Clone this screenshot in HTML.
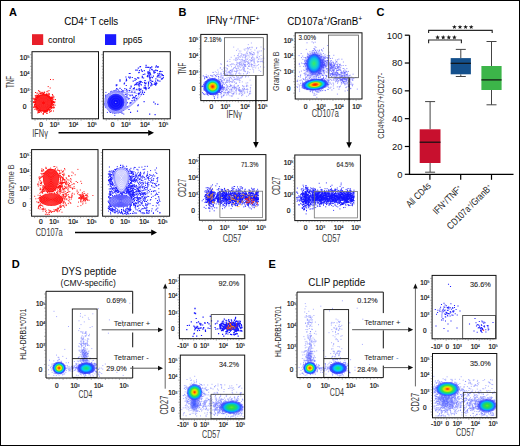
<!DOCTYPE html>
<html><head><meta charset="utf-8"><style>
html,body{margin:0;padding:0;background:#fff;}
body{width:520px;height:446px;overflow:hidden;font-family:"Liberation Sans", sans-serif;}
svg{display:block;}
</style></head><body><svg width="520" height="446" viewBox="0 0 520 446" font-family='"Liberation Sans", sans-serif'><defs><radialGradient id="p2core"><stop offset="0" stop-color="#0a0aff"/><stop offset="0.75" stop-color="#1616ff"/><stop offset="1" stop-color="#4a4aff"/></radialGradient><radialGradient id="g1"><stop offset="0" stop-color="#ff1a00" stop-opacity="1"/><stop offset="0.12" stop-color="#ff5a00" stop-opacity="1"/><stop offset="0.24" stop-color="#ffb000" stop-opacity="1"/><stop offset="0.36" stop-color="#c8f000" stop-opacity="1"/><stop offset="0.46" stop-color="#30e050" stop-opacity="1"/><stop offset="0.6" stop-color="#00c8ff" stop-opacity="1"/><stop offset="0.74" stop-color="#1f4dff" stop-opacity="1"/><stop offset="0.88" stop-color="#2a2aff" stop-opacity="0.8"/><stop offset="1" stop-color="#4a4aff" stop-opacity="0"/></radialGradient><radialGradient id="g2"><stop offset="0" stop-color="#2a40ff" stop-opacity="0.9"/><stop offset="0.6" stop-color="#2a30ff" stop-opacity="0.75"/><stop offset="1" stop-color="#4040ff" stop-opacity="0"/></radialGradient><radialGradient id="g3"><stop offset="0" stop-color="#40e860" stop-opacity="1"/><stop offset="0.25" stop-color="#20e0a0" stop-opacity="1"/><stop offset="0.5" stop-color="#10c8d8" stop-opacity="1"/><stop offset="0.7" stop-color="#1090ff" stop-opacity="1"/><stop offset="0.88" stop-color="#2050ff" stop-opacity="0.7"/><stop offset="1" stop-color="#3040ff" stop-opacity="0"/></radialGradient><radialGradient id="g4"><stop offset="0" stop-color="#ff1a00" stop-opacity="1"/><stop offset="0.16" stop-color="#ff4a00" stop-opacity="1"/><stop offset="0.3" stop-color="#ffd000" stop-opacity="1"/><stop offset="0.45" stop-color="#40e040" stop-opacity="1"/><stop offset="0.6" stop-color="#00c8ff" stop-opacity="1"/><stop offset="0.76" stop-color="#1f4dff" stop-opacity="1"/><stop offset="0.9" stop-color="#3030ff" stop-opacity="0.7"/><stop offset="1" stop-color="#4a4aff" stop-opacity="0"/></radialGradient><radialGradient id="g5"><stop offset="0" stop-color="#3040ff" stop-opacity="0.6"/><stop offset="0.6" stop-color="#3a40ff" stop-opacity="0.3"/><stop offset="1" stop-color="#5050ff" stop-opacity="0"/></radialGradient><radialGradient id="g6"><stop offset="0" stop-color="#ff1a00" stop-opacity="1"/><stop offset="0.18" stop-color="#ff8c00" stop-opacity="1"/><stop offset="0.32" stop-color="#ffee00" stop-opacity="1"/><stop offset="0.48" stop-color="#33e53a" stop-opacity="1"/><stop offset="0.62" stop-color="#00c8ff" stop-opacity="1"/><stop offset="0.78" stop-color="#1f4dff" stop-opacity="1"/><stop offset="0.92" stop-color="#3a3aff" stop-opacity="0.6"/><stop offset="1" stop-color="#5050ff" stop-opacity="0"/></radialGradient><radialGradient id="g7"><stop offset="0" stop-color="#20e060" stop-opacity="1"/><stop offset="0.22" stop-color="#10e0a0" stop-opacity="1"/><stop offset="0.42" stop-color="#00c8ff" stop-opacity="1"/><stop offset="0.66" stop-color="#1f4dff" stop-opacity="1"/><stop offset="0.86" stop-color="#2a2aff" stop-opacity="0.75"/><stop offset="1" stop-color="#4a4aff" stop-opacity="0"/></radialGradient><radialGradient id="g8"><stop offset="0" stop-color="#3050ff" stop-opacity="0.9"/><stop offset="0.7" stop-color="#4858ff" stop-opacity="0.55"/><stop offset="1" stop-color="#6070ff" stop-opacity="0"/></radialGradient><radialGradient id="g9"><stop offset="0" stop-color="#ff2000" stop-opacity="1"/><stop offset="0.1" stop-color="#ff6a00" stop-opacity="1"/><stop offset="0.2" stop-color="#ffc000" stop-opacity="1"/><stop offset="0.32" stop-color="#c0f000" stop-opacity="1"/><stop offset="0.46" stop-color="#40e040" stop-opacity="1"/><stop offset="0.6" stop-color="#10d0a0" stop-opacity="1"/><stop offset="0.7" stop-color="#00a8ff" stop-opacity="1"/><stop offset="0.82" stop-color="#2050ff" stop-opacity="0.8"/><stop offset="0.93" stop-color="#3a3aff" stop-opacity="0.45"/><stop offset="1" stop-color="#4a4aff" stop-opacity="0"/></radialGradient><radialGradient id="g10"><stop offset="0" stop-color="#60e830" stop-opacity="1"/><stop offset="0.2" stop-color="#30dc40" stop-opacity="1"/><stop offset="0.42" stop-color="#10d090" stop-opacity="1"/><stop offset="0.58" stop-color="#00b0ff" stop-opacity="1"/><stop offset="0.72" stop-color="#1f5aff" stop-opacity="0.9"/><stop offset="0.86" stop-color="#2a2aff" stop-opacity="0.55"/><stop offset="1" stop-color="#4a4aff" stop-opacity="0"/></radialGradient><radialGradient id="g11"><stop offset="0" stop-color="#3040ff" stop-opacity="0.45"/><stop offset="0.6" stop-color="#3a40ff" stop-opacity="0.25"/><stop offset="1" stop-color="#5050ff" stop-opacity="0"/></radialGradient><radialGradient id="g12"><stop offset="0" stop-color="#ff1a00" stop-opacity="1"/><stop offset="0.18" stop-color="#ff8c00" stop-opacity="1"/><stop offset="0.32" stop-color="#ffee00" stop-opacity="1"/><stop offset="0.48" stop-color="#33e53a" stop-opacity="1"/><stop offset="0.62" stop-color="#00c8ff" stop-opacity="1"/><stop offset="0.78" stop-color="#1f4dff" stop-opacity="1"/><stop offset="0.92" stop-color="#3a3aff" stop-opacity="0.6"/><stop offset="1" stop-color="#5050ff" stop-opacity="0"/></radialGradient><radialGradient id="g13"><stop offset="0" stop-color="#20e060" stop-opacity="1"/><stop offset="0.22" stop-color="#10e0a0" stop-opacity="1"/><stop offset="0.42" stop-color="#00c8ff" stop-opacity="1"/><stop offset="0.66" stop-color="#1f4dff" stop-opacity="1"/><stop offset="0.86" stop-color="#2a2aff" stop-opacity="0.75"/><stop offset="1" stop-color="#4a4aff" stop-opacity="0"/></radialGradient><radialGradient id="g14"><stop offset="0" stop-color="#3a50ff" stop-opacity="0.45"/><stop offset="0.7" stop-color="#4858ff" stop-opacity="0.25"/><stop offset="1" stop-color="#6070ff" stop-opacity="0"/></radialGradient><radialGradient id="g15"><stop offset="0" stop-color="#ff2000" stop-opacity="1"/><stop offset="0.1" stop-color="#ff6a00" stop-opacity="1"/><stop offset="0.2" stop-color="#ffc000" stop-opacity="1"/><stop offset="0.32" stop-color="#c0f000" stop-opacity="1"/><stop offset="0.46" stop-color="#40e040" stop-opacity="1"/><stop offset="0.6" stop-color="#10d0a0" stop-opacity="1"/><stop offset="0.7" stop-color="#00a8ff" stop-opacity="1"/><stop offset="0.82" stop-color="#2050ff" stop-opacity="0.8"/><stop offset="0.93" stop-color="#3a3aff" stop-opacity="0.45"/><stop offset="1" stop-color="#4a4aff" stop-opacity="0"/></radialGradient><radialGradient id="g16"><stop offset="0" stop-color="#60e830" stop-opacity="1"/><stop offset="0.2" stop-color="#30dc40" stop-opacity="1"/><stop offset="0.42" stop-color="#10d090" stop-opacity="1"/><stop offset="0.58" stop-color="#00b0ff" stop-opacity="1"/><stop offset="0.72" stop-color="#1f5aff" stop-opacity="0.9"/><stop offset="0.86" stop-color="#2a2aff" stop-opacity="0.55"/><stop offset="1" stop-color="#4a4aff" stop-opacity="0"/></radialGradient></defs><rect x="0.5" y="0.5" width="519" height="445" fill="#fff" stroke="#000" stroke-width="1"/><text x="9.00" y="16.30" font-size="11" text-anchor="start" fill="#000" font-weight="bold" >A</text><text x="178.50" y="16.00" font-size="11" text-anchor="start" fill="#000" font-weight="bold" >B</text><text x="376.50" y="16.30" font-size="11" text-anchor="start" fill="#000" font-weight="bold" >C</text><text x="11.80" y="267.60" font-size="11" text-anchor="start" fill="#000" font-weight="bold" >D</text><text x="268.60" y="267.60" font-size="11" text-anchor="start" fill="#000" font-weight="bold" >E</text><text x="64.20" y="25.20" font-size="10.3" text-anchor="start" fill="#000" textLength="54" lengthAdjust="spacingAndGlyphs" >CD4<tspan font-size="7" dy="-3.2">+</tspan><tspan dy="3.2"> T cells</tspan></text><rect x="32" y="34.2" width="11.2" height="10.8" fill="#e8202a"/><rect x="105" y="34.2" width="11.2" height="10.8" fill="#1a1aff"/><text x="48.00" y="43.30" font-size="9.6" text-anchor="start" fill="#000" textLength="27" lengthAdjust="spacingAndGlyphs" >control</text><text x="123.00" y="43.30" font-size="9.6" text-anchor="start" fill="#000" textLength="19.5" lengthAdjust="spacingAndGlyphs" >pp65</text><path transform="scale(0.1)" d="M346 1057h0m8-10h0m115 60h0m-14-150h0m62 125h0m17-64h0m-139-47h0m107 64h0m-43 55h0m-113-41h0m9-30h0m42-53h0m147 61h0m-138 70h0m99-35h0m-16-111h0m-13 19h0m40 8h0m-149 102h0m80-118h0m-69 168h0m61-174h0m68 126h0m-37 18h0m-10-7h0m-73-125h0m70 154h0m8-180h0m-8 176h0m-82-163h0m80 161h0m-52-28h0m93-20h0m-125-86h0m144 26h0m-33-31h0m34 0h0m-88-53h0m44 210h0m-95-74h0m142-51h0m-89 130h0m-53-150h0m45-31h0m-85 33h0m155 5h0m-65 99h0m45 8h0m26-6h0m23-79h0m-143-22h0m160 45h0m-139-124h0m-38 120h0m156-8h0m-90-99h0m1 10h0m81 45h0m23-25h0m-42 5h0m-117 121h0m146-11h0m-28-99h0m-63-25h0m54 3h0m32 90h0m-69 65h0m-92-152h0m79 146h0m-28-137h0m96 19h0m2-10h0m-38 139h0m66-142h0m-128 130h0m90-166h0m-81-2h0m-44 117h0m-1 19h0m27 55h0m109-104h0m49 31h0m-197-61h0m160 47h0m22 7h0m-96 50h0m-63-127h0m-8-37h0m88 165h0m65-61h0m-54 62h0m-60-147h0m30-10h0m75 37h0m-92-26h0m-58 6h0m6 136h0m100-176h0m-9 199h0m-70-143h0m127-3h0m7 46h0m-134 108h0m116-54h0m-63-106h0m25-19h0m9 163h0m9-16h0m-69-168h0m-31-18h0m119 165h0m-91 40h0m-76-96h0m26-14h0m129-58h0m23 70h0m-57 93h0m-99-135h0m-14 49h0m9-24h0m151 64h0m49-64h0m-128 101h0m-92-24h0m66 33h0m114-117h0m-9 50h0m-100-80h0m-35 10h0m116 111h0m-27 23h0m-83-17h0m103 14h0m-104-141h0m-22 2h0m91 158h0m51-133h0m24-2h0m-30-2h0m-65-20h0m54-11h0m17 139h0m25-51h0m7-68h0m-89-28h0m22 149h0m53-44h0m-143-49h0m95 133h0m69-109h0m-15-21h0m-123 99h0m-21-44h0m29-122h0m67 174h0m-95-41h0m-34-46h0m121-80h0m-86 26h0m-43 58h0m176-44h0m-39-38h0m28 24h0m-57-26h0m64 121h0m13-28h0m-152-72h0m24-8h0m-27 41h0m157 33h0m-79-107h0m79 120h0m-90 54h0m26-3h0m-24 49h0m95-133h0m-160-57h0m145 118h0m22-12h0m-60 44h0m62-33h0m-176 0h0m16 24h0m-24-96h0m60 102h0m106-47h0m-159 38h0m175-68h0m-1 57h0m-20-64h0m-7-17h0m29 17h0m-169-37h0m3 69h0m-14-32h0m42-50h0m-41 20h0m84 136h0m9-166h0m-27 156h0m-63-130h0m109 137h0m54-141h0m-18 70h0m-132 13h0m-4-49h0m27-58h0m-12 127h0m-1 25h0m131-35h0m-131-91h0m-29 91h0m15 29h0m25 8h0m107-114h0m16 94h0m-162-92h0m59 98h0m35 2h0m-44 16h0m13-8h0m6-142h0m-14-22h0m116 54h0m-185 74h0m6 26h0m147-111h0m-111 105h0m-12-4h0m90-141h0m-109 53h0m130-11h0m-130 37h0m170-11h0m-6 54h0m-6 9h0m-8-94h0m-15 117h0m-50 22h0m-80-99h0m22 99h0m-30-109h0m163-26h0m-134-51h0m99-20h0m-98 50h0m80-7h0m33 150h0m-109-26h0m-34-7h0m149-18h0m-106-82h0m119 89h0m-19-69h0m-29 103h0m-44-136h0m43 135h0m-24-147h0m26 15h0m61-11h0m-143 157h0m-14-72h0m170-43h0m-199 27h0m59-46h0m-52 70h0m72-83h0m56 129h0m18-123h0m23 58h0m-43 57h0m9-150h0m-15 31h0m-49-12h0m-9 152h0m105-119h0m-58 124h0m40 14h0m-86-31h0m-5 20h0m-13-29h0m-32 6h0m106-116h0m-83 107h0m-8-76h0m131 22h0m-128-47h0m-16 32h0m16 65h0m80 26h0m59-102h0m-133 120h0m123-41h0m-33 33h0m-99-122h0m103 105h0m47-21h0m-166-6h0m87-144h0m-77 147h0m34-141h0m53 19h0m54 90h0m-120-71h0m-45 57h0m22-52h0m130 14h0m-149 43h0m174-7h0m-39-74h0m-95 33h0m50 135h0m-54 7h0m128-18h0m-2 10h0m-162-120h0m188 29h0m-174-49h0m50 148h0m63-166h0m23 105h0m52-42h0m-162-63h0m41-11h0m30 16h0m-99 82h0m2-49h0m67 109h0m-48-142h0m121 154h0m-140-41h0m77-126h0m102 76h0m-58-58h0m-152 16h0m14 87h0m52 38h0m106-128h0m-67-34h0m70 116h0m-138-34h0m42-67h0m0 136h0m132-19h0m-47-116h0m-45 148h0m59-132h0m-7 117h0m7-66h0m-116 83h0m72-153h0m-87 36h0m122-14h0m27 7h0m-165 54h0m166-62h0m-136 105h0m132-140h0m-68 152h0m29-115h0m-64-45h0m61 41h0m-81-45h0m49 182h0m9-18h0m-63-134h0m-12-17h0m-12 43h0m129 7h0m-127-41h0m-15 104h0m147-9h0m-72 85h0m4-180h0m-92 46h0m168 22h0m-79-88h0m-82 94h0m30-67h0m69-12h0m29 12h0m39 40h0m-48 89h0m-120-29h0m103-111h0m-6 157h0m71-60h0m-177-64h0m120 104h0m-107-57h0m74 65h0m73-112h0m-50-22h0m-46 136h0m-25-120h0m-24 3h0m110 110h0m-68-153h0m-26 129h0m140-53h0m-72-86h0m47 170h0m36-46h0m-43 35h0m-106-28h0m147-32h0m-78 83h0m-5 13h0m-68-22h0m4-122h0m14-11h0m3-54h0m-47 136h0m36 28h0m6 18h0m84-6h0m-114-45h0m169-20h0" stroke="#ff0c0c" stroke-width="10.0" stroke-linecap="square" fill="none"/><circle cx="43.5" cy="102.9" r="8.4" fill="#ff0c0c"/><circle cx="43.5" cy="102.9" r="7.00" fill="none" stroke="#ff7070" stroke-width="0.3"/><circle cx="43.5" cy="102.9" r="6.00" fill="none" stroke="#ff7070" stroke-width="0.3"/><circle cx="43.5" cy="102.9" r="5.00" fill="none" stroke="#ff7070" stroke-width="0.3"/><circle cx="43.5" cy="102.9" r="4.00" fill="none" stroke="#ff7070" stroke-width="0.3"/><circle cx="43.5" cy="102.9" r="3.00" fill="none" stroke="#ff7070" stroke-width="0.3"/><circle cx="43.5" cy="102.9" r="2.00" fill="none" stroke="#ff7070" stroke-width="0.3"/><path transform="scale(0.1)" d="M482 866h0m20 14h0m-12 26h0m-135 19h0m150-130h0m27 1h0m8 174h0m-2 45h0m2 60h0m-5 35h0" stroke="#ff0c0c" stroke-width="10.0" stroke-linecap="square" fill="none"/><path transform="scale(0.1)" d="M1242 839h0m244-10h0m12-49h0m83 29h0m-181-140h0m-185 281h0m42 19h0m97-125h0m-22-33h0m9 76h0m132-122h0m-162 95h0m-140-10h0m217 95h0m-85-173h0m120 4h0m27 78h0m-196 140h0m298-271h0m-167 210h0m-126-163h0m-30 137h0m346-239h0m-77 142h0m43-105h0m-66 55h0m9 98h0m13-156h0m-297 110h0m211 79h0m148-103h0m-19-72h0m-274 178h0m157-179h0m-100 60h0m179-44h0m-207 176h0m198-137h0m-341 170h0m393-110h0m-65-98h0m-180 300h0m321-278h0m-128-22h0m-192 3h0m156 102h0m-65 98h0m-25 51h0m59-78h0m28-36h0m55-69h0m65-97h0m-36 13h0m19-18h0m-53 41h0m-17 141h0m-42-57h0m63 1h0m-164 51h0m148-116h0m-51 111h0m-91-87h0m267 6h0m-141-25h0m-20 117h0m-211-52h0m266-60h0m-311 112h0m194-179h0m-131 150h0m233-134h0m-333 135h0m436-45h0m-221 15h0m180-154h0m-144 176h0m-91 103h0m194-283h0m39 143h0m-95-141h0m47 188h0m8-22h0m-158-135h0m149-24h0m-93 22h0m146 5h0m-75 138h0m-52-97h0m-33 97h0m161-16h0m-9 10h0m-196 125h0m12-68h0m149-200h0m47-35h0m-140 269h0m75-136h0m4-13h0m-216-7h0m95 11h0m63 141h0m89-162h0m-141 173h0m-202 0h0m385-262h0m-397 242h0m224-90h0m-20-143h0m38 29h0m136 142h0m-32-76h0m-122 38h0m-133 98h0m309-176h0m-190 102h0m208-123h0m8-1h0m8 26h0m-246 94h0m-74-99h0m110 186h0m-11-198h0m129 125h0m-13-98h0m-42 132h0m-17-50h0m3-27h0m-104 116h0m-90 22h0m356-155h0m-130 32h0m-87 17h0m-9-57h0m68 100h0m-67 11h0m236-105h0m-233 76h0m0-44h0m149-86h0m-79-58h0m114 128h0m-373 216h0m257-122h0m-162-114h0m229 31h0m-126 81h0m-140-84h0m86 42h0m244-81h0m-356 267h0m258-161h0m91-208h0m-72 181h0m-345 36h0m33-88h0m164 32h0m-6 150h0m-88-21h0m289-116h0m-171-116h0m166 111h0m-235 81h0m8 63h0m280-212h0m-358 116h0m385-130h0m-323 113h0m168-140h0m14 23h0m83 6h0m-322 256h0m234-341h0m-76 270h0m-111-60h0m120-58h0m-157-33h0m172-12h0m-46 75h0m2 29h0m194-128h0m-219 91h0m-32 126h0m101-30h0m41-190h0m-65 62h0m-162 166h0m269-311h0m20 43h0m-62-39h0m-72-9h0m192 69h0m-174 30h0m79-83h0m-262 292h0m94-86h0m114-146h0m75-42h0m97 16h0m-319 241h0m332-179h0m-146-38h0m-28-65h0m-109 131h0m133-86h0m140 27h0m-55 88h0m-107-181h0m-289 263h0m206-139h0m17 128h0m147-60h0m-160 2h0m-219 1h0m316-130h0m-117 75h0m222-42h0m-412 240h0m191-36h0m79-70h0m156-137h0m-149 59h0m-289 95h0m412-133h0m-52 46h0m-148-114h0m90 129h0m-19-123h0m-100 270h0m219-136h0m-296-37h0m285 342h0m-168-98h0m-63-42h0m177 135h0m-188-115h0m229-5h0m40 23h0m-137-28h0m-62 40h0m-4 55h0m-85-16h0m263-56h0m-208-37h0m-39 121h0" stroke="#1c1cff" stroke-width="11.6" stroke-linecap="square" fill="none"/><path transform="scale(0.1)" d="M1082 964h0m10 11h0m-34 101h0m16 48h0m141-164h0m-22-31h0m42 147h0m3 65h0m19-147h0m-201 45h0m154 62h0m-156-89h0m5-36h0m167 91h0m1 65h0m-104-20h0m-64-132h0m42 142h0m-49-133h0m203 78h0m-176-96h0m-16 39h0m91 96h0m68-9h0m-164-131h0m144-18h0m9-29h0m-6 201h0m31-130h0m-21 128h0m14-141h0m-133 127h0m44-176h0m-72 119h0m-11 4h0m62 46h0m128-49h0m4-7h0m27-64h0m-178 107h0m-41-125h0m37 120h0m150-49h0m-101-90h0m53 181h0m-48-194h0m-58 180h0m56 47h0m131-164h0m-62 140h0m10-42h0m-23-140h0m67-10h0m-203 78h0m60 115h0m-73-179h0m93-17h0m97 123h0m-183-65h0m70 129h0m-22-20h0m37 10h0m-13-13h0m-86-64h0m47 63h0m169-60h0m-192-48h0m87-76h0m60 5h0m-76 8h0m-81 75h0m154-106h0m-141 51h0m172 104h0m6-61h0m-35 108h0m-70-186h0m116 115h0m-41-67h0m27 113h0m22-5h0m-209-63h0m37 111h0m146-132h0m-100 121h0m-36 1h0m-56-39h0m213-95h0m-105 152h0m-94-173h0m58 148h0m60 29h0m57-83h0m-57-144h0m-38 234h0m105-130h0m-97-81h0m-12 200h0m-24-26h0m124-92h0m50-19h0m-62-69h0m-170 61h0m158-60h0m-76-7h0m117 104h0m-150-74h0m-24-6h0m52-29h0m-74 138h0m58-99h0m124 78h0m-75 92h0m-53-204h0m110 32h0m-140 18h0m143 96h0m-123-143h0m-4 13h0m180 61h0m-25 42h0m-42-79h0m56 73h0m-215-101h0m117-32h0m-132 157h0m61 75h0m-29-38h0m159-10h0m-10 13h0m-30-175h0m-8 191h0m82-73h0m-136 85h0m17-13h0m-55 6h0m76-188h0m42 39h0m20 141h0m10-86h0" stroke="#1c1cff" stroke-width="9.0" stroke-linecap="square" fill="none"/><path d="M115.8 91.7 C 126 91.0, 139 88, 143 92 C 141 98, 126 112.5, 115.8 113.0" stroke="#1c1cff" stroke-width="0.4" fill="none" opacity="0.9"/><path d="M115.8 93.2 C 126 92.5, 135 91, 139 95 C 137 101, 126 111.0, 115.8 111.5" stroke="#1c1cff" stroke-width="0.4" fill="none" opacity="0.9"/><path d="M115.8 94.7 C 126 94.0, 131 93.5, 135 97.5 C 133 103.5, 126 109.5, 115.8 110.0" stroke="#1c1cff" stroke-width="0.4" fill="none" opacity="0.9"/><circle cx="115.8" cy="102.2" r="11.2" fill="#e4e4ff"/><circle cx="115.8" cy="102.2" r="9.5" fill="none" stroke="#3a3aff" stroke-width="0.45"/><circle cx="115.8" cy="102.2" r="10.3" fill="none" stroke="#3a3aff" stroke-width="0.45"/><circle cx="115.8" cy="102.2" r="11.1" fill="none" stroke="#3a3aff" stroke-width="0.45"/><circle cx="115.8" cy="102.2" r="8.8" fill="url(#p2core)"/><circle cx="115.8" cy="102.2" r="3.0" fill="none" stroke="#3434ff" stroke-width="0.4"/><circle cx="115.8" cy="102.2" r="5.2" fill="none" stroke="#3434ff" stroke-width="0.4"/><circle cx="115.8" cy="102.2" r="7.2" fill="none" stroke="#3434ff" stroke-width="0.4"/><circle cx="115.8" cy="102.2" r="0.5" fill="#fff"/><path transform="scale(0.1)" d="M626 1745h0m-46 77h0m17 143h0m7-135h0m212 4h0m-178-8h0m-65 49h0m105-77h0m-96-38h0m-93 288h0m123-127h0m-17-43h0m-2-49h0m13 209h0m114-78h0m-20-104h0m-81 13h0m-23 117h0m-61-224h0m87 236h0m17-31h0m2 14h0m-69-14h0m123-131h0m-135 40h0m-31-110h0m135 82h0m13 76h0m-99-53h0m-24-9h0m69 144h0m-30-27h0m16-69h0m27 68h0m13-280h0m-150 143h0m170 28h0m-10 94h0m-24-179h0m17 150h0m-50-22h0m-58-34h0m86-160h0m-100 275h0m124-118h0m72 57h0m-204-70h0m139 194h0m-73-96h0m-8-18h0m61-54h0m-35-35h0m34 68h0m-65 12h0m77-46h0m39-125h0m-139 189h0m117 0h0m-23-66h0m-77 5h0m4-155h0m124 239h0m-75-253h0m-27 270h0m-10-121h0m81-83h0m-40 36h0m-16 5h0m-58 75h0m79 118h0m-65-95h0m7-11h0m43-87h0m-161 34h0m171 24h0m15 15h0m-111-85h0m95 13h0m-35 112h0m100-181h0m-169 123h0m65-40h0m71-5h0m-36 114h0m-79-55h0m2 108h0m6-67h0m-41-60h0m174 126h0m-29-168h0m38 182h0m-209-150h0m-8 56h0m119-88h0m9-75h0m-138 49h0m154 20h0m-10-6h0m18-108h0m57 132h0m-201-82h0m157 243h0m22-232h0m-72 144h0m91-19h0m-47 41h0m21 27h0m65-249h0m-190 89h0m76 22h0m146-84h0m-183 93h0m35 49h0m87 90h0m-210-179h0m110 169h0m55-285h0m61 191h0m-41 6h0m-44 42h0m-135-55h0m143-69h0m-34-89h0m-78 148h0m45-57h0m21 62h0m-18 88h0m-23-28h0m36 50h0m15-120h0m127-10h0m-69 136h0m-8-118h0m8 6h0m-70-6h0m-18-139h0m179 218h0m-240 41h0m105-7h0m-27-184h0m8-16h0m94 87h0m37 92h0m-184-91h0m100-67h0m39 129h0m-127-187h0m61-6h0m-23 21h0m3 111h0m258 71h0m9 70h0m-35-48h0m-10 12h0m25 19h0m-20 0h0m41 2h0m-6 23h0m-1-10h0m23-47h0m-71-7h0m34 28h0m30 1h0m-58 3h0m-23 40h0m38-78h0m-11 36h0m50-33h0m-9 36h0m-44 74h0m-6-156h0m30 66h0m-26 23h0m26-39h0m-32 1h0m-11-5h0m62 10h0m-51-8h0m14 26h0m10-7h0m-42-44h0m86 46h0m-37-8h0m-4 52h0m63-10h0m-13-3h0m-12-4h0m-36-9h0m-3 54h0m-7-91h0m25 20h0m-10-2h0m24 26h0m-41-37h0m3-16h0m-11 25h0m2 53h0m5-38h0m55 9h0m-50-23h0m-24 14h0m51 7h0m17-34h0m-14 26h0m25-41h0m-37 52h0m-34 26h0m18-42h0m28 4h0m-57-2h0m11 21h0m3 6h0m-6-47h0m53-4h0m-32-27h0m-25 58h0m16 6h0m15 40h0m20-46h0m-12 15h0m28-11h0m-42-1h0m11 19h0m5-89h0m-5 38h0m-59-18h0m14 39h0m18-12h0m50 67h0m21-63h0m-47-30h0m1 42h0m42 21h0m-31-4h0m23-19h0m-60-6h0m-19 13h0m-70-44h0m211 14h0m-88 35h0m-394-78h0m162 140h0m-107 64h0m94-8h0m-173-198h0m46-53h0m72 10h0m69 203h0m-52 31h0m79-151h0m-1 1h0m-233 50h0m30-127h0m-38 103h0m134-102h0m-147 111h0m127 124h0m-103-188h0m-5 130h0m201 14h0m-135 75h0m-65-131h0m33-96h0m172 180h0m8-121h0m-114-83h0m23-7h0m8 2h0m-174 103h0m198 110h0m-164-121h0m36-77h0m-44 176h0m-37-113h0m182-90h0m-15 251h0m-1-4h0m-90-195h0m44 199h0m-6-18h0m-68-53h0m135-199h0m-40-12h0m-54 45h0m-29 170h0m32 25h0m-69-64h0m252 104h0m-133 7h0m150-76h0m-192-185h0m129 22h0m39 174h0m-48-185h0m15 200h0m-182-146h0m-12 132h0m207-151h0m-212 38h0m72-81h0m-70 152h0m19-142h0m-5 77h0m-8 64h0m188 62h0m64-66h0m-258 68h0m94 60h0m-47-35h0m29-234h0m119 217h0m-122-3h0m-52-17h0m35 17h0m248-123h0m-222-135h0m-45 219h0m9 39h0m190-90h0m-226 58h0m33-158h0m97 214h0m99-150h0m-168 178h0m-14-46h0m-1-234h0m51 6h0m-27 32h0m98 195h0m-73 3h0m-85-120h0m198 77h0m-15 29h0m-47-209h0m-121 215h0m-19-1h0m210-17h0m-19 37h0m73-176h0m-240-4h0m8-34h0m186 128h0m-96-143h0m14 2h0m-107 180h0m227-33h0m-43-129h0m-205 68h0m-5 73h0m37-151h0m104 221h0m-143-135h0m86-100h0m157 114h0m-111-145h0m-16 29h0m-22 250h0m101-228h0m38 165h0m-213-147h0m-3 140h0m124-161h0m-141 3h0m31-13h0m131 222h0m6-14h0m7 15h0m-132-231h0m-53 184h0m44-170h0m71-1h0m-7-18h0m96 200h0m-44-197h0m78 181h0m-25 18h0m-23-167h0m65 165h0m-105 26h0m37 21h0m62-93h0m-119-136h0m89-20h0m-6 68h0m-99-75h0m16-5h0m-132 169h0m157-164h0m-53 283h0m145-126h0m1-56h0m-118-95h0m-114 171h0m25 51h0m24 26h0m61-270h0m22 38h0m-156 143h0m164 85h0m86-77h0m-205-105h0m-22 23h0m127 163h0m-106-25h0m67 18h0m16-239h0m-8 3h0m133 48h0m-133 184h0m68 6h0m-164-215h0m140-186h0m-75 181h0m103-150h0m53 50h0m-250 56h0m61-139h0m24 177h0m153-23h0m21-103h0m-240 25h0m3 17h0m25-33h0m174 87h0m25-82h0m-23 117h0m-68 24h0m-98-52h0m40-161h0m81 10h0m-124 201h0m-24-78h0m202 18h0m-205-72h0m72 111h0m87-166h0m-76 171h0m113-145h0m22 109h0m-69 47h0m-104-176h0m-10 20h0m27-69h0m89 4h0m-135 54h0m-2 34h0m188 88h0m23 15h0m2-103h0m-194-41h0m15 144h0m63 35h0m-126-92h0m211-92h0m-160 171h0m10-11h0m105 1h0m-65-188h0m65-9h0m-62-1h0m-34-18h0m-65 95h0m84 140h0m-9 2h0m154-103h0m-197 64h0m180 15h0m-2-19h0m-175-131h0m219 61h0m-264 64h0m224-56h0m-80 149h0m78-197h0m-10-22h0m39-27h0m-154 210h0m-3 5h0m71-258h0m58 205h0m0-91h0m-16 86h0m-166-100h0m187 102h0m-12 26h0m-165 4h0m203-72h0m-195 84h0m172-61h0m-12-70h0m-198 55h0m54-109h0m-28 34h0m168 104h0m-134 24h0m-45-198h0m-2 14h0m1 209h0m-7-176h0m200 42h0m-17 79h0m-113-136h0m105 22h0m-192 49h0m93-94h0m87 176h0m-86 40h0m-53-216h0m101 208h0m-1 3h0m36-203h0m-158 119h0m19 32h0m-18-21h0m38 65h0m154-69h0m-38 99h0m-109-245h0m5 231h0m113-224h0m34 125h0m-193 33h0m181 48h0m-26 31h0m11-60h0m-71 67h0m-94-12h0m187-139h0m6 53h0m-18-130h0m7 89h0m-56 139h0m-3-239h0m99 128h0m-236-46h0m235-46h0m-233 154h0m58 13h0m182-92h0m-99-86h0m-46 184h0m99-38h0m-14 16h0m-81-203h0m1 218h0m86-142h0m-25-85h0m56 104h0m-133-72h0m-38 238h0m86-276h0m-54 53h0m115 16h0m-149 174h0m155-39h0m-226-33h0m42-127h0m57 208h0m170-120h0m-62-94h0m13 160h0m28 34h0m-183-25h0m-55-95h0m57-43h0m169 105h0m-210-31h0m186-57h0m-54-44h0m-134 146h0m201 17h0m-152 20h0m-16-155h0m-26 30h0m216 68h0m-132 83h0m25-19h0m-100-182h0m192-13h0m-116 226h0m119-163h0m-161 125h0m70 27h0m-107-210h0m192 170h0m-193-53h0m33 60h0m47-191h0m136 135h0m-211 65h0m-1-145h0m19-13h0m42 180h0m121-54h0m21-63h0m-119-101h0m97 118h0m-15 58h0m-168-54h0m182 72h0m41-98h0m-62-54h0m-148-41h0m200 46h0m15 4h0m-20 35h0m-149-83h0m115 66h0m-204 81h0m212-81h0m25 84h0m-41 237h0m101-329h0m35 211h0m-37-89h0m30-59h0m-108-25h0m-14 153h0m116-165h0m25 97h0m-205 86h0m109-78h0m-48-110h0m82 211h0m-65-80h0m85-50h0m-99 97h0m180-56h0m-121 64h0m91-100h0m-82 81h0m2 50h0m-85-7h0m157-259h0m-87 92h0m52 93h0m78-91h0m3 239h0m-76-37h0m-13-60h0m-24-137h0m-14 210h0m66-284h0m-34 191h0m3-29h0m84-1h0m-89-74h0m32 147h0m-115-82h0m163-93h0m-15 69h0m-83-66h0m26-17h0m6 69h0m-63-119h0m36 127h0m-19 63h0m60 34h0m-45 75h0m-74-174h0m43 21h0m-13 93h0m42-170h0m-40 46h0m34-43h0m1 18h0m-56 80h0m124-29h0m82-79h0m-125 223h0m-22-76h0m-27-6h0m80 16h0m-9-157h0m-8 185h0m-25-73h0m35-66h0m-81-38h0m85-23h0m9 81h0m-49-40h0m10-16h0m-29 91h0m-101-20h0m60-33h0m68 32h0m-32-70h0m78 62h0m54-191h0m-137 295h0m46-135h0m51-18h0m-113 144h0m34-171h0m81 31h0m-74 110h0m-4 39h0m45 44h0m-80-89h0m-11-110h0" stroke="#ff0c0c" stroke-width="9.0" stroke-linecap="square" fill="none"/><path d="M51.00 168.80 L52.23 168.90 L53.42 169.20 L54.55 169.70 L55.60 170.38 L56.53 171.24 L57.34 172.26 L57.99 173.42 L58.49 174.70 L58.83 176.08 L59.00 177.55 L59.02 179.06 L58.90 180.60 L58.63 182.14 L58.25 183.65 L57.76 185.12 L57.19 186.50 L56.54 187.78 L55.83 188.94 L55.08 189.96 L54.30 190.82 L53.49 191.50 L52.67 192.00 L51.84 192.30 L51.00 192.40 L50.16 192.30 L49.33 192.00 L48.51 191.50 L47.70 190.82 L46.92 189.96 L46.17 188.94 L45.46 187.78 L44.81 186.50 L44.24 185.12 L43.75 183.65 L43.37 182.14 L43.10 180.60 L42.98 179.06 L43.00 177.55 L43.17 176.08 L43.51 174.70 L44.01 173.42 L44.66 172.26 L45.47 171.24 L46.40 170.38 L47.45 169.70 L48.58 169.20 L49.77 168.90Z" fill="#ff0c0c"/><path d="M51.20 193.30 L52.75 193.35 L54.28 193.51 L55.75 193.78 L57.15 194.14 L58.44 194.60 L59.61 195.15 L60.64 195.76 L61.51 196.45 L62.19 197.19 L62.69 197.97 L63.00 198.78 L63.10 199.60 L63.00 200.42 L62.69 201.23 L62.19 202.01 L61.51 202.75 L60.64 203.44 L59.61 204.05 L58.44 204.60 L57.15 205.06 L55.75 205.42 L54.28 205.69 L52.75 205.85 L51.20 205.90 L49.65 205.85 L48.12 205.69 L46.65 205.42 L45.25 205.06 L43.96 204.60 L42.79 204.05 L41.76 203.44 L40.89 202.75 L40.21 202.01 L39.71 201.23 L39.40 200.42 L39.30 199.60 L39.40 198.78 L39.71 197.97 L40.21 197.19 L40.89 196.45 L41.76 195.76 L42.79 195.15 L43.96 194.60 L45.25 194.14 L46.65 193.78 L48.12 193.51 L49.65 193.35Z" fill="#ff0c0c"/><path d="M51.00 170.15 L52.07 170.24 L53.12 170.50 L54.11 170.94 L55.02 171.53 L55.84 172.28 L56.54 173.17 L57.12 174.19 L57.55 175.31 L57.85 176.52 L58.00 177.80 L58.02 179.13 L57.91 180.47 L57.68 181.82 L57.34 183.15 L56.92 184.43 L56.41 185.64 L55.85 186.76 L55.23 187.78 L54.57 188.67 L53.88 189.42 L53.18 190.01 L52.46 190.45 L51.73 190.71 L51.00 190.80 L50.27 190.71 L49.54 190.45 L48.82 190.01 L48.12 189.42 L47.43 188.67 L46.77 187.78 L46.15 186.76 L45.59 185.64 L45.08 184.43 L44.66 183.15 L44.32 181.82 L44.09 180.47 L43.98 179.13 L44.00 177.80 L44.15 176.52 L44.45 175.31 L44.88 174.19 L45.46 173.17 L46.16 172.28 L46.98 171.53 L47.89 170.94 L48.88 170.50 L49.93 170.24Z" fill="none" stroke="#ff9a9a" stroke-width="0.3"/><path d="M51.20 194.09 L52.56 194.13 L53.89 194.28 L55.18 194.51 L56.41 194.83 L57.54 195.23 L58.56 195.70 L59.46 196.24 L60.22 196.84 L60.82 197.49 L61.26 198.17 L61.52 198.88 L61.61 199.60 L61.52 200.32 L61.26 201.03 L60.82 201.71 L60.22 202.36 L59.46 202.96 L58.56 203.50 L57.54 203.97 L56.41 204.37 L55.18 204.69 L53.89 204.92 L52.56 205.07 L51.20 205.11 L49.84 205.07 L48.51 204.92 L47.22 204.69 L45.99 204.37 L44.86 203.97 L43.84 203.50 L42.94 202.96 L42.18 202.36 L41.58 201.71 L41.14 201.03 L40.88 200.32 L40.79 199.60 L40.88 198.88 L41.14 198.17 L41.58 197.49 L42.18 196.84 L42.94 196.24 L43.84 195.70 L44.86 195.23 L45.99 194.83 L47.22 194.51 L48.51 194.28 L49.84 194.13Z" fill="none" stroke="#ff9a9a" stroke-width="0.3"/><path d="M51.00 171.50 L51.92 171.58 L52.81 171.80 L53.67 172.17 L54.45 172.69 L55.15 173.33 L55.75 174.09 L56.24 174.96 L56.62 175.92 L56.87 176.96 L57.00 178.06 L57.02 179.19 L56.92 180.35 L56.73 181.51 L56.44 182.64 L56.07 183.74 L55.64 184.78 L55.15 185.74 L54.62 186.61 L54.06 187.37 L53.47 188.01 L52.87 188.53 L52.25 188.90 L51.63 189.12 L51.00 189.20 L50.37 189.12 L49.75 188.90 L49.13 188.53 L48.53 188.01 L47.94 187.37 L47.38 186.61 L46.85 185.74 L46.36 184.78 L45.93 183.74 L45.56 182.64 L45.27 181.51 L45.08 180.35 L44.98 179.19 L45.00 178.06 L45.13 176.96 L45.38 175.92 L45.76 174.96 L46.25 174.09 L46.85 173.33 L47.55 172.69 L48.33 172.17 L49.19 171.80 L50.08 171.58Z" fill="none" stroke="#ff9a9a" stroke-width="0.3"/><path d="M51.20 194.88 L52.36 194.92 L53.51 195.04 L54.62 195.23 L55.66 195.51 L56.63 195.85 L57.51 196.26 L58.28 196.72 L58.93 197.24 L59.45 197.79 L59.82 198.38 L60.05 198.98 L60.12 199.60 L60.05 200.22 L59.82 200.82 L59.45 201.41 L58.93 201.96 L58.28 202.48 L57.51 202.94 L56.63 203.35 L55.66 203.69 L54.62 203.97 L53.51 204.16 L52.36 204.28 L51.20 204.32 L50.04 204.28 L48.89 204.16 L47.78 203.97 L46.74 203.69 L45.77 203.35 L44.89 202.94 L44.12 202.48 L43.47 201.96 L42.95 201.41 L42.58 200.82 L42.35 200.22 L42.28 199.60 L42.35 198.98 L42.58 198.38 L42.95 197.79 L43.47 197.24 L44.12 196.72 L44.89 196.26 L45.77 195.85 L46.74 195.51 L47.78 195.23 L48.89 195.04 L50.04 194.92Z" fill="none" stroke="#ff9a9a" stroke-width="0.3"/><path d="M51.00 172.85 L51.77 172.91 L52.51 173.10 L53.22 173.41 L53.87 173.84 L54.46 174.37 L54.96 175.01 L55.37 175.74 L55.68 176.54 L55.89 177.40 L56.00 178.32 L56.01 179.26 L55.94 180.22 L55.77 181.19 L55.53 182.13 L55.23 183.05 L54.87 183.91 L54.46 184.71 L54.02 185.44 L53.55 186.08 L53.06 186.61 L52.56 187.04 L52.04 187.35 L51.52 187.54 L51.00 187.60 L50.48 187.54 L49.96 187.35 L49.44 187.04 L48.94 186.61 L48.45 186.08 L47.98 185.44 L47.54 184.71 L47.13 183.91 L46.77 183.05 L46.47 182.13 L46.23 181.19 L46.06 180.22 L45.99 179.26 L46.00 178.32 L46.11 177.40 L46.32 176.54 L46.63 175.74 L47.04 175.01 L47.54 174.37 L48.13 173.84 L48.78 173.41 L49.49 173.10 L50.23 172.91Z" fill="none" stroke="#ff9a9a" stroke-width="0.3"/><path d="M51.20 195.66 L52.17 195.70 L53.12 195.80 L54.05 195.96 L54.92 196.19 L55.73 196.48 L56.46 196.82 L57.10 197.20 L57.64 197.63 L58.07 198.09 L58.38 198.58 L58.57 199.09 L58.64 199.60 L58.57 200.11 L58.38 200.62 L58.07 201.11 L57.64 201.57 L57.10 202.00 L56.46 202.38 L55.73 202.72 L54.92 203.01 L54.05 203.24 L53.12 203.40 L52.17 203.50 L51.20 203.54 L50.23 203.50 L49.28 203.40 L48.35 203.24 L47.48 203.01 L46.67 202.72 L45.94 202.38 L45.30 202.00 L44.76 201.57 L44.33 201.11 L44.02 200.62 L43.83 200.11 L43.76 199.60 L43.83 199.09 L44.02 198.58 L44.33 198.09 L44.76 197.63 L45.30 197.20 L45.94 196.82 L46.67 196.48 L47.48 196.19 L48.35 195.96 L49.28 195.80 L50.23 195.70Z" fill="none" stroke="#ff9a9a" stroke-width="0.3"/><path d="M51.00 174.20 L51.61 174.25 L52.21 174.40 L52.78 174.65 L53.30 174.99 L53.77 175.42 L54.17 175.93 L54.50 176.51 L54.74 177.15 L54.91 177.84 L55.00 178.57 L55.01 179.33 L54.95 180.10 L54.82 180.87 L54.63 181.63 L54.38 182.36 L54.09 183.05 L53.77 183.69 L53.42 184.27 L53.04 184.78 L52.65 185.21 L52.24 185.55 L51.83 185.80 L51.42 185.95 L51.00 186.00 L50.58 185.95 L50.17 185.80 L49.76 185.55 L49.35 185.21 L48.96 184.78 L48.58 184.27 L48.23 183.69 L47.91 183.05 L47.62 182.36 L47.37 181.63 L47.18 180.87 L47.05 180.10 L46.99 179.33 L47.00 178.57 L47.09 177.84 L47.26 177.15 L47.50 176.51 L47.83 175.93 L48.23 175.42 L48.70 174.99 L49.22 174.65 L49.79 174.40 L50.39 174.25Z" fill="none" stroke="#ff9a9a" stroke-width="0.3"/><path d="M51.20 196.45 L51.98 196.48 L52.74 196.56 L53.48 196.69 L54.18 196.87 L54.82 197.10 L55.41 197.37 L55.92 197.68 L56.35 198.03 L56.70 198.39 L56.95 198.78 L57.10 199.19 L57.15 199.60 L57.10 200.01 L56.95 200.42 L56.70 200.81 L56.35 201.17 L55.92 201.52 L55.41 201.83 L54.82 202.10 L54.18 202.33 L53.48 202.51 L52.74 202.64 L51.98 202.72 L51.20 202.75 L50.42 202.72 L49.66 202.64 L48.92 202.51 L48.23 202.33 L47.58 202.10 L46.99 201.83 L46.48 201.52 L46.05 201.17 L45.70 200.81 L45.45 200.42 L45.30 200.01 L45.25 199.60 L45.30 199.19 L45.45 198.78 L45.70 198.39 L46.05 198.03 L46.48 197.68 L46.99 197.37 L47.58 197.10 L48.23 196.87 L48.92 196.69 L49.66 196.56 L50.42 196.48Z" fill="none" stroke="#ff9a9a" stroke-width="0.3"/><path d="M51.00 175.55 L51.46 175.59 L51.91 175.70 L52.33 175.89 L52.72 176.14 L53.07 176.46 L53.38 176.85 L53.62 177.28 L53.81 177.76 L53.94 178.28 L54.00 178.83 L54.01 179.40 L53.96 179.97 L53.86 180.55 L53.72 181.12 L53.54 181.67 L53.32 182.19 L53.08 182.67 L52.81 183.10 L52.53 183.49 L52.24 183.81 L51.93 184.06 L51.63 184.25 L51.31 184.36 L51.00 184.40 L50.69 184.36 L50.37 184.25 L50.07 184.06 L49.76 183.81 L49.47 183.49 L49.19 183.10 L48.92 182.67 L48.68 182.19 L48.46 181.67 L48.28 181.12 L48.14 180.55 L48.04 179.97 L47.99 179.40 L48.00 178.83 L48.06 178.28 L48.19 177.76 L48.38 177.28 L48.62 176.85 L48.93 176.46 L49.28 176.14 L49.67 175.89 L50.09 175.70 L50.54 175.59Z" fill="none" stroke="#ff9a9a" stroke-width="0.3"/><path d="M51.20 197.24 L51.78 197.26 L52.35 197.32 L52.91 197.42 L53.43 197.55 L53.92 197.73 L54.36 197.93 L54.74 198.16 L55.06 198.42 L55.32 198.70 L55.51 198.99 L55.62 199.29 L55.66 199.60 L55.62 199.91 L55.51 200.21 L55.32 200.50 L55.06 200.78 L54.74 201.04 L54.36 201.27 L53.92 201.47 L53.43 201.65 L52.91 201.78 L52.35 201.88 L51.78 201.94 L51.20 201.96 L50.62 201.94 L50.05 201.88 L49.49 201.78 L48.97 201.65 L48.48 201.47 L48.04 201.27 L47.66 201.04 L47.34 200.78 L47.08 200.50 L46.89 200.21 L46.78 199.91 L46.74 199.60 L46.78 199.29 L46.89 198.99 L47.08 198.70 L47.34 198.42 L47.66 198.16 L48.04 197.93 L48.48 197.73 L48.97 197.55 L49.49 197.42 L50.05 197.32 L50.62 197.26Z" fill="none" stroke="#ff9a9a" stroke-width="0.3"/><path d="M51.00 176.90 L51.31 176.93 L51.60 177.00 L51.89 177.12 L52.15 177.30 L52.38 177.51 L52.58 177.76 L52.75 178.05 L52.87 178.38 L52.96 178.72 L53.00 179.09 L53.01 179.46 L52.97 179.85 L52.91 180.24 L52.81 180.61 L52.69 180.98 L52.55 181.32 L52.38 181.65 L52.21 181.94 L52.02 182.19 L51.82 182.40 L51.62 182.58 L51.42 182.70 L51.21 182.77 L51.00 182.80 L50.79 182.77 L50.58 182.70 L50.38 182.58 L50.18 182.40 L49.98 182.19 L49.79 181.94 L49.62 181.65 L49.45 181.32 L49.31 180.98 L49.19 180.61 L49.09 180.24 L49.03 179.85 L48.99 179.46 L49.00 179.09 L49.04 178.72 L49.13 178.38 L49.25 178.05 L49.42 177.76 L49.62 177.51 L49.85 177.30 L50.11 177.12 L50.40 177.00 L50.69 176.93Z" fill="none" stroke="#ff9a9a" stroke-width="0.3"/><path d="M51.20 198.03 L51.59 198.04 L51.97 198.08 L52.34 198.14 L52.69 198.24 L53.01 198.35 L53.30 198.49 L53.56 198.64 L53.78 198.81 L53.95 199.00 L54.07 199.19 L54.15 199.39 L54.18 199.60 L54.15 199.81 L54.07 200.01 L53.95 200.20 L53.78 200.39 L53.56 200.56 L53.30 200.71 L53.01 200.85 L52.69 200.96 L52.34 201.06 L51.97 201.12 L51.59 201.16 L51.20 201.17 L50.81 201.16 L50.43 201.12 L50.06 201.06 L49.71 200.96 L49.39 200.85 L49.10 200.71 L48.84 200.56 L48.62 200.39 L48.45 200.20 L48.33 200.01 L48.25 199.81 L48.23 199.60 L48.25 199.39 L48.33 199.19 L48.45 199.00 L48.62 198.81 L48.84 198.64 L49.10 198.49 L49.39 198.35 L49.71 198.24 L50.06 198.14 L50.43 198.08 L50.81 198.04Z" fill="none" stroke="#ff9a9a" stroke-width="0.3"/><path d="M51.00 178.25 L51.15 178.26 L51.30 178.30 L51.44 178.36 L51.57 178.45 L51.69 178.55 L51.79 178.68 L51.87 178.83 L51.94 178.99 L51.98 179.16 L52.00 179.34 L52.00 179.53 L51.99 179.72 L51.95 179.92 L51.91 180.11 L51.85 180.29 L51.77 180.46 L51.69 180.62 L51.60 180.77 L51.51 180.90 L51.41 181.00 L51.31 181.09 L51.21 181.15 L51.10 181.19 L51.00 181.20 L50.90 181.19 L50.79 181.15 L50.69 181.09 L50.59 181.00 L50.49 180.90 L50.40 180.77 L50.31 180.62 L50.23 180.46 L50.15 180.29 L50.09 180.11 L50.05 179.92 L50.01 179.72 L50.00 179.53 L50.00 179.34 L50.02 179.16 L50.06 178.99 L50.13 178.83 L50.21 178.68 L50.31 178.55 L50.43 178.45 L50.56 178.36 L50.70 178.30 L50.85 178.26Z" fill="none" stroke="#ff9a9a" stroke-width="0.3"/><path d="M51.20 198.81 L51.39 198.82 L51.58 198.84 L51.77 198.87 L51.94 198.92 L52.11 198.98 L52.25 199.04 L52.38 199.12 L52.49 199.21 L52.57 199.30 L52.64 199.40 L52.67 199.50 L52.69 199.60 L52.67 199.70 L52.64 199.80 L52.57 199.90 L52.49 199.99 L52.38 200.08 L52.25 200.16 L52.11 200.22 L51.94 200.28 L51.77 200.33 L51.58 200.36 L51.39 200.38 L51.20 200.39 L51.01 200.38 L50.82 200.36 L50.63 200.33 L50.46 200.28 L50.29 200.22 L50.15 200.16 L50.02 200.08 L49.91 199.99 L49.83 199.90 L49.76 199.80 L49.73 199.70 L49.71 199.60 L49.73 199.50 L49.76 199.40 L49.83 199.30 L49.91 199.21 L50.02 199.12 L50.15 199.04 L50.29 198.98 L50.46 198.92 L50.63 198.87 L50.82 198.84 L51.01 198.82Z" fill="none" stroke="#ff9a9a" stroke-width="0.3"/><path transform="scale(0.1)" d="M1174 1873h0m192 258h0m-65-36h0m-125-2h0m135-100h0m96 109h0m48-122h0m-103-186h0m-130 1h0m254 53h0m-5 254h0m-343-2h0m144-354h0m85 172h0m95 81h0m-117-32h0m105-194h0m-200 123h0m-22 68h0m41-241h0m-42 386h0m39 7h0m-47 18h0m-104-349h0m140 103h0m-69 21h0m141-147h0m-170 44h0m384-1h0m-126-82h0m62 347h0m-328-190h0m212 197h0m-73-83h0m200-136h0m43 230h0m-177-283h0m-58 119h0m-62-169h0m34 109h0m-49-62h0m-121 163h0m194 171h0m-184-425h0m164 373h0m-54-150h0m171-172h0m-133 20h0m201 300h0m-353-133h0m202-17h0m105 86h0m-57-213h0m240 162h0m-189-171h0m-54 262h0m23-189h0m9 48h0m-55-131h0m-180 308h0m107-87h0m320-327h0m-346 289h0m124-177h0m-130 142h0m355-78h0m-209 177h0m-5-57h0m104 79h0m123-32h0m-426 58h0m9-320h0m195-10h0m-264 344h0m384-167h0m-272 83h0m100-278h0m-34 306h0m-100-117h0m-22 176h0m4-120h0m180-213h0m130 250h0m-103-210h0m-120 38h0m-136-80h0m35 295h0m77-105h0m219 52h0m-222 24h0m85 70h0m9-3h0m-46-90h0m26 133h0m157-252h0m-340 95h0m343-81h0m26-162h0m54 90h0m-80 106h0m0 55h0m-271-260h0m118 371h0m80-217h0m139-85h0m-338 311h0m103-26h0m-131 28h0m-45-136h0m205-293h0m182 426h0m-291-270h0m-99 79h0m156-118h0m49 335h0m-121-170h0m268-145h0m20 224h0m-224-136h0m125 157h0m-9-211h0m15-154h0m-97 136h0m-161-113h0m196 111h0m-146 183h0m324-99h0m-62-82h0m-317 73h0m124-138h0m97-82h0m-205 32h0m394 112h0m-31-86h0m69 185h0m-157-31h0m-225-146h0m-21 36h0m73 250h0m144-53h0m-197-211h0m-17 82h0m108 271h0m78-455h0m-178 70h0m293 228h0m-93-40h0m-206 28h0m242-196h0m-311 147h0m284-189h0m-278 264h0m18 71h0m114 48h0m-133-290h0m98 84h0m236-71h0m-66 69h0m-195 146h0m150 90h0m-56-171h0m190-173h0m-86 184h0m-267-227h0m112-6h0m-47 43h0m4 102h0m16 91h0m34-183h0m218 181h0m-57 20h0m188 10h0m-469-244h0m44-2h0m152 157h0m68-222h0m-41 110h0m-88-66h0m-3 52h0m351 134h0m-497-126h0m241-53h0m114 389h0m-353-464h0m44 311h0m-39 112h0m274-132h0m35-229h0m4 397h0m45-296h0m-345 113h0m208-186h0m-48 29h0m327 341h0m-276-230h0m168-135h0m-21 312h0m-200-82h0m41-52h0m-120 93h0m-52 28h0m69-65h0m69 83h0m283-248h0m-383 142h0m116-48h0m-14-183h0m-20 293h0m271 17h0m-380-294h0m171 164h0m3-39h0m-88 35h0m-4-208h0m86 10h0m-223 313h0m233-38h0m119-306h0m-138 20h0m268 233h0m-346 101h0m20-364h0m208 213h0m-189 9h0m90 193h0m187-223h0m-79 231h0m40-110h0m-174 119h0m-49-195h0m4-83h0m132 143h0m-329-89h0m382 161h0m-73 3h0m-212-290h0m374 295h0m-456 80h0m-21-28h0m505-121h0m-55-74h0m-336-185h0m376 59h0m-110 320h0m-246-338h0m115 159h0m-244-214h0m68 16h0m179 191h0m-143-38h0m196 90h0m-90-77h0m76 201h0m42-429h0m-68 461h0m85-201h0m-334-67h0m99 1h0m33 58h0m62 125h0m143-310h0m150 312h0m-160 35h0m-9-165h0m-253-34h0m-35 44h0m329 157h0m-52-140h0m-144 96h0m52-136h0m127-130h0m-324 110h0m157 6h0m-118 44h0m306 193h0m-247-5h0m190-346h0m10-8h0m-151-27h0m-102 206h0m263 105h0m-247-244h0m190 169h0m-13-108h0m-171 197h0m3-155h0m242-218h0m-291 298h0m237-170h0m-184-22h0m146-2h0m3-126h0m-117 327h0m180-58h0m35-16h0m74-13h0m52-54h0m-246 7h0m124 62h0m-245-134h0m2-37h0m227 50h0m-19 195h0m-302 39h0m34-301h0m39 86h0m115 167h0m117-167h0m51-60h0m-66 168h0m-33 43h0m224-7h0m-12 142h0m-238-154h0m-145 53h0m-36-40h0m292-308h0m-56 251h0m-266 107h0m213 9h0m-107-64h0m102-21h0m90 182h0m-82-89h0m190 89h0m-142-283h0m152-10h0m-213 298h0m-233-103h0m239-68h0m-73-43h0m-100-137h0m126 137h0m-174 185h0m139-6h0m-86-223h0m-66 9h0m4-126h0m492 256h0m-202-256h0m-131-95h0m-23 52h0m326 69h0m-442 266h0m431 51h0m-80-323h0m-237 154h0m133-149h0m-50 123h0m-104-156h0m96 201h0m-46-13h0m-43 99h0m127-308h0m-169 191h0m253 70h0m-72-195h0m-17 333h0m-247-205h0m316-120h0m95 137h0m-142-127h0m-97 58h0m-24 81h0m221-202h0m-348 268h0m19-38h0m-17-26h0m114-286h0m235 84h0m33 65h0m-422-12h0m222 202h0m88 9h0m204 110h0m-189-327h0m-108 84h0m-97-110h0m79 46h0m-76 204h0m279 16h0m-99-146h0m29 198h0m120-305h0m-408 50h0m142 246h0m305-273h0m-414 274h0m382-175h0m-229-87h0m-184 146h0m200-206h0m-14-43h0m-21 44h0m-202-16h0m250 123h0m187 94h0m1-163h0m-308 331h0m-4-224h0m266-126h0m-55 307h0m-200-182h0m-27 153h0m-54-135h0m138-142h0m198 123h0m-88-83h0m78-103h0m-47 246h0m-305-138h0m306-62h0m-122 206h0m-181-39h0m95-206h0m-46 102h0m259 74h0m-167 122h0m-80-186h0m146 106h0m182-87h0m-296 95h0m225 64h0m-274-186h0m346-52h0m-358 68h0m-5-55h0m26 345h0m167-278h0m-244 162h0m416-266h0m-327-30h0m391 299h0m-288-100h0m293-36h0m-205 173h0m-158-122h0m19 198h0m46-161h0m296-125h0m-142 162h0m-197-189h0m134 201h0m-180-303h0m5 154h0m27-177h0m335 37h0m-221 85h0m128 17h0m-68-3h0m-74 82h0m-60 92h0m218-203h0m-400 135h0m475 151h0m-324-268h0m-135 11h0m292-14h0m89 6h0m-337 83h0m142 62h0m159 42h0m-33 28h0m-231-117h0m26 25h0m167 89h0m-17-130h0m-255 179h0m297-333h0m89 353h0m-57-376h0m29 27h0m-242-23h0m-81 123h0m154-164h0m-188 321h0m329 112h0m-304-373h0m343 276h0m-174-169h0m141 9h0m-48-80h0m-272 63h0m49-60h0m-45 300h0m429-149h0m-298-199h0m232 384h0m-119-391h0m106 103h0m-353 140h0m26 90h0m71-251h0m347 123h0m-94 59h0m-49-243h0m-69-9h0m46-23h0m-257 372h0m17-213h0m197-125h0m-188 143h0m-79 66h0m370-96h0m21-83h0m-294 172h0m-10-20h0m83-221h0m127 389h0m-40-352h0m-118-11h0m139 121h0m179-169h0m-448 46h0m150 188h0m56 31h0m147 73h0m-233-365h0m163 274h0m83 179h0m-254-31h0m87 9h0m-20-85h0m123 97h0m-183-129h0m284-235h0m-49 176h0m17-50h0m-134 52h0m161-144h0m-23-7h0m-179 293h0m-181-91h0m65-185h0m332 178h0m-53 129h0m-161-117h0m-95-230h0m-21 118h0m-5-46h0m-38 243h0m-16-90h0m146-259h0m286 264h0m-242-15h0m-8 68h0m-152-288h0m95 52h0m54-40h0m86-90h0m53 49h0m-54 30h0m-61 148h0m249-125h0m-312 101h0m73-159h0m-216 372h0m391-283h0m-204 28h0m121 303h0m-43-378h0m-155 337h0m190-66h0m-151-199h0m-164 61h0m375 220h0m-146-369h0m-70-16h0m97 41h0m-107 237h0m220-183h0m-171 68h0m195 147h0m-22-170h0m-122 214h0m196-235h0m-301-133h0m325 322h0m-311-78h0m142 71h0m-19 55h0m-66-186h0m164 68h0m-10-209h0m90 272h0m-257-175h0m164 37h0m-132-45h0m-135-52h0m146 68h0m43 44h0m-1 202h0m-101-340h0m233-5h0m45 55h0m-448 77h0m233 160h0m174-183h0m-213-92h0m-172 185h0m48-263h0m317 125h0m-316 292h0m364-261h0m-2 52h0m-410-105h0m400-44h0m-259 52h0m-18 249h0m27 49h0m-46-56h0m327 27h0m-199-279h0m-76 112h0m-145 197h0m4-104h0m206-2h0m-201 36h0m64-207h0m-29-39h0m278-18h0m-358 303h0m299-205h0m-95 148h0m-18-69h0m-211 96h0m462-326h0m-57 170h0m-284-78h0m256 315h0m-28-53h0m-264-310h0m352 367h0m-139-394h0m137 170h0m-341 192h0m141-197h0m-227 39h0m319-9h0m-39 44h0m49-112h0m25 175h0m-60-45h0m195 4h0m-5-157h0m-400 56h0m248 160h0m-152-124h0m-71-105h0m187-42h0m56 292h0m-295-44h0m-64-244h0m21 122h0m67 128h0m217-89h0m-271-113h0m64-110h0m70 268h0m-43 15h0m-68 21h0m-45-117h0m0 175h0m364-431h0m-237 188h0m234-17h0m-10 217h0m-338-212h0m259 72h0m-105 8h0m-115-46h0m74 32h0m247 228h0m-226-387h0m-171 317h0m129 0h0m291-357h0m-126 69h0m-210-34h0m346 369h0m-49-7h0m68-354h0m-300 329h0m94-170h0m-84 67h0m79-108h0m-112-176h0m205 113h0m-85 139h0m-29-28h0m-38-110h0m55 170h0m104-195h0m-86 72h0m45 55h0m89 4h0m-73 27h0m8-197h0m32 243h0m-14-156h0m64 20h0m-116 102h0m28-68h0m84-102h0m-215 229h0m111 4h0m49-15h0m-24-12h0m145-32h0m-239-82h0m67 186h0m-109-132h0m154 14h0m-195 12h0m137-8h0m-54-37h0m81 22h0m-106 1h0m63 114h0m66-103h0m-108-19h0m114-17h0m-227 69h0m114-61h0m-162 44h0m243-97h0m113 141h0m-152-50h0m-95 34h0m17 39h0m184-149h0m-28-27h0m22 133h0m-95 84h0m67-199h0m-69 30h0m-86-29h0m115 38h0m16 143h0m-97-185h0m84 51h0m-3-22h0m-18 145h0m108-74h0m-158 90h0m2-169h0m83-137h0m-32 139h0m-32 45h0m-30 10h0m-84-51h0m134-112h0m80 174h0m-173 33h0m103-71h0m35-49h0m54 78h0m-269-67h0m200-41h0m1-80h0m-88 158h0m-17-121h0m55 20h0m81 219h0m-149-186h0m72 81h0m16 101h0m38-48h0m-68-35h0m18 62h0m110-152h0m-39 114h0m-56-48h0m-29-123h0m29 136h0m-23 54h0m9-94h0m70 138h0m35-84h0m-135 25h0m-10-12h0m97-211h0m-139 119h0m115 20h0m-35 36h0m21-173h0m43 232h0m-110-131h0m130 95h0m-118 65h0m72-112h0m-97-2h0m40 56h0m2-22h0m6-71h0m63 16h0m-25 93h0m-30-202h0m76 81h0m-100 14h0m10 48h0m84-52h0m-83 66h0m-14-10h0m73 2h0m-44 29h0m42 64h0m65-43h0m-187-127h0m43 175h0m-2 9h0m100-108h0m-96-126h0m52 156h0m-83-33h0m-8-80h0m27 212h0m52-183h0m21 145h0m80-214h0m-173 108h0m-32 23h0m225 14h0m-199-28h0m110-20h0m-192 15h0m175 126h0m-23 24h0m-5-169h0m67 91h0m-160-8h0m201-85h0m-18 84h0m-38-59h0m-78 34h0m22-67h0m72 58h0m-115-27h0m99-33h0m-120-103h0m173 164h0m-62 61h0m-24 59h0m22-71h0m-39-96h0m53 96h0m-97-191h0m18 92h0m-134-53h0m160 117h0m98-8h0m83-81h0m-175 5h0m-18 94h0m-76 12h0m194-32h0m-62 89h0m8-240h0m-115 272h0m144-134h0m6 91h0m-159-86h0m126 2h0m-31-129h0m65 75h0m-126-7h0m103 1h0m-291-70h0m-10 45h0m17-51h0m15 53h0m8 34h0m186-30h0m-201-30h0m186-106h0m14 132h0m-137 63h0m127-112h0m-51-104h0m54 117h0m16-76h0m-196 133h0m68-219h0m-52 54h0m-70 66h0m92-75h0m-38 46h0m-31 100h0m7 29h0m200-139h0m-165 164h0m-31-58h0m58-148h0m49 197h0m-39-190h0m118 82h0m48-9h0m-254 56h0m185 52h0m-9 13h0m71-107h0m-183 127h0m91-198h0m30 159h0m-130-172h0m-34 89h0m94 117h0m91-141h0m-179 15h0m-25 13h0m8-2h0m206 72h0m5-136h0m-207 68h0m186-86h0m-157 174h0m44-180h0m110 142h0m-17-143h0m-84 239h0m27 3h0m-49-19h0m-46-194h0m97-37h0m-62 17h0m84 179h0m71-76h0m-112-160h0m118 59h0m-240 133h0m128 50h0m-33-16h0m76-169h0m32 31h0m-55 144h0m-5 35h0m80-93h0m-174-114h0m192 26h0m-42-25h0m24 85h0m-144 74h0m137-42h0m2 65h0m-194-46h0m150 27h0m15-175h0m-154 74h0m155-49h0m-127 192h0m36-3h0m-60-75h0m84 77h0m-103-114h0m115 124h0m87-104h0m-19-108h0m-88 180h0m136-88h0m-180-115h0m158 134h0m19-14h0m-212 1h0m204-87h0m-163 156h0m29 24h0m40-256h0m-72 68h0m65 176h0m-59-191h0m-58 60h0m11 79h0m5-99h0m-7 51h0m208-27h0m-210 27h0m68 87h0m176-67h0m-38-14h0m-4-13h0m-220 19h0m75-124h0m144 48h0m18-5h0m-195-20h0m-26 11h0m38-25h0m-37 169h0m19 23h0m104-187h0m-138 93h0m72 114h0m129-37h0m-126-160h0m122 23h0m-7 123h0m-95 31h0m115-56h0m-15 21h0m-21 33h0m-102-189h0m27 200h0m124-29h0m-175-130h0m85 164h0m-75-1h0m-33-15h0m52-217h0m-73 68h0m218 120h0m-222-97h0m56 157h0m-37-138h0m197-59h0m-199 28h0m-5 87h0m234-41h0m-227 27h0m213 36h0m-228-24h0m130-164h0m-139 151h0m64 59h0m136-2h0m-77 26h0m38 8h0m21-219h0m33 87h0m-194 19h0m128 123h0m-142-116h0m103-122h0m-25 217h0m29-221h0m84 192h0m-31 20h0m65-85h0m-44 76h0m-186-119h0m19 37h0m174 103h0m-184-67h0m212-22h0m-6 62h0m-14-118h0m-151-41h0m-24-7h0m10 52h0m86-63h0m-108 72h0m248 40h0m-190-98h0m-37 211h0m36-8h0m156-140h0m-12 30h0m-224-63h0m121 190h0m81-196h0m3 158h0m-111 12h0m106-35h0m-26 8h0m43-169h0m42 78h0m-243-68h0m1 97h0m151-102h0m-101 197h0m153-120h0m-28-60h0m-187 66h0m1-58h0m22 40h0m55 129h0m-53-160h0m115 145h0m-80-163h0m119-44h0m-113 222h0m64 22h0m-57-40h0m-61-122h0m25 113h0m-18-90h0m144 322h0m-142-4h0m25-208h0m148 188h0m3 21h0m-18-210h0m-21 211h0m-67-230h0m122 210h0m-15 4h0m-30 16h0m-169-134h0m55 149h0m-42-210h0m190 29h0m-88-55h0m-104 172h0m205 34h0m-200-29h0m-9-136h0m120 184h0m93-164h0m-177 143h0m130 33h0m55-139h0m-167 140h0m100-243h0m-167 128h0m123-119h0m-119 77h0m139 163h0m125-142h0m-108-106h0m22 33h0m29 30h0m-158 151h0m121 30h0m80-91h0m-86-143h0m1 237h0m73-193h0m-175 162h0m172-161h0m-11 99h0m29-54h0m-33 113h0m-202-158h0m199 9h0m-210 124h0m170 70h0m39-53h0m-210 3h0m210-30h0m-29 55h0m-38-221h0m-36 228h0m-24-223h0m89 16h0m-141 171h0m-16-39h0m197 10h0m-193 4h0m-4-110h0m68-52h0m102 24h0m-185 84h0m205-79h0m37 104h0m-14-98h0m14 54h0m-126 137h0m22 13h0m64-227h0m-129-28h0m113 12h0m-154 214h0m117-219h0m24 206h0m79-94h0m-239 121h0m189-175h0m-137 175h0m81-17h0m101-96h0m-230 49h0m-7-12h0m10 9h0m67-170h0m134 91h0m-227 104h0m219-154h0m-138 183h0m-60-175h0m180-29h0m-120-42h0m-46 218h0m218-98h0m-245 84h0m241-86h0m-22-22h0m-13 117h0m-184 23h0m225-61h0m-61 52h0m27-45h0m13-27h0m-230 60h0m124 38h0m-104-17h0m99-207h0m-18-20h0m131 71h0m-19 123h0m-87 50h0m-130-95h0m227-29h0m-35 126h0m-18-237h0m52 155h0m-57-175h0m-153 220h0m110-191h0m61 231h0m95-123h0m-181-111h0m143 106h0m-221-66h0m-1 169h0m70 10h0m121-25h0m60-52h0m-39-52h0m26-6h0m-105-93h0m85 142h0m9 21h0m-205 71h0m142 21h0m-8-249h0m40 170h0m9-84h0m-188 127h0m-43-21h0m194-172h0m55 56h0m-232 20h0m118-118h0m11 9h0m50 233h0m-179-158h0m243 5h0m-161 169h0" stroke="#1c1cff" stroke-width="10.0" stroke-linecap="square" fill="none"/><path d="M121.40 167.80 L122.65 167.90 L123.87 168.21 L125.02 168.71 L126.06 169.41 L126.99 170.28 L127.77 171.31 L128.39 172.49 L128.84 173.80 L129.12 175.21 L129.23 176.69 L129.18 178.23 L128.98 179.80 L128.66 181.37 L128.22 182.91 L127.69 184.39 L127.09 185.80 L126.44 187.11 L125.75 188.29 L125.04 189.32 L124.32 190.19 L123.59 190.89 L122.86 191.39 L122.13 191.70 L121.40 191.80 L120.67 191.70 L119.94 191.39 L119.21 190.89 L118.48 190.19 L117.76 189.32 L117.05 188.29 L116.36 187.11 L115.71 185.80 L115.11 184.39 L114.58 182.91 L114.14 181.37 L113.82 179.80 L113.62 178.23 L113.57 176.69 L113.68 175.21 L113.96 173.80 L114.41 172.49 L115.03 171.31 L115.81 170.28 L116.74 169.41 L117.78 168.71 L118.93 168.21 L120.15 167.90Z" fill="#f0f0ff"/><path d="M120.60 195.10 L122.11 195.15 L123.60 195.30 L125.04 195.55 L126.40 195.89 L127.66 196.32 L128.80 196.83 L129.80 197.41 L130.65 198.05 L131.32 198.74 L131.80 199.47 L132.10 200.23 L132.20 201.00 L132.10 201.77 L131.80 202.53 L131.32 203.26 L130.65 203.95 L129.80 204.59 L128.80 205.17 L127.66 205.68 L126.40 206.11 L125.04 206.45 L123.60 206.70 L122.11 206.85 L120.60 206.90 L119.09 206.85 L117.60 206.70 L116.16 206.45 L114.80 206.11 L113.54 205.68 L112.40 205.17 L111.40 204.59 L110.55 203.95 L109.88 203.26 L109.40 202.53 L109.10 201.77 L109.00 201.00 L109.10 200.23 L109.40 199.47 L109.88 198.74 L110.55 198.05 L111.40 197.41 L112.40 196.83 L113.54 196.32 L114.80 195.89 L116.16 195.55 L117.60 195.30 L119.09 195.15Z" fill="#a8a8ff"/><path d="M121.40 167.80 L122.65 167.90 L123.87 168.21 L125.02 168.71 L126.06 169.41 L126.99 170.28 L127.77 171.31 L128.39 172.49 L128.84 173.80 L129.12 175.21 L129.23 176.69 L129.18 178.23 L128.98 179.80 L128.66 181.37 L128.22 182.91 L127.69 184.39 L127.09 185.80 L126.44 187.11 L125.75 188.29 L125.04 189.32 L124.32 190.19 L123.59 190.89 L122.86 191.39 L122.13 191.70 L121.40 191.80 L120.67 191.70 L119.94 191.39 L119.21 190.89 L118.48 190.19 L117.76 189.32 L117.05 188.29 L116.36 187.11 L115.71 185.80 L115.11 184.39 L114.58 182.91 L114.14 181.37 L113.82 179.80 L113.62 178.23 L113.57 176.69 L113.68 175.21 L113.96 173.80 L114.41 172.49 L115.03 171.31 L115.81 170.28 L116.74 169.41 L117.78 168.71 L118.93 168.21 L120.15 167.90Z" fill="none" stroke="#1c1cff" stroke-width="0.45" opacity="1"/><path d="M120.60 195.10 L122.11 195.15 L123.60 195.30 L125.04 195.55 L126.40 195.89 L127.66 196.32 L128.80 196.83 L129.80 197.41 L130.65 198.05 L131.32 198.74 L131.80 199.47 L132.10 200.23 L132.20 201.00 L132.10 201.77 L131.80 202.53 L131.32 203.26 L130.65 203.95 L129.80 204.59 L128.80 205.17 L127.66 205.68 L126.40 206.11 L125.04 206.45 L123.60 206.70 L122.11 206.85 L120.60 206.90 L119.09 206.85 L117.60 206.70 L116.16 206.45 L114.80 206.11 L113.54 205.68 L112.40 205.17 L111.40 204.59 L110.55 203.95 L109.88 203.26 L109.40 202.53 L109.10 201.77 L109.00 201.00 L109.10 200.23 L109.40 199.47 L109.88 198.74 L110.55 198.05 L111.40 197.41 L112.40 196.83 L113.54 196.32 L114.80 195.89 L116.16 195.55 L117.60 195.30 L119.09 195.15Z" fill="none" stroke="#1c1cff" stroke-width="0.5"/><path d="M121.40 169.05 L122.49 169.14 L123.56 169.41 L124.56 169.85 L125.48 170.46 L126.29 171.22 L126.97 172.13 L127.52 173.16 L127.91 174.30 L128.15 175.53 L128.25 176.83 L128.21 178.18 L128.04 179.55 L127.75 180.92 L127.37 182.27 L126.91 183.57 L126.38 184.80 L125.81 185.94 L125.21 186.97 L124.59 187.88 L123.95 188.64 L123.32 189.25 L122.68 189.69 L122.04 189.96 L121.40 190.05 L120.76 189.96 L120.12 189.69 L119.48 189.25 L118.85 188.64 L118.21 187.88 L117.59 186.97 L116.99 185.94 L116.42 184.80 L115.89 183.57 L115.43 182.27 L115.05 180.92 L114.76 179.55 L114.59 178.18 L114.55 176.83 L114.65 175.53 L114.89 174.30 L115.28 173.16 L115.83 172.13 L116.51 171.22 L117.32 170.46 L118.24 169.85 L119.24 169.41 L120.31 169.14Z" fill="none" stroke="#1c1cff" stroke-width="0.45" opacity="1"/><path d="M120.60 195.84 L121.92 195.88 L123.23 196.01 L124.48 196.23 L125.67 196.53 L126.78 196.90 L127.78 197.35 L128.65 197.86 L129.39 198.42 L129.98 199.02 L130.40 199.66 L130.66 200.33 L130.75 201.00 L130.66 201.67 L130.40 202.34 L129.98 202.98 L129.39 203.58 L128.65 204.14 L127.78 204.65 L126.78 205.10 L125.67 205.47 L124.48 205.77 L123.23 205.99 L121.92 206.12 L120.60 206.16 L119.28 206.12 L117.97 205.99 L116.72 205.77 L115.52 205.47 L114.42 205.10 L113.42 204.65 L112.55 204.14 L111.81 203.58 L111.22 202.98 L110.80 202.34 L110.54 201.67 L110.45 201.00 L110.54 200.33 L110.80 199.66 L111.22 199.02 L111.81 198.42 L112.55 197.86 L113.42 197.35 L114.42 196.90 L115.52 196.53 L116.72 196.23 L117.97 196.01 L119.28 195.88Z" fill="none" stroke="#1c1cff" stroke-width="0.5"/><path d="M121.40 170.30 L122.34 170.38 L123.25 170.61 L124.11 170.99 L124.90 171.51 L125.59 172.16 L126.18 172.94 L126.64 173.82 L126.98 174.80 L127.19 175.86 L127.27 176.97 L127.24 178.13 L127.09 179.30 L126.84 180.47 L126.52 181.63 L126.12 182.74 L125.67 183.80 L125.18 184.78 L124.67 185.66 L124.13 186.44 L123.59 187.09 L123.04 187.61 L122.49 187.99 L121.95 188.22 L121.40 188.30 L120.85 188.22 L120.31 187.99 L119.76 187.61 L119.21 187.09 L118.67 186.44 L118.13 185.66 L117.62 184.78 L117.13 183.80 L116.68 182.74 L116.28 181.63 L115.96 180.47 L115.71 179.30 L115.56 178.13 L115.53 176.97 L115.61 175.86 L115.82 174.80 L116.16 173.82 L116.62 172.94 L117.21 172.16 L117.90 171.51 L118.69 170.99 L119.55 170.61 L120.46 170.38Z" fill="none" stroke="#1c1cff" stroke-width="0.3" opacity="0.6"/><path d="M120.60 196.57 L121.74 196.61 L122.85 196.73 L123.93 196.91 L124.95 197.17 L125.90 197.49 L126.75 197.87 L127.50 198.31 L128.13 198.79 L128.64 199.31 L129.00 199.85 L129.23 200.42 L129.30 201.00 L129.23 201.58 L129.00 202.15 L128.64 202.69 L128.13 203.21 L127.50 203.69 L126.75 204.13 L125.90 204.51 L124.95 204.83 L123.93 205.09 L122.85 205.27 L121.74 205.39 L120.60 205.43 L119.46 205.39 L118.35 205.27 L117.27 205.09 L116.25 204.83 L115.30 204.51 L114.45 204.13 L113.70 203.69 L113.07 203.21 L112.56 202.69 L112.20 202.15 L111.97 201.58 L111.90 201.00 L111.97 200.42 L112.20 199.85 L112.56 199.31 L113.07 198.79 L113.70 198.31 L114.45 197.87 L115.30 197.49 L116.25 197.17 L117.27 196.91 L118.35 196.73 L119.46 196.61Z" fill="none" stroke="#1c1cff" stroke-width="0.5"/><path d="M121.40 171.55 L122.18 171.61 L122.94 171.81 L123.66 172.12 L124.32 172.55 L124.89 173.10 L125.38 173.75 L125.77 174.48 L126.05 175.30 L126.22 176.18 L126.29 177.11 L126.26 178.07 L126.14 179.05 L125.94 180.03 L125.66 180.99 L125.33 181.92 L124.96 182.80 L124.55 183.62 L124.12 184.35 L123.68 185.00 L123.22 185.55 L122.77 185.98 L122.31 186.29 L121.86 186.49 L121.40 186.55 L120.94 186.49 L120.49 186.29 L120.03 185.98 L119.58 185.55 L119.12 185.00 L118.68 184.35 L118.25 183.62 L117.84 182.80 L117.47 181.92 L117.14 180.99 L116.86 180.03 L116.66 179.05 L116.54 178.07 L116.51 177.11 L116.58 176.18 L116.75 175.30 L117.03 174.48 L117.42 173.75 L117.91 173.10 L118.48 172.55 L119.14 172.12 L119.86 171.81 L120.62 171.61Z" fill="none" stroke="#1c1cff" stroke-width="0.3" opacity="0.6"/><path d="M120.60 197.31 L121.55 197.34 L122.48 197.44 L123.37 197.59 L124.22 197.81 L125.01 198.07 L125.73 198.39 L126.35 198.76 L126.88 199.16 L127.30 199.59 L127.60 200.05 L127.79 200.52 L127.85 201.00 L127.79 201.48 L127.60 201.95 L127.30 202.41 L126.88 202.84 L126.35 203.24 L125.73 203.61 L125.01 203.93 L124.22 204.19 L123.37 204.41 L122.48 204.56 L121.55 204.66 L120.60 204.69 L119.65 204.66 L118.72 204.56 L117.83 204.41 L116.97 204.19 L116.19 203.93 L115.47 203.61 L114.85 203.24 L114.32 202.84 L113.90 202.41 L113.60 201.95 L113.41 201.48 L113.35 201.00 L113.41 200.52 L113.60 200.05 L113.90 199.59 L114.32 199.16 L114.85 198.76 L115.47 198.39 L116.19 198.07 L116.97 197.81 L117.83 197.59 L118.72 197.44 L119.65 197.34Z" fill="none" stroke="#1c1cff" stroke-width="0.5"/><path d="M121.40 172.80 L122.03 172.85 L122.63 173.00 L123.21 173.26 L123.73 173.60 L124.20 174.04 L124.59 174.56 L124.90 175.15 L125.12 175.80 L125.26 176.50 L125.31 177.25 L125.29 178.02 L125.19 178.80 L125.03 179.58 L124.81 180.35 L124.55 181.10 L124.25 181.80 L123.92 182.45 L123.58 183.04 L123.22 183.56 L122.86 184.00 L122.49 184.34 L122.13 184.60 L121.76 184.75 L121.40 184.80 L121.04 184.75 L120.67 184.60 L120.31 184.34 L119.94 184.00 L119.58 183.56 L119.22 183.04 L118.88 182.45 L118.55 181.80 L118.25 181.10 L117.99 180.35 L117.77 179.58 L117.61 178.80 L117.51 178.02 L117.49 177.25 L117.54 176.50 L117.68 175.80 L117.90 175.15 L118.21 174.56 L118.60 174.04 L119.07 173.60 L119.59 173.26 L120.17 173.00 L120.77 172.85Z" fill="none" stroke="#1c1cff" stroke-width="0.3" opacity="0.6"/><path d="M120.60 198.05 L121.36 198.08 L122.10 198.15 L122.82 198.27 L123.50 198.45 L124.13 198.66 L124.70 198.91 L125.20 199.20 L125.62 199.53 L125.96 199.87 L126.20 200.24 L126.35 200.61 L126.40 201.00 L126.35 201.39 L126.20 201.76 L125.96 202.13 L125.62 202.47 L125.20 202.80 L124.70 203.09 L124.13 203.34 L123.50 203.55 L122.82 203.73 L122.10 203.85 L121.36 203.92 L120.60 203.95 L119.84 203.92 L119.10 203.85 L118.38 203.73 L117.70 203.55 L117.07 203.34 L116.50 203.09 L116.00 202.80 L115.58 202.47 L115.24 202.13 L115.00 201.76 L114.85 201.39 L114.80 201.00 L114.85 200.61 L115.00 200.24 L115.24 199.87 L115.58 199.53 L116.00 199.20 L116.50 198.91 L117.07 198.66 L117.70 198.45 L118.38 198.27 L119.10 198.15 L119.84 198.08Z" fill="none" stroke="#1c1cff" stroke-width="0.5"/><path d="M121.40 174.05 L121.87 174.09 L122.33 174.20 L122.76 174.39 L123.15 174.65 L123.50 174.98 L123.79 175.37 L124.02 175.81 L124.19 176.30 L124.29 176.83 L124.34 177.39 L124.32 177.96 L124.24 178.55 L124.12 179.14 L123.96 179.71 L123.76 180.27 L123.54 180.80 L123.29 181.29 L123.03 181.73 L122.77 182.12 L122.49 182.45 L122.22 182.71 L121.95 182.90 L121.67 183.01 L121.40 183.05 L121.13 183.01 L120.85 182.90 L120.58 182.71 L120.31 182.45 L120.03 182.12 L119.77 181.73 L119.51 181.29 L119.26 180.80 L119.04 180.27 L118.84 179.71 L118.68 179.14 L118.56 178.55 L118.48 177.96 L118.46 177.39 L118.51 176.83 L118.61 176.30 L118.78 175.81 L119.01 175.37 L119.30 174.98 L119.65 174.65 L120.04 174.39 L120.47 174.20 L120.93 174.09Z" fill="none" stroke="#1c1cff" stroke-width="0.3" opacity="0.6"/><path d="M120.60 198.79 L121.17 198.81 L121.73 198.86 L122.26 198.96 L122.77 199.08 L123.25 199.24 L123.68 199.44 L124.05 199.65 L124.37 199.89 L124.62 200.15 L124.80 200.43 L124.91 200.71 L124.95 201.00 L124.91 201.29 L124.80 201.57 L124.62 201.85 L124.37 202.11 L124.05 202.35 L123.68 202.56 L123.25 202.76 L122.77 202.92 L122.26 203.04 L121.73 203.14 L121.17 203.19 L120.60 203.21 L120.03 203.19 L119.47 203.14 L118.94 203.04 L118.42 202.92 L117.95 202.76 L117.52 202.56 L117.15 202.35 L116.83 202.11 L116.58 201.85 L116.40 201.57 L116.29 201.29 L116.25 201.00 L116.29 200.71 L116.40 200.43 L116.58 200.15 L116.83 199.89 L117.15 199.65 L117.52 199.44 L117.95 199.24 L118.42 199.08 L118.94 198.96 L119.47 198.86 L120.03 198.81Z" fill="none" stroke="#1c1cff" stroke-width="0.5"/><path d="M121.40 175.30 L121.71 175.33 L122.02 175.40 L122.30 175.53 L122.57 175.70 L122.80 175.92 L122.99 176.18 L123.15 176.47 L123.26 176.80 L123.33 177.15 L123.36 177.52 L123.35 177.91 L123.30 178.30 L123.21 178.69 L123.11 179.08 L122.97 179.45 L122.82 179.80 L122.66 180.13 L122.49 180.42 L122.31 180.68 L122.13 180.90 L121.95 181.07 L121.76 181.20 L121.58 181.27 L121.40 181.30 L121.22 181.27 L121.04 181.20 L120.85 181.07 L120.67 180.90 L120.49 180.68 L120.31 180.42 L120.14 180.13 L119.98 179.80 L119.83 179.45 L119.69 179.08 L119.59 178.69 L119.50 178.30 L119.45 177.91 L119.44 177.52 L119.47 177.15 L119.54 176.80 L119.65 176.47 L119.81 176.18 L120.00 175.92 L120.23 175.70 L120.50 175.53 L120.78 175.40 L121.09 175.33Z" fill="none" stroke="#1c1cff" stroke-width="0.3" opacity="0.6"/><path d="M120.60 199.53 L120.98 199.54 L121.35 199.58 L121.71 199.64 L122.05 199.72 L122.37 199.83 L122.65 199.96 L122.90 200.10 L123.11 200.26 L123.28 200.44 L123.40 200.62 L123.48 200.81 L123.50 201.00 L123.48 201.19 L123.40 201.38 L123.28 201.56 L123.11 201.74 L122.90 201.90 L122.65 202.04 L122.37 202.17 L122.05 202.28 L121.71 202.36 L121.35 202.42 L120.98 202.46 L120.60 202.47 L120.22 202.46 L119.85 202.42 L119.49 202.36 L119.15 202.28 L118.83 202.17 L118.55 202.04 L118.30 201.90 L118.09 201.74 L117.92 201.56 L117.80 201.38 L117.72 201.19 L117.70 201.00 L117.72 200.81 L117.80 200.62 L117.92 200.44 L118.09 200.26 L118.30 200.10 L118.55 199.96 L118.83 199.83 L119.15 199.72 L119.49 199.64 L119.85 199.58 L120.22 199.54Z" fill="none" stroke="#1c1cff" stroke-width="0.5"/><path d="M121.40 176.55 L121.56 176.56 L121.71 176.60 L121.85 176.66 L121.98 176.75 L122.10 176.86 L122.20 176.99 L122.27 177.14 L122.33 177.30 L122.36 177.48 L122.38 177.66 L122.37 177.85 L122.35 178.05 L122.31 178.25 L122.25 178.44 L122.19 178.62 L122.11 178.80 L122.03 178.96 L121.94 179.11 L121.86 179.24 L121.76 179.35 L121.67 179.44 L121.58 179.50 L121.49 179.54 L121.40 179.55 L121.31 179.54 L121.22 179.50 L121.13 179.44 L121.04 179.35 L120.94 179.24 L120.86 179.11 L120.77 178.96 L120.69 178.80 L120.61 178.62 L120.55 178.44 L120.49 178.25 L120.45 178.05 L120.43 177.85 L120.42 177.66 L120.44 177.48 L120.47 177.30 L120.53 177.14 L120.60 176.99 L120.70 176.86 L120.82 176.75 L120.95 176.66 L121.09 176.60 L121.24 176.56Z" fill="none" stroke="#1c1cff" stroke-width="0.3" opacity="0.6"/><path d="M120.60 200.26 L120.79 200.27 L120.98 200.29 L121.15 200.32 L121.32 200.36 L121.48 200.41 L121.63 200.48 L121.75 200.55 L121.86 200.63 L121.94 200.72 L122.00 200.81 L122.04 200.90 L122.05 201.00 L122.04 201.10 L122.00 201.19 L121.94 201.28 L121.86 201.37 L121.75 201.45 L121.63 201.52 L121.48 201.59 L121.32 201.64 L121.15 201.68 L120.98 201.71 L120.79 201.73 L120.60 201.74 L120.41 201.73 L120.22 201.71 L120.05 201.68 L119.88 201.64 L119.72 201.59 L119.57 201.52 L119.45 201.45 L119.34 201.37 L119.26 201.28 L119.20 201.19 L119.16 201.10 L119.15 201.00 L119.16 200.90 L119.20 200.81 L119.26 200.72 L119.34 200.63 L119.45 200.55 L119.57 200.48 L119.72 200.41 L119.88 200.36 L120.05 200.32 L120.22 200.29 L120.41 200.27Z" fill="none" stroke="#1c1cff" stroke-width="0.5"/><rect x="32.00" y="51.70" width="66.50" height="67.10" stroke="#111" stroke-width="1.0" fill="none"/><path d="M31.70 54.70h-1.6 M31.70 57.61h-0.9 M31.70 60.52h-0.9 M31.70 63.43h-0.9 M31.70 66.34h-1.6 M31.70 69.25h-0.9 M31.70 72.16h-0.9 M31.70 75.07h-0.9 M31.70 77.98h-1.6 M31.70 80.89h-0.9 M31.70 83.80h-0.9 M31.70 86.70h-0.9 M31.70 89.61h-1.6 M31.70 92.52h-0.9 M31.70 95.43h-0.9 M31.70 98.34h-0.9 M31.70 101.25h-1.6 M31.70 104.16h-0.9 M31.70 107.07h-0.9 M31.70 109.98h-0.9 M31.70 112.89h-1.6 M31.70 115.80h-0.9" stroke="#555" stroke-width="0.5"/><path d="M35.00 119.10v1.6 M37.88 119.10v0.9 M40.76 119.10v0.9 M43.64 119.10v0.9 M46.52 119.10v1.6 M49.40 119.10v0.9 M52.29 119.10v0.9 M55.17 119.10v0.9 M58.05 119.10v1.6 M60.93 119.10v0.9 M63.81 119.10v0.9 M66.69 119.10v0.9 M69.57 119.10v1.6 M72.45 119.10v0.9 M75.33 119.10v0.9 M78.21 119.10v0.9 M81.10 119.10v1.6 M83.98 119.10v0.9 M86.86 119.10v0.9 M89.74 119.10v0.9 M92.62 119.10v1.6 M95.50 119.10v0.9" stroke="#555" stroke-width="0.5"/><rect x="103.30" y="51.70" width="67.00" height="67.10" stroke="#111" stroke-width="1.0" fill="none"/><path d="M103.00 54.70h-1.6 M103.00 57.61h-0.9 M103.00 60.52h-0.9 M103.00 63.43h-0.9 M103.00 66.34h-1.6 M103.00 69.25h-0.9 M103.00 72.16h-0.9 M103.00 75.07h-0.9 M103.00 77.98h-1.6 M103.00 80.89h-0.9 M103.00 83.80h-0.9 M103.00 86.70h-0.9 M103.00 89.61h-1.6 M103.00 92.52h-0.9 M103.00 95.43h-0.9 M103.00 98.34h-0.9 M103.00 101.25h-1.6 M103.00 104.16h-0.9 M103.00 107.07h-0.9 M103.00 109.98h-0.9 M103.00 112.89h-1.6 M103.00 115.80h-0.9" stroke="#555" stroke-width="0.5"/><path d="M106.30 119.10v1.6 M109.20 119.10v0.9 M112.11 119.10v0.9 M115.01 119.10v0.9 M117.92 119.10v1.6 M120.82 119.10v0.9 M123.73 119.10v0.9 M126.63 119.10v0.9 M129.54 119.10v1.6 M132.44 119.10v0.9 M135.35 119.10v0.9 M138.25 119.10v0.9 M141.16 119.10v1.6 M144.06 119.10v0.9 M146.97 119.10v0.9 M149.87 119.10v0.9 M152.78 119.10v1.6 M155.68 119.10v0.9 M158.59 119.10v0.9 M161.49 119.10v0.9 M164.40 119.10v1.6 M167.30 119.10v0.9" stroke="#555" stroke-width="0.5"/><rect x="31.60" y="149.60" width="66.40" height="66.60" stroke="#111" stroke-width="1.0" fill="none"/><path d="M31.30 152.60h-1.6 M31.30 155.49h-0.9 M31.30 158.37h-0.9 M31.30 161.26h-0.9 M31.30 164.14h-1.6 M31.30 167.03h-0.9 M31.30 169.91h-0.9 M31.30 172.80h-0.9 M31.30 175.69h-1.6 M31.30 178.57h-0.9 M31.30 181.46h-0.9 M31.30 184.34h-0.9 M31.30 187.23h-1.6 M31.30 190.11h-0.9 M31.30 193.00h-0.9 M31.30 195.89h-0.9 M31.30 198.77h-1.6 M31.30 201.66h-0.9 M31.30 204.54h-0.9 M31.30 207.43h-0.9 M31.30 210.31h-1.6 M31.30 213.20h-0.9" stroke="#555" stroke-width="0.5"/><path d="M34.60 216.50v1.6 M37.48 216.50v0.9 M40.35 216.50v0.9 M43.23 216.50v0.9 M46.10 216.50v1.6 M48.98 216.50v0.9 M51.86 216.50v0.9 M54.73 216.50v0.9 M57.61 216.50v1.6 M60.49 216.50v0.9 M63.36 216.50v0.9 M66.24 216.50v0.9 M69.11 216.50v1.6 M71.99 216.50v0.9 M74.87 216.50v0.9 M77.74 216.50v0.9 M80.62 216.50v1.6 M83.50 216.50v0.9 M86.37 216.50v0.9 M89.25 216.50v0.9 M92.12 216.50v1.6 M95.00 216.50v0.9" stroke="#555" stroke-width="0.5"/><rect x="102.60" y="149.60" width="67.00" height="66.60" stroke="#111" stroke-width="1.0" fill="none"/><path d="M102.30 152.60h-1.6 M102.30 155.49h-0.9 M102.30 158.37h-0.9 M102.30 161.26h-0.9 M102.30 164.14h-1.6 M102.30 167.03h-0.9 M102.30 169.91h-0.9 M102.30 172.80h-0.9 M102.30 175.69h-1.6 M102.30 178.57h-0.9 M102.30 181.46h-0.9 M102.30 184.34h-0.9 M102.30 187.23h-1.6 M102.30 190.11h-0.9 M102.30 193.00h-0.9 M102.30 195.89h-0.9 M102.30 198.77h-1.6 M102.30 201.66h-0.9 M102.30 204.54h-0.9 M102.30 207.43h-0.9 M102.30 210.31h-1.6 M102.30 213.20h-0.9" stroke="#555" stroke-width="0.5"/><path d="M105.60 216.50v1.6 M108.50 216.50v0.9 M111.41 216.50v0.9 M114.31 216.50v0.9 M117.22 216.50v1.6 M120.12 216.50v0.9 M123.03 216.50v0.9 M125.93 216.50v0.9 M128.84 216.50v1.6 M131.74 216.50v0.9 M134.65 216.50v0.9 M137.55 216.50v0.9 M140.46 216.50v1.6 M143.36 216.50v0.9 M146.27 216.50v0.9 M149.17 216.50v0.9 M152.08 216.50v1.6 M154.98 216.50v0.9 M157.89 216.50v0.9 M160.79 216.50v0.9 M163.70 216.50v1.6 M166.60 216.50v0.9" stroke="#555" stroke-width="0.5"/><text x="24.70" y="59.85" font-size="6.7" text-anchor="middle" fill="#111" stroke="#111" stroke-width="0.22">10<tspan font-size="4.02" dy="-1.88" stroke-width="0.1">5</tspan></text><text x="24.70" y="75.55" font-size="6.7" text-anchor="middle" fill="#111" stroke="#111" stroke-width="0.22">10<tspan font-size="4.02" dy="-1.88" stroke-width="0.1">4</tspan></text><text x="24.70" y="92.75" font-size="6.7" text-anchor="middle" fill="#111" stroke="#111" stroke-width="0.22">10<tspan font-size="4.02" dy="-1.88" stroke-width="0.1">3</tspan></text><text x="24.70" y="108.65" font-size="6.7" text-anchor="middle" fill="#111" stroke="#111" stroke-width="0.22">0</text><text x="41.20" y="127.00" font-size="6.7" text-anchor="middle" fill="#111" stroke="#111" stroke-width="0.22">0</text><text x="54.60" y="127.00" font-size="6.7" text-anchor="middle" fill="#111" stroke="#111" stroke-width="0.22">10<tspan font-size="4.02" dy="-1.88" stroke-width="0.1">3</tspan></text><text x="73.50" y="127.00" font-size="6.7" text-anchor="middle" fill="#111" stroke="#111" stroke-width="0.22">10<tspan font-size="4.02" dy="-1.88" stroke-width="0.1">4</tspan></text><text x="92.00" y="127.00" font-size="6.7" text-anchor="middle" fill="#111" stroke="#111" stroke-width="0.22">10<tspan font-size="4.02" dy="-1.88" stroke-width="0.1">5</tspan></text><text x="112.50" y="127.00" font-size="6.7" text-anchor="middle" fill="#111" stroke="#111" stroke-width="0.22">0</text><text x="125.90" y="127.00" font-size="6.7" text-anchor="middle" fill="#111" stroke="#111" stroke-width="0.22">10<tspan font-size="4.02" dy="-1.88" stroke-width="0.1">3</tspan></text><text x="144.80" y="127.00" font-size="6.7" text-anchor="middle" fill="#111" stroke="#111" stroke-width="0.22">10<tspan font-size="4.02" dy="-1.88" stroke-width="0.1">4</tspan></text><text x="163.30" y="127.00" font-size="6.7" text-anchor="middle" fill="#111" stroke="#111" stroke-width="0.22">10<tspan font-size="4.02" dy="-1.88" stroke-width="0.1">5</tspan></text><text x="24.30" y="157.75" font-size="6.7" text-anchor="middle" fill="#111" stroke="#111" stroke-width="0.22">10<tspan font-size="4.02" dy="-1.88" stroke-width="0.1">5</tspan></text><text x="24.30" y="173.45" font-size="6.7" text-anchor="middle" fill="#111" stroke="#111" stroke-width="0.22">10<tspan font-size="4.02" dy="-1.88" stroke-width="0.1">4</tspan></text><text x="24.30" y="190.65" font-size="6.7" text-anchor="middle" fill="#111" stroke="#111" stroke-width="0.22">10<tspan font-size="4.02" dy="-1.88" stroke-width="0.1">3</tspan></text><text x="24.30" y="206.55" font-size="6.7" text-anchor="middle" fill="#111" stroke="#111" stroke-width="0.22">0</text><text x="40.80" y="224.40" font-size="6.7" text-anchor="middle" fill="#111" stroke="#111" stroke-width="0.22">0</text><text x="54.20" y="224.40" font-size="6.7" text-anchor="middle" fill="#111" stroke="#111" stroke-width="0.22">10<tspan font-size="4.02" dy="-1.88" stroke-width="0.1">3</tspan></text><text x="73.10" y="224.40" font-size="6.7" text-anchor="middle" fill="#111" stroke="#111" stroke-width="0.22">10<tspan font-size="4.02" dy="-1.88" stroke-width="0.1">4</tspan></text><text x="91.60" y="224.40" font-size="6.7" text-anchor="middle" fill="#111" stroke="#111" stroke-width="0.22">10<tspan font-size="4.02" dy="-1.88" stroke-width="0.1">5</tspan></text><text x="111.80" y="224.40" font-size="6.7" text-anchor="middle" fill="#111" stroke="#111" stroke-width="0.22">0</text><text x="125.20" y="224.40" font-size="6.7" text-anchor="middle" fill="#111" stroke="#111" stroke-width="0.22">10<tspan font-size="4.02" dy="-1.88" stroke-width="0.1">3</tspan></text><text x="144.10" y="224.40" font-size="6.7" text-anchor="middle" fill="#111" stroke="#111" stroke-width="0.22">10<tspan font-size="4.02" dy="-1.88" stroke-width="0.1">4</tspan></text><text x="162.60" y="224.40" font-size="6.7" text-anchor="middle" fill="#111" stroke="#111" stroke-width="0.22">10<tspan font-size="4.02" dy="-1.88" stroke-width="0.1">5</tspan></text><text x="13.70" y="81.90" font-size="10.2" text-anchor="middle" fill="#3a3a3a" textLength="12" lengthAdjust="spacingAndGlyphs" transform="rotate(-90 13.70 81.90)" >TNF</text><text x="13.60" y="184.40" font-size="9.6" text-anchor="middle" fill="#3a3a3a" textLength="39.8" lengthAdjust="spacingAndGlyphs" transform="rotate(-90 13.60 184.40)" >Granzyme B</text><text x="32.30" y="136.70" font-size="10.2" text-anchor="start" fill="#3a3a3a" textLength="15.6" lengthAdjust="spacingAndGlyphs" >IFN&#947;</text><text x="35.80" y="236.00" font-size="10.2" text-anchor="start" fill="#3a3a3a" textLength="26.9" lengthAdjust="spacingAndGlyphs" >CD107a</text><line x1="58.50" y1="132.80" x2="148.70" y2="132.80" stroke="#000" stroke-width="1.4" /><path d="M154.00 132.80 L148.20 129.90 L148.20 135.70 Z" fill="#000"/><line x1="75.00" y1="232.50" x2="151.70" y2="232.50" stroke="#000" stroke-width="1.4" /><path d="M157.00 232.50 L151.20 229.60 L151.20 235.40 Z" fill="#000"/><text x="206.50" y="24.20" font-size="10" text-anchor="start" fill="#000" textLength="53" lengthAdjust="spacingAndGlyphs" >IFN&#947;<tspan font-size="7" dy="-3.2"> +</tspan><tspan dy="3.2">/TNF</tspan><tspan font-size="7" dy="-3.2">+</tspan></text><text x="287.30" y="24.60" font-size="10" text-anchor="start" fill="#000" textLength="75" lengthAdjust="spacingAndGlyphs" >CD107a<tspan font-size="7" dy="-3.2">+</tspan><tspan dy="3.2">/GranB</tspan><tspan font-size="7" dy="-3.2">+</tspan></text><path transform="scale(0.1)" d="M2535 526h0m-53 107h0m-353 134h0m263-45h0m128-251h0m-5 171h0m-330 79h0m312-151h0m-228 252h0m94-175h0m-184 180h0m260-198h0m-29 146h0m-179 7h0m124-112h0m-35 24h0m-65 59h0m381-126h0m-464 226h0m410-236h0m-226 126h0m11-135h0m82 46h0m-286 239h0m-84-112h0m363-289h0m67 125h0m-168 244h0m82-42h0m-14-264h0m-77 252h0m164-52h0m-268 139h0m63-77h0m54 33h0m-220-37h0m264-245h0m138-22h0m-257 140h0m110 17h0m-88 102h0m253-265h0m-288 245h0m-43-142h0m225 20h0m39-162h0m8-19h0m-313 466h0m269-303h0m-154 79h0m201-59h0m-111 129h0m165-136h0m-310 177h0m219-235h0m-183 272h0m139-133h0m-86 79h0m65-41h0m161-121h0m-100 53h0m-204 15h0m86-28h0m-246 99h0m344-194h0m-3 168h0m-25-113h0m11 102h0m-114 28h0m-33 26h0m27-92h0m-11 20h0m175 30h0m-225 96h0m343-346h0m-115 41h0m-187 244h0m100-94h0m-50 10h0m76-54h0m-68 128h0m-59 2h0m95-78h0m0-215h0m-93 276h0m102-122h0m-68 47h0m191-45h0m-180 86h0m76-236h0m121-80h0m-123 196h0m-89 82h0m152 9h0m58-183h0m-194 220h0m141-163h0m117 30h0m-415 241h0m351-215h0m-100 125h0m-139-74h0m-84 76h0m102 35h0m7-69h0m-84 62h0m310-257h0m-49 49h0m114 22h0m-22-141h0m-348 440h0m291-310h0m-183 147h0m189-147h0m-207 44h0m-101 100h0m362-173h0m-52 36h0m4-70h0m-157 217h0m-38 62h0m131-158h0m41-189h0m-261 263h0m138-141h0m149 50h0m-15-107h0m100-69h0m-214 320h0m210-173h0m-398 245h0m155-31h0m-45 84h0m183-220h0m-51-122h0m-209 293h0m124-182h0m-198 42h0m312-9h0m-3-72h0m67-18h0m-362 197h0m405-179h0m-180-2h0m-190 116h0m368-79h0m-226 57h0m-52 118h0m83-120h0m-10-49h0m-88 106h0m72 108h0m-69-143h0m45 13h0m17-166h0m-85 220h0m166-73h0m-133-49h0m-82 75h0m231-196h0m94 9h0m-11 110h0m-230 54h0m292-243h0m-276 201h0m164-103h0m-254 220h0m148-40h0m-82 122h0m174-425h0m-249 409h0m49-239h0m2-3h0m339-38h0m-22 88h0m-190 103h0m-148 28h0m15-11h0m157-134h0m213-102h0m-319 123h0m49-121h0m-2 125h0m89-95h0m-109 56h0m287-189h0m-390 359h0m202-224h0m7 28h0m51-115h0m-256 158h0m107-31h0m-231 97h0m439-99h0m-169 149h0m134-237h0m-282 157h0m44 195h0m147-187h0m79-95h0m-15-12h0m-122 151h0m1-203h0m-137 350h0m30-312h0m165 80h0m-209 63h0m182 25h0m-191-31h0m235-125h0m-56 155h0m222-195h0m-164 173h0m158-251h0m-336 144h0m-86 229h0m418-283h0m-32-49h0m-97 9h0m-82 8h0m-1 126h0m-269 169h0m312-247h0m-15 240h0m34-262h0m-113 202h0m46-200h0m-51 117h0m43-52h0m-68 120h0m68-100h0m-138 23h0m65 8h0m63-155h0m-87 161h0m160-56h0m-128-17h0m155 37h0m102-27h0m-27-15h0m-135 19h0m65-77h0m-97 180h0m75-113h0m25-202h0m-39 212h0m-145-64h0m94 162h0m46-149h0m-305 350h0m276-333h0m29 66h0m-204 67h0m405-85h0m-254-91h0m-39 130h0m128-235h0m64 103h0m-15 92h0m-261 38h0m306-130h0m-120-77h0m-109 273h0m64-203h0m117-95h0m-88 162h0m95-45h0m-290 229h0m147-285h0m60 106h0m-144 88h0m241-203h0m-228 201h0m-159 152h0m360-228h0m-255 23h0m-29 35h0m-5 162h0m180-201h0m-103 100h0m324-163h0m-413 352h0m108-260h0m128-158h0m-106 277h0m146-159h0m47-113h0m-263 261h0m261-198h0m-28-13h0m138-108h0m-69 83h0m-399 287h0m181-268h0m10 171h0m40-253h0m-45 277h0m3-59h0m68-20h0m-57-41h0m-118 69h0m41 106h0m156-290h0m-144 20h0m-16 219h0m89-240h0m23 48h0m-134 268h0m-5-117h0m-33 133h0m-7-109h0m365-210h0m-295 51h0m-46 95h0m290-108h0m-242 151h0m-152 62h0m428-286h0m-154 236h0m-158 80h0m-63-165h0m379-169h0m-403 188h0m254-129h0m-126 287h0m195-331h0m-133 101h0m95-68h0m120-32h0m-63 74h0m16 118h0m-305 107h0m-50-89h0m166 134h0m130-256h0m-46 58h0m86-97h0m-120 162h0m-211 46h0m310-307h0m-132 353h0m-221-2h0m-12-17h0m140-9h0m63-118h0m153-195h0m-280 148h0m141 182h0m114-207h0m56-96h0m-336 291h0m235-248h0m109 9h0m-123 52h0m162-136h0m-354 409h0m230-190h0m78-122h0m20 10h0m-172 54h0m85 4h0m-226 216h0m79-92h0m95-243h0m-78 233h0m93-65h0m-292 91h0m123-114h0m247 51h0m-16-208h0m-24 52h0m87 59h0m-475 204h0m409-212h0m-15-134h0m-157 158h0m173 89h0m-173 132h0m-61-181h0m292-33h0m-71-116h0m41 10h0m-38-25h0m-11 143h0m-142 191h0m160-306h0m-182 258h0m29-171h0m288 77h0m-158 0h0m12 47h0m-95-69h0m78-1h0m101-74h0m-249 108h0m65 68h0m-208-75h0m272-125h0m59 42h0m-3 51h0m-55-36h0m147-39h0m-159 1h0m24-66h0m-3 95h0m-5 222h0m19-216h0m49-2h0m-107-12h0m-123 116h0m196-138h0m-241 246h0m32-111h0m125-256h0m159 183h0m-64 49h0m45-170h0m-119 153h0m-82 118h0m177-225h0m-95 45h0m12-9h0m0-40h0m-64 202h0m79-167h0m-218 161h0m133-10h0m74-243h0m-177 264h0m175-157h0m73-16h0m-45 50h0m-255 118h0m144-40h0m-59-10h0m296-183h0m-346 265h0m80-123h0m322-87h0m-167-50h0m-100 268h0m13-36h0m-65 16h0m48-134h0m230-92h0m-194 44h0m-196 182h0m314-319h0m-134 131h0m20 19h0m155-146h0m-52 29h0m32 13h0m82 12h0m-296 112h0m25-69h0m-69 129h0m154-117h0m-68-28h0m170 108h0m-195-52h0m-108 146h0m149-146h0m141 28h0m-294 29h0m-90 224h0m475-251h0m-261-111h0m-101 247h0m68 10h0m137-209h0m-110 74h0m159-156h0m-144 268h0m131-162h0m31-45h0m-309 94h0m136-32h0m148-95h0m-127 28h0m-75 84h0m136-5h0m-87-187h0m-64 216h0m284-8h0m-93 61h0m-148 120h0m-40-250h0m120 30h0m87 128h0m-211-12h0m31-14h0m-67-23h0m-107 207h0m108-190h0m78 195h0m119-257h0m-231 150h0m237-140h0m-250 61h0m115-17h0m-94 22h0m78 25h0m-44 102h0m153-253h0m-67 117h0m268-160h0m-416 183h0m254-212h0m-291 250h0m339-141h0m-422 87h0m466-146h0m-318 232h0m160-58h0m-16-60h0m86-110h0m-52 193h0m-203 147h0m238-374h0m213-1h0m-305 236h0m-111 55h0m218-307h0m-239 313h0m94-152h0m-54-39h0m348-81h0m-161 162h0m-7-213h0m-105 243h0m176-152h0m-182 218h0m60-148h0m105-171h0m-204 185h0m-48 191h0m188 4h0m-61-28h0m51 13h0m-77-24h0m18 45h0m117-25h0m-14 1h0m-114 51h0m-95-57h0m171 21h0m41 19h0m26-15h0m-83-8h0m-2-14h0m110 23h0m-199 40h0m143-94h0m-20 58h0m-56 9h0m-104-54h0m65 0h0m68 0h0m-181 87h0m136-41h0m-83-29h0m-32 3h0m108-7h0m-109 38h0m118-47h0m133 72h0m-44-21h0m-186-5h0m52-34h0m-61 0h0m264-40h0m-295 125h0m70-44h0m-13 15h0m-27 1h0m99-81h0m73 86h0m55-67h0m-210 12h0m217-3h0m24-18h0m-226-24h0m200-26h0m24-27h0m-237 96h0m170 5h0m-208-16h0m165 17h0m-116 20h0m-25 1h0m163-13h0m-184 54h0m26-139h0m241 113h0m-255-94h0m125 44h0m-36 21h0m69-14h0m-181 77h0m246-107h0m-124 23h0m23 51h0m-32-80h0m-67 90h0m31-53h0m45 40h0m57-113h0m-5 120h0m-106 3h0m189-48h0m-189-14h0m107 50h0m-92-14h0m65-32h0m51 69h0m-82-84h0m110 9h0m-232-3h0m265-19h0m-186 60h0m212-7h0m-133-26h0m-127-13h0m230 51h0m30-26h0m-219 20h0m49 15h0m-22-31h0m49-28h0m-35 2h0m-103 3h0m53 10h0m77-16h0m16-6h0m24 37h0m26 14h0m-34-64h0m-134 78h0m82-1h0m81-31h0m-54 0h0m24-12h0m-5-36h0m-98 64h0m109-15h0m-162-12h0m65-65h0m104 73h0m67-37h0m35 78h0m-51-20h0m-171 8h0m188-34h0m-77-14h0m41 17h0m32-66h0m10 21h0m-76 27h0m-131 9h0m49 73h0m-17-96h0m24 90h0m-98-97h0m212 11h0m-37 46h0m-40-7h0m150 24h0m-232-64h0m163 29h0m-218-1h0m209 53h0m-131-82h0m-48 53h0m244 13h0m-176-45h0m-67 0h0m97-13h0m63 41h0m-138-13h0m144 31h0m-96 31h0m60 19h0m-66-85h0m73 3h0m-161 10h0m80-62h0m122 39h0m-19 49h0m-147-81h0m176 57h0m67-35h0m-267 72h0m109-82h0m17 42h0m-65 15h0m32 15h0m135 22h0m-184-94h0m37 29h0m-40 33h0m145 12h0m-140-29h0m95-50h0m28 42h0m36-21h0m-117 52h0m100-29h0m-114-13h0m114-9h0m-25 37h0m-166-20h0m230-50h0m-227 21h0m17 31h0" stroke="#8080ff" stroke-width="6.4" stroke-linecap="square" fill="none"/><path transform="scale(0.1)" d="M2120 898h0m72-97h0m-68 4h0m-72 13h0m124 123h0m35-62h0m-99-16h0m38-22h0m-29-20h0m-20 50h0m29 20h0m63 12h0m-33-75h0m17 150h0m-69-224h0m-83 172h0m145-57h0m-53 71h0m-18-38h0m14 5h0m82-4h0m-9-50h0m-32 49h0m77-23h0m-85-42h0m3-55h0m-37 155h0m-19-86h0m72-25h0m-21-13h0m-38 115h0m-48-160h0m-20 131h0m62 40h0m-63-57h0m128-35h0m-68 17h0m-41-27h0m5 101h0m5-86h0m22 23h0m62-72h0m43 14h0m-150 39h0m129 29h0m-65 58h0m-42-121h0m150 108h0m-114-60h0m-4 10h0m24-70h0m-64 50h0m29-21h0m17 19h0m113 24h0m-124 5h0m-33-70h0m77 2h0m-63 126h0m145-31h0m-152-138h0m13 23h0m1 43h0m64 138h0m-71-129h0m-33 91h0m136-59h0m-94-26h0m59-109h0m-15 145h0m-55 36h0m25-36h0m76 6h0m-112-17h0m99-43h0m-93 31h0m97 70h0m39-52h0m-171-25h0m75 76h0m59-139h0m-114 73h0m19-99h0m-36 162h0m113-130h0m-32 30h0m-35 84h0m114 2h0m-90 10h0m-56-164h0m39 71h0m83-31h0m-40 73h0m15-43h0m-42-19h0m16 5h0m34 55h0m-34-7h0m13 36h0m54-141h0m8 118h0m-21 37h0m-70-102h0m75 140h0m-81-181h0m77 134h0m-56-107h0m106 43h0m-86-16h0m67 50h0m-12 27h0m-32-55h0m-53-23h0m0-39h0m49 129h0m-26-198h0m-49 36h0m25 184h0m-54-107h0m70 25h0m26 55h0m2-69h0m-107 23h0m46 4h0m46-52h0m-10 40h0m-91-16h0m128-84h0m-40 168h0m-54-84h0m-21 99h0m92-70h0m-13-5h0m44 3h0m-128 19h0m227 36h0m-135-51h0m-33-39h0m-9 16h0m29 8h0m-67-25h0m84 63h0m25-70h0m-4 37h0m26-30h0m15 20h0m-68 12h0m-2-52h0m29 26h0m31 15h0m-125-92h0m-1 139h0m62 12h0m41-20h0m-107-26h0m11 68h0m24-57h0m5 2h0m107-2h0m2-151h0m-130 72h0m57 2h0m83 68h0m-136-22h0m71-16h0m-5-42h0m-4 10h0m6 7h0m36 20h0m-37-20h0m4-54h0m24 150h0m30-31h0m-145-8h0m90-34h0m-6 67h0m-66 52h0m-5-109h0m43 15h0m-44 81h0m50-100h0m-52 50h0m63-56h0m5 132h0m-15-174h0m29 157h0m-37-120h0m37 22h0m20 35h0m-38-41h0m32 31h0m-74 12h0m0 46h0m37-73h0m31-26h0m-59 73h0m104-8h0m-186-38h0m157-37h0m-43 28h0m51 59h0m-18-165h0m55 112h0m-91-57h0m-43 121h0m-15-47h0m96-24h0m39-38h0m-103 79h0m-68-53h0m104 45h0m30-37h0m-15 83h0m-16-128h0m2 183h0m-52-156h0m66 26h0m-78 20h0m118 5h0m-10-16h0m-106 55h0m44 8h0m49-41h0m-41-36h0m-25-2h0m59-1h0m-89 57h0m-11 8h0m76-2h0m64 29h0m-51-75h0m81 13h0m-101-27h0m-39 81h0m101-8h0m-151-19h0m-2-117h0m158 92h0m29 73h0m-189-173h0m175 39h0m-109 76h0m81 10h0m-133-35h0m71 71h0m-32-9h0m93-66h0m-78 68h0m107-127h0m-192 56h0m131-14h0m-117-21h0m122-16h0m20 68h0m-64-120h0m-101 107h0m131 37h0m60-36h0m-90 21h0m84-37h0m1 72h0m19-53h0m-28-2h0m-44-13h0m-18-62h0m-69 23h0m124 104h0m-44-14h0m-76-67h0m91-27h0m-127-54h0m175 104h0m-78 20h0m77-86h0m-132 47h0m167-51h0m-190 72h0m42 62h0m44-64h0m70-93h0" stroke="#2a2aff" stroke-width="7.6" stroke-linecap="square" fill="none"/><ellipse cx="212.6" cy="86.6" rx="9.6" ry="9.2" fill="url(#g1)" opacity="1.0"/><path transform="scale(0.1)" d="M3051 729h0m-1-129h0m68 190h0m47-120h0m47-103h0m4 105h0m-225-116h0m78 138h0m105 57h0m19-244h0m-166 54h0m119-71h0m-87 161h0m8-9h0m85-140h0m36 218h0m-57-61h0m24 17h0m-124-41h0m55-40h0m-36 15h0m11 153h0m36-206h0m94 180h0m-70-60h0m20-56h0m13 76h0m6-57h0m-43 103h0m112-177h0m-74 145h0m-21-68h0m129 21h0m-193-63h0m21 21h0m66 39h0m-32-130h0m-35 164h0m54-61h0m-12 140h0m4-96h0m-19 23h0m-38-26h0m105-60h0m-58 71h0m163 72h0m-149 7h0m-69-108h0m157-39h0m-47 104h0m-55-5h0m-133-83h0m174-50h0m-86 39h0m72 18h0m-4-250h0m-31 293h0m54 23h0m38 99h0m-72 146h0m51-312h0m-123-2h0m158 148h0m-44-207h0m14-24h0m-138 219h0m50-14h0m-11-97h0m-23 54h0m170-72h0m-120-92h0m-70 192h0m58-187h0m89 66h0m-33-74h0m6-47h0m-18 132h0m33-80h0m-36 399h0m65-459h0m-165 238h0m70-101h0m47 6h0m25-81h0m-5 202h0m-112-191h0m20 217h0m-49-174h0m11 49h0m132 72h0m-109-164h0m154 89h0m-75-183h0m-39-55h0m18 245h0m42-32h0m30 104h0m-75-36h0m109 107h0m-197-102h0m189 10h0m-160-51h0m69-10h0m-3-113h0m-9 123h0m64 70h0m-45-65h0m-49-30h0m45-106h0m65 39h0m49 186h0m-116-78h0m6-21h0m-137-29h0m53 63h0m74-130h0m38 175h0m-39-218h0m47 218h0m-8 86h0m-85-267h0m81-1h0m-12 83h0m33 48h0m-50-105h0m-50 113h0m64-59h0m-22-43h0m68 6h0m-4 171h0m-48-144h0m14-76h0m-119 202h0m114-117h0m66 39h0m-175-40h0m59 88h0m-13-89h0m100-44h0m-73 135h0m43-40h0m-40-139h0m21 198h0m-94-108h0m123 27h0m-31 34h0m90-110h0m-128 128h0m-23-127h0m204 149h0m-224-85h0m128 95h0m2-174h0m-92 148h0m43-141h0m30 92h0m-96-78h0m76 112h0m-2-120h0m-144-9h0m46 56h0m15 37h0m-23-7h0m180-36h0m-153 34h0m192-53h0m-207 134h0m79-215h0m-44 205h0m-44-155h0m170 25h0m-168 31h0m159-129h0m0 157h0m-43 32h0m-36-206h0m4 207h0m144-98h0m-213 114h0m-4-98h0m30-26h0m22 45h0m-80-55h0m141 62h0m-104-43h0m118 79h0m-201 47h0m207-113h0m-23 68h0m123-64h0m-150-189h0m-20 271h0m29-72h0m-53-14h0m79 116h0m-41-143h0m-12-31h0m4 168h0m-7-14h0m-104 126h0m143-251h0m-36-36h0m11 29h0m91 134h0m-60-103h0m-88-28h0m146-39h0m-77 71h0m-11 77h0m53 22h0m-43-126h0m-71 18h0m85 111h0m-9 4h0m-11-142h0m-60 178h0m81-91h0m-43 19h0m33-79h0m-15-1h0m-43 53h0m-26 50h0m44 15h0m-42-145h0m189 189h0m-104 3h0m17-84h0m-14 89h0m45-220h0m-57-41h0m-33 117h0m71 88h0m-71-67h0m101 2h0m-113-22h0m131 26h0m-82-8h0m19-6h0m46 120h0m-58-237h0m59 141h0m-75-192h0m37 207h0m128 93h0m-144-141h0m-65 146h0m85-181h0m-130 100h0m60 108h0m89-143h0m-24 17h0m-101 12h0m134-85h0m-99 75h0m14 68h0m67-16h0m-36-92h0m71 47h0m-57 72h0m-80-237h0m27 154h0m86-45h0m-94-31h0m23 14h0m92 238h0m-94-199h0m-11 17h0m-28-32h0m4-1h0m1 71h0m-29 53h0m80-211h0m-98 35h0m-12 59h0m236-8h0m-92 26h0m-56 131h0m43-248h0m-26 2h0m-18 113h0m97 4h0m-129-1h0m72-71h0m-35 147h0m173-54h0m-212 34h0m3-129h0m33-80h0m247 164h0m-233 28h0m-79-269h0m109 271h0m-38-116h0m27 11h0m57 43h0m-31-136h0m-101 80h0m79-14h0m-69-28h0m21-32h0m-54 175h0m120 92h0m31-25h0m-38-165h0m-93 120h0m121-137h0m1 84h0m-38-85h0m-162-31h0m113 166h0m4 40h0m-62 33h0m98-178h0m-48 121h0m-37-174h0m65 148h0m-13-71h0m86 20h0m-72 141h0m108-214h0m-173-18h0m102 140h0m-56-61h0m-29 33h0m110-130h0m-104 172h0m60-83h0m-29-191h0m-69 185h0m62-38h0m-1 61h0m-58 2h0m77-1h0m19 61h0m112-244h0m2 194h0m-88-32h0m-25-9h0m-24 197h0m33-244h0m48 62h0m-147-90h0m121 109h0m-8-125h0m-131 109h0m126-21h0m44 24h0m-149 55h0m109-9h0m-24-149h0m13 89h0m-130 25h0m92-55h0m46 0h0m-106 160h0m89-18h0m50-61h0m17-183h0m-104 310h0m-68-299h0m50 101h0m-11 24h0m6 41h0m27 32h0m-5-82h0m33-57h0m-35 125h0m-13 34h0m12-77h0m36 18h0m-16-161h0m-2 342h0m-116-240h0m80 78h0m-24-57h0m35-95h0m25 221h0m9-108h0m-23-34h0m-87 40h0m158 140h0m-192 73h0m267 42h0m-100-85h0m112 36h0m-200-37h0m157 36h0m-26-36h0m-35 10h0m41-30h0m0 26h0m-99-11h0m134 39h0m-110-23h0m-33 24h0m22-6h0m31 45h0m27-31h0m-41-37h0m54-13h0m-105 90h0m-101-58h0m150 25h0m66-4h0m159-34h0m-280-5h0m81 76h0m4-51h0m16 31h0m55-83h0m-92 97h0m5-81h0m34 24h0m-32 97h0m-53-94h0m79-13h0m-12-6h0m-2-38h0m117 109h0m-136 26h0m13-63h0m-86 7h0m20-35h0m76 51h0m-126-25h0m-40 29h0m93-59h0m-31 2h0m120-4h0m-141 72h0m-33-50h0m122-1h0m59-4h0m-44 8h0m112 24h0m-30 3h0m-154-24h0m76-6h0m-141 13h0m84 11h0m13 3h0m-55-55h0m65 61h0m-37-46h0m-23-64h0m125 69h0m-177 33h0m138 56h0m38-35h0m-20 28h0m-10-37h0m-1-47h0m-124 64h0m156 16h0m-113-149h0m118 6h0m-82 46h0m-33-30h0m-3 15h0m62 24h0m13-34h0m156 118h0m-140-33h0m78-58h0m-104 101h0m-183-45h0m212-32h0m16 26h0m-85 4h0m19 17h0m54-58h0m115 11h0m-123 3h0m61-17h0m-146 44h0m-59-22h0m169 63h0m-164-112h0m59 71h0m117-36h0m29-5h0m-57 13h0m97 59h0m-45-68h0m-207 4h0m80-10h0m-15 10h0m91 58h0m42 12h0m-236-31h0m343 14h0m-122-5h0m-72-42h0m-29-8h0m19-6h0m136 46h0m-44 38h0m-50-25h0m-75-22h0m107-56h0m2 45h0m-93 47h0m48-51h0m55-18h0m-173 51h0m190-50h0m-62 21h0m1 36h0m-10-12h0m54-37h0m-36-2h0m-39 60h0m-49-20h0m48-43h0m24-4h0m-133 59h0m178-55h0m-152-18h0m226 1h0m-183 103h0m-103-110h0m81 20h0m-87 26h0m60-54h0m125 15h0m7 5h0m92-14h0m-103 2h0m85-26h0m-131 71h0m-5-11h0m-8-13h0m60 87h0m15-51h0m-84-48h0m53 7h0m120 24h0m-5-7h0m-31-46h0m45 9h0m-117 39h0m-27 34h0m-59-11h0m-50-70h0m178 100h0m-136-27h0m51 37h0m54 7h0m-57 3h0m-17-5h0m101-115h0m27 61h0m-14-39h0m-98-15h0m154 45h0m-305 29h0m194 68h0m-34-78h0m-9-129h0m105 92h0m-18 21h0m-232-7h0m244 40h0m6-54h0m-170 33h0m13 34h0m68-20h0m41 3h0m6-15h0m-17-45h0m-140-31h0m215 35h0m-59-44h0m-61 149h0m183-55h0m-134 1h0m143-69h0m-159 26h0m77-4h0m-165 71h0m39-59h0m8 0h0m53 41h0m17 46h0m-120-68h0m73 75h0m-111-87h0m200-26h0m-71 33h0m32 3h0m-124 22h0m-98-65h0m120 29h0m79 132h0m105-128h0m-95 54h0m22-58h0m-197-71h0m192 118h0m-47 52h0m32-136h0m13 4h0m59 25h0m-128 12h0m146-51h0m-15 112h0m-32-59h0m9-19h0m-138 62h0m-54-29h0m76-27h0m39-6h0m101-9h0m-187-22h0m90 56h0m-7-1h0m-84 7h0m153-66h0m-87 53h0m-5-29h0m-23-9h0m175-8h0m-207-9h0m95 19h0m33 40h0m-19 23h0m-30-42h0m8 50h0m-75-44h0m197 22h0m-29 12h0m-232-39h0m33 23h0m91 18h0m29-41h0m69-34h0m-221 82h0m165-10h0m-105 1h0m123-23h0m-49-9h0m32-44h0m71 17h0m-186 79h0m75-103h0m20 38h0m17-24h0m-38 29h0m134-22h0m-47 71h0m-51-44h0m11-20h0m41-33h0m27 48h0m-153 25h0m176-13h0m27-1h0m-129-45h0m-30 45h0m-46-46h0m4 62h0m97 53h0m-213 0h0m230-67h0m28 13h0m-225 14h0m17 1h0m9-88h0m173 44h0m-125 83h0m53-8h0m-21-61h0m-139 49h0m123-9h0m-17-105h0m75 107h0m-201-82h0m274 102h0m-126-49h0m75 6h0m34-189h0m2-77h0m244 162h0m30 67h0m-87-26h0m22-51h0m-209-95h0m-2 21h0m145 64h0m65 53h0m-127-75h0m97 81h0m-93-61h0m9-8h0m111 102h0m-100-78h0m-8-22h0m63-81h0m-112-17h0m126 96h0m-157-72h0m218 139h0m-74 76h0m-32-255h0m-40 121h0m200 66h0m-119-5h0m-98-155h0m188 115h0m-163-48h0m38 33h0m22 9h0m28-19h0m26 5h0m-159-157h0m-49 29h0m279 162h0m-99 37h0m-88-59h0m108 38h0m-230-74h0m226 26h0m19 21h0m-39-41h0m-125-38h0m148 32h0m-181-97h0m50 69h0m89-18h0m-19 61h0m0-75h0m-35 52h0m184 153h0m-56-57h0m-208-82h0m-12-64h0m106 91h0m4 2h0m-82-118h0m34 39h0m-29 24h0m84 19h0m23 47h0m-50-44h0m74 16h0m-83 30h0m4-134h0m-68 131h0m182 33h0m-145-181h0m65 172h0m-143-111h0m206 141h0m-120-67h0m165-7h0m16 73h0m-210-208h0m119 90h0m-219-28h0m200 25h0m-93 1h0m21-47h0m219 199h0m-358-242h0m298 184h0m-82-120h0m-45 64h0m146 128h0m71-82h0m-99-5h0m-169-192h0m213 263h0m-154-162h0m76 129h0m-138-228h0m197 134h0m-48-6h0m-122-101h0m82 164h0m23 19h0m9-4h0m-195-80h0m188 60h0m-127-208h0m29 104h0m249 229h0m-125-192h0m-139-26h0m-38-15h0m13-42h0m58 76h0m32 13h0m-80-33h0m33 3h0m29 12h0m42 110h0m-20-67h0m-21-129h0m-33-18h0m81 278h0m13-66h0m-219-106h0m234 129h0m-188-96h0m114-37h0m-49-51h0m59 100h0m-90-93h0m133 16h0m-76 1h0m35 132h0m-30-45h0m-74 23h0m107 173h0m77-210h0m17 82h0m-204-176h0m175 151h0m62-16h0m-95-99h0m-107-47h0m-13 64h0m85 15h0m-19-38h0m-38-3h0m24 45h0m-11-35h0m-16 63h0m-21-89h0m-15-70h0m41 86h0m-43-107h0m34 87h0m83 248h0m-52-339h0m-4 150h0m-21-37h0m76-75h0m-13 7h0m4 72h0m-5 162h0m-23-159h0m120 153h0m-35-104h0m-28 32h0m-61 31h0m68-43h0m34 47h0m-107-135h0m-92-72h0m200 328h0m-234-242h0m62-86h0m196 321h0m-183-201h0m145 57h0m-130-119h0m105 85h0m-172-148h0m174 192h0m18 11h0m-30-138h0m-80 38h0m144 123h0m-1-44h0m-145-25h0m88-31h0m-185-59h0m116 97h0m88 63h0m-150-115h0m176 131h0m-54-174h0m-128 67h0m-35-89h0m142 164h0m-12-125h0m78 93h0m-107-120h0m158 160h0m-161-135h0m37-41h0m0 107h0m78 122h0m-68-109h0m-81-53h0m141 47h0m-80 27h0m71 14h0m-52 4h0m12 89h0m-166-256h0m174 78h0m7 109h0m33-7h0m-19-64h0m-2 71h0m-47-129h0m-76-112h0m74 244h0m-96-199h0m28 152h0m141-28h0m-176-102h0m255 169h0m-95 0h0m60 24h0m-105-112h0m71 80h0m-169-176h0m-56 93h0m116-54h0m-106-69h0m53 86h0m158 120h0m-128-78h0m122 58h0m23 26h0m-4-78h0m69 28h0m-126 67h0m-171-163h0m38-65h0m-17 80h0m247 91h0m-89 76h0m33-104h0m-204-112h0m127 157h0m-5-22h0m98 70h0m-3-66h0m-109 11h0m-91-92h0m154 91h0m-122 39h0m-6-140h0m37 74h0m-30-23h0m16-3h0m44 83h0m91-68h0m-85 25h0m0 34h0m77 45h0m-174-209h0m93 112h0m88 51h0m-87 37h0m-47-23h0m114-64h0m35-2h0m-214-91h0m186 115h0m-141-199h0m85 315h0m-120-229h0m251 170h0m-103-68h0m23 15h0m68 107h0m-152-211h0m16 120h0m-117-176h0m121 24h0m5 136h0m67-102h0m26 221h0m-39-284h0m42 153h0m-117-76h0m-135-68h0m7 87h0m146 34h0m2 85h0m49-9h0m-5-17h0m-132-175h0m96 147h0m35-46h0m-104-6h0m28-35h0m-28-17h0m-62-29h0m197 193h0m-205-152h0m142 15h0m-66 71h0m-125-151h0m274 244h0m-144-212h0m111 132h0m53 0h0m-277-144h0m49-68h0m244 300h0m-175-160h0m72-13h0m72 126h0m-144-117h0m132 110h0m-100-109h0m21 65h0m-69-74h0m162 117h0m64 9h0m-58-80h0m-101-37h0m55 127h0m13 2h0m-176-156h0m202 87h0m-68 39h0m-134-178h0m122 179h0m-16 5h0m0-145h0m46 196h0m-42-44h0m75-38h0m-90-119h0m-33 116h0m155 16h0m-68-1h0m-105-119h0m48-22h0m36 66h0m127 144h0m-205-195h0m-60 15h0m64 20h0m102 91h0m-105-98h0m71 70h0m84-57h0m-160-31h0m142 158h0m-117 46h0m-31-167h0m25 10h0m-8-61h0m94 115h0m-129-12h0m41-3h0m-48-135h0m-13 81h0m111 43h0m73-6h0m54 70h0m-276-284h0m65 119h0m-4 49h0m8 15h0m40 16h0m-38 39h0m134 37h0m-193-46h0m137-91h0m91 222h0m22-95h0m-67-55h0m34 79h0m-169-193h0m49 140h0m-168-52h0m73-71h0m165 159h0m76 22h0m-193-180h0m19 77h0m162 44h0m-226-8h0m148-44h0m52 140h0m-132-178h0m-57-41h0m17 112h0m-22-83h0m131 35h0m-140-7h0m80-15h0m163 116h0m-194-250h0m192 325h0m-189-123h0m230 127h0m-116-53h0m-80-68h0m7-108h0m-95 79h0m26-51h0m167 35h0m-51-47h0m-113-64h0m114 106h0m-58-59h0m-98-21h0m222 184h0m-51-38h0m-101-110h0m4 187h0m43-170h0m29 162h0m-23-166h0m120 65h0m-225-61h0m47-7h0m184 101h0m-187-17h0m136 55h0m-102-93h0m-68-108h0m101 139h0m-14 9h0m67 42h0m-79-126h0m150 132h0m-169-125h0m141 72h0m6 47h0m-66-69h0m-122-63h0m58 58h0m6-18h0m35 10h0m52 111h0m-78-165h0m96 182h0m-202-168h0m272 231h0m-262-232h0m-26-44h0m223 164h0m-86-38h0m151 154h0m-260-254h0m40 26h0m152 27h0m-10 106h0m-99-123h0m-151-63h0m63 37h0m52 76h0m45-26h0m77 130h0m42-168h0m-71 155h0m-130-140h0m211 114h0m-34-164h0m14 219h0m-170-133h0m93 53h0m-30-105h0m-52 129h0m51-90h0m9 37h0m-40-80h0m85 134h0m99 88h0m-114-204h0m130 118h0m-278-182h0m9 35h0m110 163h0m-53-150h0m-59 73h0m12-119h0m197 206h0m-136-181h0m143 160h0m-87-83h0m161 76h0m-126-40h0m-165-95h0m239 137h0m-186-83h0m-4 31h0m-24-44h0m29-46h0m191 220h0m-146-23h0m126-3h0m-182-222h0m177 95h0m-132 34h0m-74-171h0m54 11h0m180 188h0m-179-92h0m-104-56h0m198 28h0m-64 23h0m-103 38h0m-10-98h0m-30 25h0m48-80h0m83 180h0m97 90h0m117-45h0m-195-40h0m-133 115h0m2-23h0m-6-141h0m-16-18h0m-39 91h0m-27-197h0m37 186h0m-48-34h0m6 57h0m38 41h0m70-169h0m-38 73h0m3 10h0m-154-37h0m327 24h0m-136 31h0m-31-23h0m-39 116h0m124-118h0m-146-126h0m251 201h0m-286-160h0m-109 0h0m214 88h0m-119 107h0m71-209h0m13 58h0m305 143h0m-143-43h0m-54 42h0m-207-146h0m77 11h0m74-64h0m-2 161h0m-25 117h0m-87-175h0m225 65h0m-321-89h0m172-32h0m-86-56h0m148 84h0m29 142h0m-182-89h0m17-97h0m117 150h0m-110-61h0m274-5h0m-156 10h0m35-71h0m-51 63h0m-196 63h0m318-51h0m-181 18h0m-94-145h0m283 143h0m-181-28h0m-3-53h0m29 146h0m40-67h0m-26-116h0m-1 76h0m-61-88h0m-136 153h0m68-40h0m321 6h0m-329-65h0m144 86h0m-211-30h0m182-54h0m68 50h0m-132-7h0m-123-83h0m283 160h0m48 7h0m-266 24h0m203-231h0m-261 126h0m-31 65h0m225-110h0m90 4h0m-51-134h0m-127 30h0m-51 114h0m156-92h0m-100 135h0m-38-187h0m92 170h0m63 29h0m55-7h0m-304-1h0m279-3h0m49 5h0m-166-113h0m-98 146h0m255-47h0m-166-39h0m16 24h0m-50 13h0m106 151h0m6-166h0m-73-68h0m44 12h0m114-21h0m-60 211h0m-172-232h0m237 97h0m85 10h0m-317 100h0m42-26h0m170 56h0m-86-160h0m-166-51h0m190 171h0m-184-100h0m135-49h0m59 99h0m-18 10h0m-154-188h0m15 265h0" stroke="#5a5aff" stroke-width="6.6" stroke-linecap="square" fill="none"/><ellipse cx="315.0" cy="64.0" rx="11.5" ry="13.5" fill="url(#g2)" opacity="1.0"/><ellipse cx="314.0" cy="63.5" rx="7.6" ry="10.0" fill="url(#g3)" opacity="1.0"/><ellipse cx="315.0" cy="84.6" rx="14.0" ry="6.2" fill="url(#g4)" opacity="1.0" transform="rotate(-6 315.0 84.6)"/><rect x="200.80" y="34.40" width="66.40" height="66.20" stroke="#111" stroke-width="1.0" fill="none"/><path d="M200.50 37.40h-1.6 M200.50 40.27h-0.9 M200.50 43.13h-0.9 M200.50 46.00h-0.9 M200.50 48.87h-1.6 M200.50 51.73h-0.9 M200.50 54.60h-0.9 M200.50 57.47h-0.9 M200.50 60.33h-1.6 M200.50 63.20h-0.9 M200.50 66.07h-0.9 M200.50 68.93h-0.9 M200.50 71.80h-1.6 M200.50 74.67h-0.9 M200.50 77.53h-0.9 M200.50 80.40h-0.9 M200.50 83.27h-1.6 M200.50 86.13h-0.9 M200.50 89.00h-0.9 M200.50 91.87h-0.9 M200.50 94.73h-1.6 M200.50 97.60h-0.9" stroke="#555" stroke-width="0.5"/><path d="M203.80 100.90v1.6 M206.68 100.90v0.9 M209.55 100.90v0.9 M212.43 100.90v0.9 M215.30 100.90v1.6 M218.18 100.90v0.9 M221.06 100.90v0.9 M223.93 100.90v0.9 M226.81 100.90v1.6 M229.69 100.90v0.9 M232.56 100.90v0.9 M235.44 100.90v0.9 M238.31 100.90v1.6 M241.19 100.90v0.9 M244.07 100.90v0.9 M246.94 100.90v0.9 M249.82 100.90v1.6 M252.70 100.90v0.9 M255.57 100.90v0.9 M258.45 100.90v0.9 M261.32 100.90v1.6 M264.20 100.90v0.9" stroke="#555" stroke-width="0.5"/><rect x="295.20" y="32.80" width="66.80" height="66.20" stroke="#111" stroke-width="1.0" fill="none"/><path d="M294.90 35.80h-1.6 M294.90 38.67h-0.9 M294.90 41.53h-0.9 M294.90 44.40h-0.9 M294.90 47.27h-1.6 M294.90 50.13h-0.9 M294.90 53.00h-0.9 M294.90 55.87h-0.9 M294.90 58.73h-1.6 M294.90 61.60h-0.9 M294.90 64.47h-0.9 M294.90 67.33h-0.9 M294.90 70.20h-1.6 M294.90 73.07h-0.9 M294.90 75.93h-0.9 M294.90 78.80h-0.9 M294.90 81.67h-1.6 M294.90 84.53h-0.9 M294.90 87.40h-0.9 M294.90 90.27h-0.9 M294.90 93.13h-1.6 M294.90 96.00h-0.9" stroke="#555" stroke-width="0.5"/><path d="M298.20 99.30v1.6 M301.10 99.30v0.9 M303.99 99.30v0.9 M306.89 99.30v0.9 M309.78 99.30v1.6 M312.68 99.30v0.9 M315.57 99.30v0.9 M318.47 99.30v0.9 M321.36 99.30v1.6 M324.26 99.30v0.9 M327.15 99.30v0.9 M330.05 99.30v0.9 M332.94 99.30v1.6 M335.84 99.30v0.9 M338.73 99.30v0.9 M341.63 99.30v0.9 M344.52 99.30v1.6 M347.42 99.30v0.9 M350.31 99.30v0.9 M353.21 99.30v0.9 M356.10 99.30v1.6 M359.00 99.30v0.9" stroke="#555" stroke-width="0.5"/><rect x="224.40" y="37.70" width="38.90" height="37.70" stroke="#555" stroke-width="0.8" fill="none"/><rect x="328.40" y="35.10" width="30.00" height="42.60" stroke="#555" stroke-width="0.8" fill="none"/><text x="204.00" y="41.60" font-size="6.6" text-anchor="start" fill="#222" textLength="17.5" lengthAdjust="spacingAndGlyphs" stroke="#222" stroke-width="0.1">2.18%</text><text x="298.50" y="40.20" font-size="6.6" text-anchor="start" fill="#222" textLength="17.5" lengthAdjust="spacingAndGlyphs" stroke="#222" stroke-width="0.1">3.00%</text><text x="193.50" y="42.05" font-size="6.7" text-anchor="middle" fill="#111" stroke="#111" stroke-width="0.22">10<tspan font-size="4.02" dy="-1.88" stroke-width="0.1">5</tspan></text><text x="193.50" y="57.95" font-size="6.7" text-anchor="middle" fill="#111" stroke="#111" stroke-width="0.22">10<tspan font-size="4.02" dy="-1.88" stroke-width="0.1">4</tspan></text><text x="193.50" y="74.75" font-size="6.7" text-anchor="middle" fill="#111" stroke="#111" stroke-width="0.22">10<tspan font-size="4.02" dy="-1.88" stroke-width="0.1">3</tspan></text><text x="193.50" y="90.85" font-size="6.7" text-anchor="middle" fill="#111" stroke="#111" stroke-width="0.22">0</text><text x="211.30" y="108.80" font-size="6.7" text-anchor="middle" fill="#111" stroke="#111" stroke-width="0.22">0</text><text x="225.40" y="108.80" font-size="6.7" text-anchor="middle" fill="#111" stroke="#111" stroke-width="0.22">10<tspan font-size="4.02" dy="-1.88" stroke-width="0.1">3</tspan></text><text x="245.00" y="108.80" font-size="6.7" text-anchor="middle" fill="#111" stroke="#111" stroke-width="0.22">10<tspan font-size="4.02" dy="-1.88" stroke-width="0.1">4</tspan></text><text x="262.70" y="108.80" font-size="6.7" text-anchor="middle" fill="#111" stroke="#111" stroke-width="0.22">10<tspan font-size="4.02" dy="-1.88" stroke-width="0.1">5</tspan></text><text x="288.50" y="42.55" font-size="6.7" text-anchor="middle" fill="#111" stroke="#111" stroke-width="0.22">10<tspan font-size="4.02" dy="-1.88" stroke-width="0.1">5</tspan></text><text x="288.50" y="57.65" font-size="6.7" text-anchor="middle" fill="#111" stroke="#111" stroke-width="0.22">10<tspan font-size="4.02" dy="-1.88" stroke-width="0.1">4</tspan></text><text x="288.50" y="74.45" font-size="6.7" text-anchor="middle" fill="#111" stroke="#111" stroke-width="0.22">10<tspan font-size="4.02" dy="-1.88" stroke-width="0.1">3</tspan></text><text x="288.50" y="90.85" font-size="6.7" text-anchor="middle" fill="#111" stroke="#111" stroke-width="0.22">0</text><text x="305.70" y="108.60" font-size="6.7" text-anchor="middle" fill="#111" stroke="#111" stroke-width="0.22">0</text><text x="321.00" y="108.60" font-size="6.7" text-anchor="middle" fill="#111" stroke="#111" stroke-width="0.22">10<tspan font-size="4.02" dy="-1.88" stroke-width="0.1">3</tspan></text><text x="339.00" y="108.60" font-size="6.7" text-anchor="middle" fill="#111" stroke="#111" stroke-width="0.22">10<tspan font-size="4.02" dy="-1.88" stroke-width="0.1">4</tspan></text><text x="357.00" y="108.60" font-size="6.7" text-anchor="middle" fill="#111" stroke="#111" stroke-width="0.22">10<tspan font-size="4.02" dy="-1.88" stroke-width="0.1">5</tspan></text><text x="186.00" y="68.70" font-size="10.2" text-anchor="middle" fill="#3a3a3a" textLength="11.8" lengthAdjust="spacingAndGlyphs" transform="rotate(-90 186.00 68.70)" >TNF</text><text x="226.60" y="117.50" font-size="10.2" text-anchor="start" fill="#3a3a3a" textLength="15.3" lengthAdjust="spacingAndGlyphs" >IFN&#947;</text><text x="279.40" y="71.20" font-size="9.6" text-anchor="middle" fill="#3a3a3a" textLength="39.7" lengthAdjust="spacingAndGlyphs" transform="rotate(-90 279.40 71.20)" >Granzyme B</text><text x="311.80" y="116.90" font-size="10.2" text-anchor="start" fill="#3a3a3a" textLength="27" lengthAdjust="spacingAndGlyphs" >CD107a</text><line x1="255.90" y1="75.40" x2="255.90" y2="142.50" stroke="#000" stroke-width="1.2" /><path d="M255.90 148.00 L253.10 142.00 L258.70 142.00 Z" fill="#000"/><line x1="349.10" y1="77.70" x2="349.10" y2="142.80" stroke="#000" stroke-width="1.2" /><path d="M349.10 148.30 L346.30 142.30 L351.90 142.30 Z" fill="#000"/><path transform="scale(0.1)" d="M2069 1970h0m14 50h0m-13-63h0m-7 40h0m47-33h0m-12 5h0m-10 110h0m53-65h0m-29-96h0m22 81h0m-17-7h0m30 85h0m-62-76h0m23-32h0m-5-23h0m22 63h0m47-112h0m-63 64h0m88 24h0m-93-50h0m-35-31h0m1 117h0m88-163h0m-55 100h0m22-67h0m-48 108h0m65-49h0m-95 15h0m87-7h0m-44 41h0m21-87h0m32 91h0m-59 36h0m58 69h0m16-125h0m-72 9h0m35 11h0m-31-88h0m-14 75h0m57-19h0m6 23h0m-46-2h0m0-53h0m7 40h0m27-15h0m-93 30h0m92-35h0m-21-37h0m-40 100h0m51-14h0m-23 16h0m21-117h0m-19 56h0m15-27h0m-33-7h0m29 84h0m23 29h0m22-63h0m-67-16h0m0-12h0m2 22h0m-20-26h0m105-109h0m-4 124h0m-57 0h0m-12 47h0m-4-62h0m13 5h0m-1 50h0m14-19h0m-58 16h0m82-45h0m-22 55h0m19 4h0m-25 2h0m-35-3h0m17-75h0m-37-12h0m51-30h0m-18 50h0m12-22h0m8 14h0m-1 75h0m-38-15h0m37 34h0m-90-23h0m66 3h0m19-23h0m-11 8h0m79-49h0m-63 49h0m49-28h0m-35-45h0m2 35h0m-67 14h0m63-34h0m-35 27h0m1 33h0m-11 9h0m10 73h0m-15-60h0m10-35h0m15-22h0m-20 32h0m59-68h0m-75 127h0m13-123h0m42 56h0m37-5h0m-1 19h0m-40-85h0m11-26h0m7 176h0m-7-42h0m-9-91h0m-1-27h0m18 34h0m-34-8h0m62 45h0m-37-15h0m-13-12h0m-29 1h0m64 6h0m-38 110h0m14-45h0m-19-18h0m35-40h0m6 68h0m-102 41h0m92-26h0m39-27h0m-57 12h0m-31-128h0m17 102h0m-16 20h0m-15-70h0m94 5h0m-29-41h0m-41 119h0m-36-76h0m5 16h0m-1-28h0m29-24h0m20 92h0m-8-73h0m58 93h0m-66-58h0m-3-17h0m8 8h0m-48-64h0m60 41h0m7-33h0m21 73h0m-54-21h0m40-10h0m-16 65h0m0-19h0m-29-7h0m26 0h0m80-1h0m-85-48h0m41-28h0m-51 106h0m-27-94h0m33 90h0m39-27h0m-50 46h0m46 15h0m-2-104h0m-10-16h0m43 35h0m-111-25h0m69 28h0m9-24h0m-34 56h0m1-17h0m-19 2h0m68-4h0m33-65h0m-112 58h0m-12-31h0m55-12h0m-8-20h0m28 74h0m-74 33h0m34-22h0m-43-84h0m89 105h0m-8-85h0m-12 130h0m-18-62h0m-3-41h0m28-30h0m13 90h0m-35-55h0m-40 25h0m64-23h0m-36-13h0m7 152h0m19-190h0m23 50h0m-81 113h0m18-121h0m39 80h0m-15 7h0m-6-91h0m-5-13h0m7 112h0m-1-62h0m19-22h0m-17 23h0m8-119h0m-15 9h0m50 74h0m-45 72h0m-18-97h0m0 67h0m36-34h0m15 82h0m-56-65h0m14-15h0m29-50h0m-67 103h0m48-8h0m-15 3h0m26 10h0m-13-98h0m-22 45h0m52-42h0m-2 70h0m-51-45h0m40 47h0m10-45h0m-21 49h0m33-31h0m13 25h0m-59 15h0m24-6h0m26 11h0m-4 34h0m-21-131h0m-37-50h0m-23 79h0m42 18h0m45 28h0m9-9h0m-61 16h0m44-85h0m-27 74h0m-12 60h0m30-39h0m-21-47h0m-49-14h0m75-2h0m-26-70h0m-15 92h0m18-30h0m-7 66h0m37-6h0m9-77h0m-13 69h0m-26-11h0m24-51h0m38 43h0m-15-43h0m-43 31h0m-43 55h0m-9-12h0m48-10h0m-20-24h0m38-35h0m-11 46h0m-28-5h0m43-14h0m-60-19h0m22 40h0m-15 21h0m2-14h0m-6-25h0m51-9h0m45 1h0m-108 12h0m92-34h0m-36 45h0m16-10h0m11-49h0m-32-2h0m-9-19h0m-6 34h0m67 44h0m12-9h0m-54 29h0m19-62h0m-41 91h0m-3-56h0m-29-61h0m30 37h0m11 78h0m-39-59h0m23 2h0m20-42h0m-22-56h0m74 64h0m-9-16h0m-67-11h0m46 55h0m-20-109h0m-5 129h0m-14 7h0m8 39h0m28-113h0m-37 70h0m-11-5h0m45-33h0m-12 6h0m11-112h0m-20 124h0m-14 67h0m-30-50h0m14-78h0m24-15h0m0 190h0m29-93h0m-66-116h0m27 45h0m27-4h0m-24 162h0m-16-67h0m47 75h0m-56-140h0m503 15h0m-355 65h0m143-39h0m-14 49h0m-62-53h0m61-36h0m-159 41h0m233-11h0m-231 38h0m301 50h0m-121-111h0m62 22h0m-239 30h0m366-25h0m-172 27h0m65-39h0m-247 53h0m84-36h0m103-38h0m-47 23h0m230 22h0m-276-14h0m222-54h0m35 37h0m-240-6h0m34 29h0m137 66h0m-78-25h0m-153-63h0m230 73h0m-155-31h0m-26-13h0m63-82h0m-100 98h0m214-51h0m94 99h0m-310-136h0m230 6h0m-92 89h0m-95-94h0m-56 46h0m-36 42h0m178-33h0m-4-70h0m-82 9h0m-29 31h0m285 25h0m-314-19h0m3 48h0m20-67h0m250 38h0m-227 23h0m46 13h0m25-27h0m23 46h0m99-23h0m-294 13h0m-13-59h0m51 80h0m108-45h0m-149-49h0m279 57h0m-258-67h0m252 88h0m-74-75h0m160 33h0m-82-43h0m-8 38h0m-104-27h0m-23-8h0m85 75h0m-199-53h0m14 81h0m-22-77h0m169-9h0m138 74h0m-288-48h0m40 9h0m307-67h0m-328 59h0m269 13h0m-289-61h0m-21-7h0m358 114h0m-166-144h0m-190 51h0m211 48h0m-7 7h0m-15-78h0m-80 75h0m150-24h0m-262-7h0m335 19h0m20-9h0m-32-67h0m45 59h0m-396 31h0m28-36h0m167-3h0m84-14h0m-210 83h0m-8-62h0m222 33h0m-168-38h0m-45-10h0m30 33h0m-66-44h0m-7 9h0m252 7h0m-234-23h0m204 96h0m-236-114h0m141 4h0m97 43h0m-14 50h0m-172-61h0m85 90h0m-42-117h0m3 105h0m-98-13h0m76-88h0m130 64h0m-93-25h0m178 38h0m-245-87h0m-31 69h0m302 19h0m-89-57h0m43-27h0m25 69h0m-125-75h0m42 72h0m83-3h0m-26 23h0m93-17h0m-163-36h0m147-23h0m-110 52h0m-64 39h0m203-55h0m-214 34h0m-155-82h0m-14 12h0m397 18h0m-403-1h0m86 0h0m19-17h0m221 77h0m15-88h0m16 1h0m-277 8h0m-5-33h0m20 68h0m-16-32h0m-50 39h0m188-15h0m153 2h0m7-9h0m-356 30h0m179 4h0m-43-1h0m50-69h0m-27 14h0m-104-29h0m129 26h0m-64-2h0m-123-15h0m202 52h0m172-13h0m-285-28h0m-38 27h0m23 71h0m285-39h0m-31-37h0m-237 86h0m115-143h0m-140 116h0m283 24h0m-103-95h0m-3 132h0m-172-56h0m139 4h0m121-117h0m-67 117h0m-4-35h0m-188 0h0m257 37h0m-309 14h0m248-63h0m-8-28h0m-142 8h0m190-7h0m-239 109h0m188-59h0m45-68h0m-120 10h0m-142 116h0m332-76h0m-131-24h0m-255 77h0m55-13h0m-42-149h0m159 66h0m132 59h0m-314 2h0m18 1h0m364-9h0m-302-4h0m115-4h0m131-56h0m-226 25h0m182 9h0m128 32h0m-209 67h0m175-110h0m-318 78h0m339 5h0m-368-28h0m201-41h0m109-19h0m-329 23h0m314-13h0m-317 13h0m178 95h0m-169-16h0m4-85h0m149-71h0m-112 74h0m62 77h0m-20-34h0m93-40h0m-119 20h0m157 13h0m101 51h0m-93-61h0m153 14h0m-335-38h0m109-61h0m163 26h0m-74 63h0m79-28h0m-172-78h0m-29 120h0m-133-27h0m228 20h0m-40-52h0m145 35h0m32 48h0m-354-36h0m58-50h0m126 19h0m11 88h0m-13-107h0m-171 29h0m37 20h0m273-9h0m-2-40h0m-172 105h0m96-63h0m123-10h0m-22 13h0m-176-57h0m218 0h0m-293 67h0m32 23h0m200-18h0m1-63h0m-165 56h0m238-43h0m-15-31h0m-345 98h0m342-38h0m-209-69h0m-56 92h0m205-32h0m-76 32h0m-191-61h0m137 41h0m128 96h0m-207-123h0m-101 33h0m183-31h0m-82 10h0m18 3h0m198-15h0m7-21h0m-235 48h0m-21-22h0m217 90h0m24-63h0m-174-68h0m-101 35h0m0-39h0m179 59h0m88-2h0m-151 17h0m241-4h0m-127 74h0m79-124h0m-324-44h0m274 72h0m-16 15h0m4 9h0m-297-57h0m225 25h0m33 61h0m113-63h0m-63-16h0m-256 17h0m263 29h0m26-5h0m-310-4h0m274 79h0m-137-117h0m182 16h0m-87 78h0m14-42h0m-225-34h0m65 40h0m-7-10h0m200 51h0m-223-51h0m-9 13h0m271 30h0m-74-62h0m47-38h0m-273-32h0m-9 17h0m196 90h0m-24-39h0m79 51h0m-73-1h0m-75-53h0m259 55h0m-216-122h0m133 64h0m-157 22h0m-124-71h0m220 29h0m-85-9h0m-30 21h0m165 54h0m-97-11h0m178-65h0m-88 47h0m-215-32h0m-55 53h0m318-62h0m-182 38h0m102-56h0m-72 45h0m17-22h0m161 58h0m15 12h0m-76-73h0m-29 55h0m-223-77h0m344 9h0m-157 59h0m-2-47h0m-124 21h0m238 23h0m-36 20h0m-51-54h0m105 13h0m-66 5h0m-243-38h0m18-2h0m-7 29h0m129-16h0m-143 2h0m118 61h0m-54-60h0m17 84h0m238-62h0m-143 13h0m11-17h0m130 20h0m-156-21h0m-198 53h0m212 20h0m-68-37h0m-67-85h0m198 67h0m-131-1h0m114 46h0m55-87h0m-181-14h0m181 120h0m-151-125h0m29 37h0m88 18h0m80-26h0m-36 57h0m-13 29h0m-218-28h0m42-43h0m65 41h0m-158 80h0m116-139h0m-109 58h0m101 13h0m14-107h0m96 35h0m90 64h0m-298-38h0m231 36h0m57 58h0m-83-78h0m-124 4h0m238-2h0m-208 10h0m-134-11h0m-24 22h0m-6 21h0m338-137h0m-310 101h0m224-55h0m-83 14h0m-16 89h0m-103-55h0m83-34h0m76 31h0m-137 30h0m232-40h0m-317-5h0m292 12h0m-8 11h0m-292-56h0m217 99h0m53-137h0m-100 112h0m-83-3h0m28 14h0m35-24h0m-78 3h0m324-84h0m-135 60h0m-5-8h0m55 50h0m-267-76h0m-52 57h0m13-105h0m85 106h0m122-50h0m-96-35h0m-124 94h0m88-90h0m138 72h0m-197-26h0m221 36h0m-159 0h0m-9 71h0m303-86h0m-235 7h0m-142 16h0m178-33h0m-5 83h0m-28-117h0m184 77h0m-184-92h0m186 85h0m-190 3h0m9-23h0m-85-94h0m295 100h0m-244 0h0m260 42h0m-371-104h0m57 127h0m50-21h0m-55-73h0m153 13h0m152-3h0m-150-29h0m25 31h0m119-30h0m-368 10h0m46-1h0m129 13h0m107 19h0m26 41h0m-218-93h0m262 68h0m-9 6h0m-295-22h0m94 18h0m83-103h0m-189 44h0m78 42h0m85-17h0m-26-23h0m-18 60h0m-15 79h0m193-100h0m17-30h0m-116-21h0m95-13h0m-163 105h0m5-65h0m-120 42h0m105-69h0m-80 78h0m309 45h0m-189-86h0m-59-36h0m192 39h0m-81 32h0m-222-64h0m182 53h0m128-88h0m-264 29h0m235 7h0m-284 52h0m104 21h0m248-46h0m-225-64h0m113 52h0m-127-12h0m-2 44h0m119-69h0m-140 31h0m-14 81h0m-53-137h0m352 36h0m-312 47h0m70 5h0m28 14h0m160-25h0m2 56h0m-198-144h0m157 125h0m105-37h0m-114-22h0m-106 54h0m-23-53h0m-120-13h0m109 66h0m69-8h0m-224-35h0m73-79h0m163 113h0m-108-18h0m-125 33h0m158-35h0m123-17h0m-87-20h0m-31 56h0m-15 7h0m223 41h0m-188-78h0m196 28h0m-270-15h0m18 30h0m38-144h0m183 73h0m-157 98h0m-4-79h0m54 11h0m107-15h0m-203 0h0m-114 82h0m273-39h0m-271-42h0m262 87h0m-29-86h0m-177-10h0m80 55h0m-4-38h0m-57-36h0m285 21h0m-133 15h0m-16 16h0m116 51h0m-349-129h0m49 84h0m212-83h0m-176 79h0m284-37h0m-97-24h0m-222 93h0m11-15h0m-40-21h0m350-39h0m-372 51h0m39-23h0m266 56h0m-143-40h0m-50-5h0m-62-25h0m12-20h0m257 36h0m-174 6h0m-103 32h0m236-73h0m-235 51h0m172 4h0m49-35h0m-106-17h0m-140 83h0m262-76h0m-186-47h0m130 10h0m76 65h0m-295 6h0m147 5h0m-107-68h0m264 116h0m-65-8h0m-101-30h0m191 10h0m-321-6h0m288-69h0m-136 41h0m53-7h0m-178 127h0m202-92h0m-92 31h0m-110-43h0m103 47h0m101-90h0m32 35h0m-27-1h0m33-9h0m98 13h0m-244-3h0m-1 24h0m-49-59h0m-19 45h0m218-1h0m95-21h0m-226 34h0m121 25h0m-213-49h0m-2 57h0m49-50h0m213-17h0m75 16h0m-222 54h0m42-164h0m101 159h0m-216-10h0m164-74h0m-166 44h0m-97-42h0m173 44h0m-101-81h0m121 58h0m-131 2h0m14 72h0m112-72h0m-153-65h0m241 84h0m118-56h0m-243 67h0m84-82h0m154 78h0m-135-10h0m-85-6h0m220-59h0m-16 28h0m-168-14h0m-199 10h0m131-46h0m-141 81h0m125-44h0m80 26h0m-56 27h0m67 40h0m-205-110h0m348 61h0m-4-19h0m-160-48h0m57 45h0m103-47h0m-348 85h0m225-30h0m-182-14h0m344 32h0m-370 36h0m177-129h0m-13 109h0m99 41h0m59-50h0m-240 69h0m98-55h0m168-75h0m12 52h0m-228-27h0m-99 18h0m187 1h0m-168-24h0m96 14h0m132 13h0m63 10h0m11-4h0m-81-27h0m44 91h0m-238-57h0m43-13h0m208 32h0m27-49h0m-368-26h0m2 67h0m228 24h0m-122-3h0m64-7h0m-46-83h0m-61 56h0m30-26h0m28-5h0m257 66h0m-132-87h0m-183-8h0m242 68h0m-85 52h0m-64-27h0m-147-91h0m353 12h0m-269-6h0m114 83h0m-122 2h0m291-71h0m-367 16h0m360 30h0m8-102h0m-95 146h0m66-60h0m-286-9h0m121-81h0m186 114h0m-220-58h0m183 14h0m-251-64h0m5 142h0m-53-120h0m286 41h0m-226 5h0m275 46h0m-52-127h0m-229 102h0m100-5h0m183-43h0m-372 47h0m230 12h0m-224-5h0m311-6h0m46 38h0m-273-71h0m234 29h0m-210-35h0m-90-30h0m73 32h0m-4 6h0m293 60h0m-100-23h0m-106-2h0m-84 7h0m42 0h0m97-68h0m-47 30h0m76 29h0m-286-2h0m6 18h0m396-5h0m-266-12h0m-83-39h0m354 70h0m-211-73h0m151-52h0m-264 124h0m195 48h0m-98-64h0m184 1h0m-194 15h0m62-96h0m89 39h0m-31 11h0m-105 31h0m-174-24h0m247-5h0m-184-19h0m-29-13h0m214 19h0m116 50h0m-201-81h0m3 106h0m34-61h0m-42-1h0m65 34h0m-56 39h0m3-34h0m36-81h0m184 67h0m-196 32h0m-7-90h0m-27-73h0m-142 148h0m259 6h0m-51-86h0m170 118h0m-322-65h0m75-27h0m229 64h0m-377-70h0m44 15h0m230 5h0m-9-54h0m-197 0h0m-29 48h0m39-7h0m32-42h0m75 137h0m83-69h0m34-31h0m-260 104h0m51-110h0m-25 41h0m-76-33h0m60 51h0m249-6h0m-255-81h0m82-16h0m-81 65h0m81 82h0m92-114h0m153 18h0m-297 34h0m38-41h0m-3 10h0m-13 9h0m65-19h0m188 23h0m-256-20h0m-60 15h0m247 20h0m-205 41h0m7-57h0m242-36h0m-54 49h0m-158-50h0m131 18h0m-255 41h0m81-49h0m219 46h0m-66 6h0m-230-12h0m111 6h0m160-72h0m-88 100h0m162 30h0m-222-88h0m44 9h0m-157 21h0m214-2h0m20-100h0m-219 133h0m337-20h0m13-51h0m-326 46h0m208-11h0m-105 17h0m229-66h0m-217 46h0m-55 35h0m54-15h0m198-102h0m-5 72h0m-280-10h0m13 35h0m151-48h0m138 17h0m-168 76h0m-104-126h0m32 115h0m74-21h0m7-31h0m-161-3h0m56-22h0m290 39h0m-15-53h0m-31 42h0m-355-4h0m350 3h0m-126-4h0m73 49h0m-106-157h0m-13 79h0m-158 96h0m14-37h0m282 25h0m-163-56h0m-143 45h0m73 16h0m78 11h0m222-53h0m-185 14h0m197 35h0m-49 27h0m26-105h0m-38 60h0m-43-74h0m-194-8h0m175 12h0m83 25h0m-335-64h0m378 78h0m-135 32h0m-115 10h0m144-12h0m-211-76h0m-44 70h0m41-30h0m259-4h0m-112-22h0m-220 34h0m134 23h0m-49-59h0m46 45h0m54 47h0m159-79h0m-341 38h0m373-102h0m-22 67h0m-2 6h0m-336-22h0m298-9h0m-155 35h0m-111 15h0m101-22h0m222 3h0m-186-10h0m-137-32h0m291-22h0m-279 83h0m78-3h0m204 4h0m52-47h0m-329 76h0m70-32h0m-29 29h0m106-48h0m-133 59h0m29-93h0m5 81h0m234 22h0m-54-12h0m52-146h0m12 86h0m-5 22h0m-96-53h0m38 11h0m-28 15h0m126-23h0m-246 28h0m-31-35h0m34 9h0m149 17h0m-242-9h0m310 2h0m-8 0h0m-40-25h0m-193 18h0m112-78h0m96 110h0m-192-4h0m138 28h0m-50-25h0m-22 31h0m-59-17h0m11-6h0m198-35h0m7-22h0m-60 22h0m-273 27h0m245-42h0m-152 67h0m199-86h0m-21-28h0m-42 150h0m96-85h0m17 53h0m-69-46h0m-165 22h0m-157-5h0m408 13h0m-14-36h0m-203 20h0m-109-8h0m-56 1h0m359-50h0m-220 12h0m-88 3h0m-65 73h0m145-58h0m1 65h0m29 0h0m191-41h0m-269-5h0m249 13h0m-136 27h0m49-11h0m-270 13h0m200 23h0m24-76h0m-132 71h0m104-70h0m45-17h0m-162 75h0m-55-35h0m188-79h0m17 32h0m129 59h0m-326-12h0m163-10h0m110 31h0m-89-58h0m-125 54h0m117-17h0m-119-33h0m138-36h0m97 107h0m-194-1h0m265-75h0m-145-20h0m136 87h0m-69-30h0m-136 24h0m33-72h0m169 42h0m-245 47h0m224 22h0m-22-93h0m-136 21h0m-2-29h0m204 48h0m-373 0h0m288-92h0m82 89h0m-402-9h0m282-41h0m-36 62h0m-175-78h0m26 33h0m18 44h0m26-15h0m-43 28h0m-97-74h0m13 55h0m211 14h0m28-59h0m32-20h0m-55 39h0m-32 10h0m-12-15h0m-19 19h0m-136-59h0m365 70h0m-254-65h0m60 123h0m-43-99h0m200 2h0m-138 55h0m-100-56h0m226-27h0m-43 40h0m-62 28h0m-178-23h0m122 37h0m-81 11h0m89-51h0m47-104h0m-170 104h0m37 19h0m-58-54h0m170 45h0m68-5h0m-112 0h0m-122-25h0m216 17h0m-182 80h0m299-32h0m-178 20h0m100 7h0m-66-86h0m96 8h0m-55-19h0m65 11h0m-266-15h0m245 37h0m-204 29h0m-123-73h0m367 35h0m-198 31h0m241-85h0m-343 77h0m57-42h0m-92 106h0m51-107h0m310 35h0m-48 71h0m-156-48h0m181 67h0m-106-152h0m-362-31h0m267 30h0m226 8h0m-164 53h0m109 104h0m-192-216h0m-86 50h0m87 141h0m-12-84h0m-68-89h0m72 153h0m96-160h0m-31 42h0m-289 126h0m97-166h0m355 79h0m-265 38h0m-53-76h0m238 96h0m91-39h0m-502-1h0m512 11h0m-201-3h0m-195 88h0m276-49h0m-324-113h0" stroke="#1010ff" stroke-width="8.4" stroke-linecap="square" fill="none"/><path transform="scale(0.1)" d="M2115 1988h0m5-31h0m-12 2h0m-21 11h0m5-41h0m37-27h0m-44 120h0m38-45h0m11 50h0m-59-60h0m34-18h0m-30 32h0m-11-27h0m32 20h0m26-1h0m1 42h0m2-79h0m-43 32h0m56 58h0m-17-85h0m-16 25h0m15 57h0m-51-88h0m35-57h0m-9 94h0m6 29h0m-14 39h0m32-81h0m-7 31h0m-3-42h0" stroke="#ff9a10" stroke-width="8.4" stroke-linecap="square" fill="none"/><path transform="scale(0.1)" d="M2522 2035h0m-178-40h0m154 22h0m-18-73h0m-121 61h0m-24-32h0m-27-16h0m188 24h0m-100 58h0m105-123h0m-31 100h0m-127 20h0m-20-41h0m98 30h0m-48 41h0m45-57h0m8-33h0m-113 11h0m76 79h0m-1-59h0m43-41h0m-20 11h0m-38 35h0m47-72h0m-43 76h0m1-34h0m160 35h0m-234-11h0m254-39h0m-248 8h0m131-25h0m118 116h0m-201-99h0m21 54h0m108-53h0m-51-23h0m86 18h0m-95 51h0m96-18h0m38-41h0m-176 17h0m75-18h0m-136 37h0m55-16h0m118-15h0m-114 57h0m-41-67h0m210-20h0m-148 117h0m164-24h0m-46-60h0m-26 13h0m57-16h0m-42 8h0m-140-31h0" stroke="#ff9a10" stroke-width="8.4" stroke-linecap="square" fill="none"/><path transform="scale(0.1)" d="M2574 2039h0m-84-16h0m49-31h0m-8 28h0m44 10h0m-52-11h0m-47-32h0m36 42h0m-49-1h0m77-17h0m-79-23h0m3 3h0m21 35h0m20-33h0m-33-5h0m43 18h0m-33-4h0m4-1h0m-15 1h0m50 36h0m-53-9h0m22-27h0m38-12h0m-34 22h0m38 6h0m-76-25h0m16 31h0m14-46h0" stroke="#ff2a00" stroke-width="9.0" stroke-linecap="square" fill="none"/><path transform="scale(0.1)" d="M2337 1996h0m-45-42h0m-21-57h0m77 101h0m-70-17h0m-59-5h0m112 62h0m21-83h0m-11 37h0m-12-10h0m27-23h0m-60 49h0" stroke="#ff9a10" stroke-width="8.4" stroke-linecap="square" fill="none"/><path transform="scale(0.1)" d="M3020 2017h0m61 43h0m-3-103h0m40-72h0m-56-8h0m-41 202h0m21-119h0m53 10h0m5 122h0m-34-67h0m7 18h0m14-21h0m-35-37h0m25 59h0m37-133h0m-26 69h0m-82 54h0m31-21h0m15-11h0m1-4h0m0 32h0m56-72h0m6 9h0m-11-59h0m-73-56h0m53 78h0m54 45h0m-92 113h0m83-178h0m-71 15h0m-72 47h0m143-10h0m-45-37h0m44 20h0m1 145h0m-27-100h0m6 0h0m0 53h0m-18-81h0m-21-12h0m1 6h0m4-57h0m35 64h0m-49 42h0m-8 26h0m-15-19h0m134-46h0m-81 29h0m-52 21h0m24 7h0m-27 42h0m44-149h0m-44 27h0m49 116h0m-12-65h0m-42-58h0m43 69h0m-41-115h0m7 108h0m3-20h0m-26 20h0m32 2h0m88 2h0m-75 137h0m-28-205h0m3 33h0m61-50h0m-50 45h0m53 68h0m-13-23h0m-44 75h0m64-84h0m-1-42h0m-14-38h0m-61 43h0m15 131h0m-17-132h0m-26 12h0m53-45h0m27-35h0m-119 29h0m92 72h0m-30-68h0m95 34h0m-73-7h0m-5 25h0m6 28h0m12-147h0m33 109h0m-24-66h0m-14 41h0m5-1h0m-24-7h0m23-5h0m21 15h0m-34-1h0m-48 67h0m26 43h0m48-48h0m14-11h0m-23-19h0m-11 43h0m13-97h0m-15-25h0m-34 79h0m38-7h0m-76 37h0m47-53h0m56 40h0m-36-48h0m-2 21h0m76-44h0m-40 83h0m-56 80h0m54-40h0m49-136h0m-41 169h0m-30-138h0m-21-71h0m46 129h0m65-45h0m-56 104h0m-70-148h0m82 64h0m-133 18h0m136 18h0m-39-73h0m-2 122h0m7-105h0m3-68h0m1 22h0m44 70h0m-80 3h0m48 5h0m-74 57h0m15-20h0m46-106h0m19 70h0m-88-26h0m84 96h0m5-133h0m-85 83h0m48-20h0m-20 3h0m25-8h0m37-47h0m13 46h0m-34-33h0m-3 37h0m-28 85h0m33-34h0m60-34h0m-108-59h0m37 98h0m4-24h0m12 25h0m-79-97h0m39 117h0m11-91h0m31-49h0m8 55h0m-109 73h0m40-106h0m48 31h0m22 24h0m-14 21h0m47-102h0m-27 145h0m-20-90h0m-108-90h0m46 5h0m17 210h0m44-109h0m0 9h0m-61-62h0m15-30h0m-64 110h0m78-2h0m-4-51h0m21-74h0m29 92h0m-36-13h0m4 38h0m-86-70h0m89 37h0m24 72h0m-55 26h0m15-129h0m56 95h0m22 15h0m-61-57h0m17-32h0m27 85h0m-8-81h0m-54 38h0m11-18h0m7 95h0m-21-113h0m64 121h0m-48-76h0m5-47h0m-24-29h0m12 76h0m14-138h0m-14 107h0m5-29h0m-88-30h0m85 128h0m84-134h0m-72 29h0m-25 28h0m3 15h0m-46-22h0m37 64h0m91-110h0m-112 19h0m32 82h0m30-147h0m-34 139h0m13-39h0m35 3h0m-25 74h0m-41-54h0m61 45h0m-66-51h0m31 4h0m0 9h0m-1-88h0m-28 62h0m47-87h0m50 35h0m-109 20h0m74 47h0m-2-49h0m14-23h0m-85-28h0m45-18h0m20 79h0m-43 59h0m56-88h0m-1 67h0m-30-3h0m-23-20h0m61 37h0m5-48h0m-51 46h0m7 19h0m-2-64h0m45-9h0m-40-29h0m48-9h0m-75 77h0m66 18h0m-92-21h0m34-35h0m46 26h0m-28 0h0m-38 23h0m46-58h0m27 13h0m-88 24h0m46-12h0m15-64h0m-23 99h0m54-32h0m-1 54h0m-38-81h0m5 60h0m-1 106h0m33-131h0m-55 116h0m20-100h0m-55 5h0m7-18h0m-21 28h0m63-35h0m24 65h0m-4-63h0m-88-20h0m65-41h0m65 31h0m-89-13h0m3 63h0m9 44h0m-25-100h0m40-12h0m27 85h0m-61-56h0m49 67h0m-105-49h0m116 37h0m-2-61h0m-61 15h0m87-87h0m-79 69h0m55 12h0m-56 58h0m8 8h0m95 57h0m-24-47h0m22-24h0m-33 11h0m-66-10h0m-4 66h0m35-119h0m56 16h0m-137 15h0m51-40h0m82 67h0m-74 81h0m68-200h0m-20 133h0m3 14h0m-63-2h0m59-61h0m19-46h0m-45 44h0m9 37h0m-55-41h0m92 63h0m36-62h0m-126 34h0m35-79h0m6-61h0m55 43h0m-75 132h0m-28-55h0m103 7h0m-56 36h0m9-95h0m-14 115h0m-24-35h0m13 23h0m-2-113h0m9 84h0m23-127h0m-16 130h0m-17 26h0m47-73h0m-13-28h0m5-39h0m-82 95h0m71 38h0m19-17h0m-67-20h0m42-47h0m37 42h0m-27 20h0m-41-100h0m8-12h0m-14 76h0m98 45h0m-70-28h0m33-9h0m-52 97h0m121-132h0m-95 55h0m24-3h0m-52-57h0m30 122h0m-65-98h0m104-39h0m-103 118h0m40-53h0m28 37h0m-42-98h0m34 53h0m24-70h0m43 63h0m-53-64h0m-10 107h0m47-74h0m-131 23h0m80 31h0m2-90h0m9 190h0m-2-148h0m-9 4h0m31 65h0m-10-65h0m39 60h0m-21-8h0m-18-68h0m-24 29h0m8 34h0m-3 15h0m34 34h0m-37-96h0m2-12h0m54 101h0m-53-95h0m34 15h0m16 31h0m-25 25h0m-47 42h0m21-36h0m36-126h0m-31 18h0m-32 104h0m29-89h0m2 25h0m35 36h0m-12-18h0m-66 2h0m50 4h0m-9 9h0m38-84h0m-3 102h0m-27 1h0m-11-132h0m36 14h0m-87 84h0m56-124h0m1 215h0m-17-150h0m19 49h0m58 54h0m-65 33h0m87-37h0m-41-12h0m322 33h0m68-116h0m-151 48h0m46-25h0m52 8h0m72 56h0m-8-127h0m-53 86h0m10 45h0m1-120h0m-241 105h0m-41-39h0m131 15h0m-58 37h0m-63-52h0m192 64h0m115-82h0m-301 56h0m230-13h0m-87-78h0m23 75h0m58 7h0m-267-7h0m126-32h0m5 13h0m9 3h0m215-15h0m-272 39h0m21-37h0m282 19h0m-410-40h0m287 34h0m3-28h0m119 43h0m3-54h0m0 3h0m-117 107h0m-214-62h0m311 30h0m-257-10h0m219-55h0m-324-30h0m108 130h0m-27-75h0m123 42h0m-216-30h0m252-47h0m99 18h0m-183 11h0m-91 68h0m302-31h0m-156-20h0m-56-59h0m-152 73h0m220 18h0m-218-15h0m309-51h0m-80 43h0m83-44h0m-22 5h0m36 24h0m-103-33h0m31 103h0m1-67h0m123-9h0m-42 59h0m20-18h0m-368-33h0m252-58h0m-199 56h0m206-13h0m-110 17h0m71-37h0m-232-30h0m27 36h0m279 21h0m55-15h0m-368 107h0m257-108h0m-40-53h0m-131 21h0m201 54h0m-190-8h0m30 27h0m73 71h0m54-91h0m88-22h0m-219-14h0m139 96h0m-202-72h0m287 32h0m-111-42h0m-187-2h0m-34 45h0m249-47h0m32-6h0m-90-30h0m-50 88h0m153-39h0m-182-6h0m52-13h0m23 14h0m-28-54h0m-133 71h0m229-107h0m-163 152h0m55-8h0m-35-51h0m42 78h0m-54-119h0m-73 75h0m99 16h0m226-106h0m-292 123h0m197-76h0m-99 14h0m113 22h0m-144-53h0m-113 9h0m-16-18h0m356 42h0m-174 70h0m-17-119h0m-131 111h0m229-44h0m-129-15h0m-156-35h0m323 4h0m-98 5h0m-27 69h0m43 12h0m62-37h0m-128 3h0m-169 7h0m164 1h0m174 23h0m-111-88h0m-127 49h0m176 36h0m1-89h0m-168 13h0m-14-30h0m-10 75h0m-44-64h0m85 49h0m269 6h0m-234-17h0m-28-8h0m211-2h0m-116-25h0m124 121h0m-8-65h0m-6 42h0m47-25h0m-314-34h0m-49-4h0m28 102h0m-53-103h0m82-10h0m8 35h0m-62-49h0m201 69h0m-168-80h0m104 24h0m185 49h0m-137-33h0m-170 9h0m209-33h0m-189 39h0m283 28h0m-30 22h0m-252-33h0m279-8h0m-85 4h0m-196-22h0m153 36h0m44-33h0m72 26h0m62-46h0m-247-65h0m0 101h0m166 6h0m-12 48h0m103-40h0m-54-32h0m-302 0h0m-18 34h0m-18-6h0m68 17h0m74-10h0m194-38h0m-265 68h0m-29-82h0m253-1h0m-54 90h0m146-28h0m-260-54h0m-3-10h0m247-3h0m-58 39h0m77-14h0m-348 33h0m314-79h0m-33 127h0m-23-121h0m-300 78h0m80 4h0m-70-50h0m215-3h0m111 64h0m14 25h0m-37-27h0m-317-69h0m218 2h0m-187 47h0m120-96h0m-66 84h0m259-64h0m-150 75h0m-49-17h0m13 24h0m177-20h0m-299 8h0m129-54h0m61 45h0m172-25h0m-299 30h0m-54-6h0m212-6h0m95-14h0m-138 1h0m42 15h0m-94-22h0m81 30h0m-250-16h0m346-12h0m40 68h0m-254-54h0m50-13h0m209 7h0m-302 18h0m109-16h0m-187 56h0m42-78h0m242-46h0m21 83h0m44-19h0m-238 33h0m51-10h0m-87 7h0m50-4h0m59-143h0m-164 149h0m88-65h0m54 28h0m19 15h0m-134-46h0m-55 52h0m28 19h0m164-82h0m140 4h0m54 63h0m-96-51h0m24 71h0m58-2h0m-23-20h0m-317 40h0m375-61h0m-52-28h0m37 34h0m-227-2h0m84 23h0m103 25h0m-78-72h0m5 57h0m-51-74h0m-41 24h0m-84 28h0m250 43h0m-311-84h0m224 48h0m115-12h0m-67 55h0m71-22h0m-162-66h0m14 19h0m-35 44h0m159-57h0m-77-15h0m-289 11h0m267 41h0m36-15h0m-228-2h0m-33-50h0m255-3h0m-19 43h0m-220 27h0m216-27h0m64 18h0m-211-90h0m280 63h0m-108 50h0m-182-16h0m244 12h0m-30 8h0m-182-44h0m-57 32h0m-82 13h0m63-6h0m130-30h0m170 15h0m-247-71h0m-93 32h0m328 111h0m-59-76h0m-172-20h0m-46 81h0m-64-87h0m0 51h0m63-46h0m244-3h0m-94 56h0m81-27h0m-8 4h0m-158-59h0m136-8h0m-93-38h0m-135 140h0m70-52h0m22 18h0m-36 63h0m36-16h0m-118-34h0m255-57h0m-4 7h0m-170 70h0m305 15h0m-10-83h0m-253 28h0m203-28h0m-77-6h0m-279 58h0m340-87h0m-145-16h0m-49 81h0m245-9h0m-50-8h0m-44-11h0m-247 28h0m173-36h0m107 35h0m-181-1h0m-115-24h0m167-23h0m187-25h0m-308 14h0m209 62h0m-64 34h0m2-68h0m115 24h0m-71-3h0m-190-10h0m307-3h0m-21 1h0m24-7h0m-254-19h0m-108-43h0m226 176h0m-119-139h0m-68 58h0m341-61h0m-230 115h0m-26-115h0m-132 44h0m298 46h0m-293-58h0m-4 16h0m168-7h0m165-22h0m-138 37h0m38-21h0m-231 87h0m20-111h0m293 17h0m-251-1h0m23-12h0m133 60h0m-179-73h0m306 7h0m-246-17h0m105 110h0m25-55h0m-65-45h0m152 67h0m-262 11h0m150-41h0m-42 18h0m-57-53h0m-104-29h0m372 35h0m-323-5h0m308-32h0m-345 63h0m-26-62h0m94 63h0m228 15h0m-74-45h0m-96 5h0m-38 77h0m-89-39h0m71 12h0m-44-48h0m160-35h0m-179 84h0m7-51h0m27 32h0m162 51h0m-209-109h0m316 111h0m-241 8h0m24-107h0m-131 32h0m47 34h0m115-56h0m86 48h0m-198-29h0m264 20h0m21 70h0m-191 2h0m-16-119h0m-99 26h0m66 66h0m97-46h0m-72-20h0m17 49h0m-126-12h0m334-26h0m-272 79h0m243-83h0m-310 35h0m268-22h0m-78 45h0m-152-54h0m106 0h0m176-45h0m-60 77h0m-172-88h0m223 38h0m29 36h0m-288-67h0m41 112h0m58-15h0m61-53h0m190-36h0m-219 59h0m-43 10h0m89 4h0m32-55h0m-74 42h0m-169-48h0m375 34h0m-312 26h0m-42-76h0m237 53h0m-267-14h0m131 39h0m241-59h0m-80 94h0m-9-103h0m54 78h0m22-61h0m-89 61h0m-116 12h0m86-44h0m112 15h0m19-50h0m-40 44h0m50 9h0m-333-53h0m119 36h0m236 29h0m-47 6h0m-143-49h0m156 70h0m-275-7h0m-18-131h0m138 91h0m150-21h0m-28 19h0m-95 22h0m52-2h0m10-42h0m-134-65h0m-185 140h0m169-114h0m-139 74h0m307-31h0m-89-3h0m-212 19h0m106 4h0m87-48h0m65-40h0m-23 77h0m-187-3h0m150 38h0m-220-10h0m160-59h0m-140-48h0m247 77h0m-68-25h0m64 37h0m97-11h0m-305-39h0m212 75h0m-35-36h0m-145 33h0m279-79h0m-309 113h0m169-49h0m-187-1h0m111 23h0m-99-40h0m-37-21h0m277 22h0m44-17h0m-187 8h0m18 21h0m-88-41h0m223-17h0m37 11h0m-199 30h0m10-7h0m-153 16h0m315 35h0m-224-3h0m246-44h0m-296-1h0m329 42h0m-85-61h0m-40 49h0m105-5h0m-187-21h0m-85-67h0m96 127h0m-107-40h0m318-1h0m-259 83h0m158-125h0m13 14h0m-298 0h0m89 38h0m292 0h0m-130-24h0m-128 33h0m-106-46h0m138-18h0m-98 41h0m315 20h0m-202-47h0m30-14h0m102 36h0m49-10h0m-198-53h0m171 89h0m-21-17h0m-281 36h0m193-68h0m18-18h0m-155 21h0m-42 9h0m274-11h0m3 37h0m-8 3h0m-143-57h0m-115-8h0m65 19h0m36 44h0m-52-27h0m-72 65h0m65-38h0m57 1h0m-11-30h0m78-28h0m118 4h0m-275 39h0m55-2h0m66 33h0m-13 30h0m75-81h0m-11-2h0m-85-20h0m16-12h0m-69 57h0m215 56h0m-283-137h0m65 128h0m178-61h0m-224-52h0m267 115h0m-74-19h0m56-47h0m-153 68h0m69 72h0m-138-89h0m180-50h0m46 27h0m-272-66h0m94 93h0m154 1h0m-29-27h0m-48-29h0m62-58h0m-133 126h0m228-91h0m-44 30h0m84-20h0m-241 35h0m-100-12h0m-47 15h0m49 11h0m100-18h0m9 0h0m35-30h0m145 13h0m-272-37h0m244 47h0m-117 13h0m7-65h0m118 95h0m-250-77h0m-66 108h0m156-109h0m218 61h0m-93-34h0m-83 21h0m101-13h0m-80-15h0m-183 22h0m8-31h0m46-22h0m73 44h0m-49-42h0m101 28h0m-158-37h0m319 16h0m-95 92h0m-117-46h0m108 61h0m-201-87h0m273 3h0m-33-11h0m61-35h0m-219 13h0m-15 74h0m92-37h0m117-80h0m23 101h0m5-31h0m-248 20h0m54-29h0m-30 17h0m200-24h0m-345 54h0m173 19h0m23-41h0m186 37h0m-95-97h0m94 136h0m-290-92h0m298 40h0m-210 41h0m199-59h0m-176 25h0m-166-101h0m232 103h0m-161-77h0m271 37h0m-389 45h0m40-38h0m3 9h0m28 81h0m173-181h0m-158 93h0m194-51h0m66-14h0m-129 107h0m-80-75h0m-70 110h0m281-78h0m-1-1h0m-293 28h0m285 17h0m-161-1h0m-59-94h0m196 58h0m-54-50h0m-33 77h0m87-11h0m-297-26h0m54 43h0m256-55h0m-10 38h0m-30 31h0m-284-20h0m33-90h0m52 38h0m294 58h0m-286-92h0m18 35h0m166-31h0m83 62h0m-373-31h0m242 18h0m-127-16h0m230 44h0m41-70h0m-267 26h0m269 24h0m-132-5h0m39-30h0m119 80h0m-213-56h0m188-12h0m-273 32h0m124 32h0m37-45h0m141-1h0m-283 13h0m-58-15h0m43 2h0m-45-57h0m198 73h0m-20 2h0m44 9h0m43 8h0m52-6h0m-24-55h0m8 104h0m-51-80h0m-224-77h0m33 50h0m-80 51h0m102 4h0m140-119h0m-90 115h0m-116 32h0m324-35h0m-217-99h0m-189 91h0m208 13h0m2-7h0m62-37h0m-94-92h0m-24 101h0m57-47h0m-78 97h0m17-1h0m-34-33h0m224-3h0m11-61h0m-63 29h0m-290 13h0m6-32h0m62-1h0m145 25h0m82 93h0m-248-99h0m289 80h0m-237-87h0m222-16h0m-248 74h0m81 33h0m187-24h0m-86-75h0m-153 69h0m-56-75h0m307 76h0m-350-50h0m271 76h0m-150-37h0m-130 20h0m112 0h0m270-28h0m-308 14h0m284-56h0m-73-38h0m-99 108h0m133-16h0m-89-8h0m66-11h0m-230 13h0m-40-9h0m119 41h0m-106 29h0m301-102h0m-297 23h0m332 13h0m-149-7h0m27-23h0m-135 22h0m92 9h0m-7-26h0m137 19h0m-289-28h0m193 50h0m-110-46h0m262 53h0m-68-67h0m-17-62h0m48 120h0m-198 35h0m50-32h0m-161-68h0m23 21h0m54 33h0m123-28h0m105 58h0m-150-15h0m-63-53h0m-61 0h0m110 4h0m139 54h0m-239 26h0m282-78h0m-309 54h0m73-41h0m-8 27h0m-58-36h0m216-7h0m-35-52h0m-39 137h0m-15-97h0m-51-10h0m256 26h0m-183 6h0m87 32h0m-35 18h0m8-91h0m35 31h0m93 21h0m-96 72h0m-135-73h0m103 48h0m17-94h0m-108 89h0m41-61h0m-15 61h0m113-10h0m-156-3h0m75 6h0m-148-12h0m-30 9h0m130 13h0m138-22h0m-40-21h0m-190-37h0m-28 41h0m-28-36h0m304 40h0m-131 24h0m46 28h0m78-4h0m30-37h0m-278-66h0m100 54h0m116 13h0m-13-49h0m-141 15h0m63 22h0m-162-32h0m329 70h0m-373-24h0m281-50h0m-129 46h0m-157-91h0m406 66h0m-57-11h0m-260 1h0m292 30h0m-249 38h0m-52-89h0m182 99h0m-254-54h0m147 71h0m50-109h0m-71 42h0m170 54h0m-64-81h0m144-26h0m-98 67h0m-246-39h0m-19 32h0m162-9h0m68 6h0m-34-28h0m102 7h0m-231 9h0m-55 2h0m102 10h0m86-6h0m82-6h0m-172 1h0m200 38h0m15-56h0m25 54h0m-100-32h0m-107 5h0m139-42h0m-267 71h0m370-113h0m-341 102h0m130 3h0m203-68h0m-303 28h0m-20 39h0m-81-66h0m366 48h0m-253-32h0m207-21h0m-282 69h0m219-20h0m-19-8h0m105 3h0m-300 11h0m178 3h0m-214-19h0m294 19h0m-13 48h0m-185-41h0m262-26h0m-108-22h0m81 45h0m-265 8h0m19-36h0m-30 58h0m195-17h0m24-38h0m-84-57h0m-204 78h0m233-30h0m-112 3h0m283 91h0m4-56h0m-367-17h0m-6-44h0m191 37h0m-219-26h0m300 54h0m-90-6h0m38-18h0m-154-10h0m260 53h0m-63-81h0m90-29h0m-357 39h0m79 36h0m280 16h0m25-22h0m-51-58h0m-361-33h0m397 122h0m-176-33h0m-181-7h0m194-77h0m92 82h0m-253 20h0m263-40h0m-322-53h0m0 121h0m340-43h0m-285-26h0m230 74h0m69-59h0m-100-1h0m57-13h0m-48-55h0m-270 44h0m201-5h0m-113 39h0m49-32h0m211-9h0m-185 26h0m158 8h0m-318 4h0m263 51h0m-258-40h0m363-62h0m-47 93h0m-209-43h0m-14 12h0m28-34h0m84-15h0m37 28h0m-212-4h0m24-13h0m289 11h0m-269-16h0m193 60h0m-47-15h0m146 0h0m-93-21h0m-175-22h0m74 43h0m-110-119h0m43 155h0m50-38h0m-162-109h0m320 112h0m-18-73h0m-272 27h0m358 64h0m-175-70h0m138 80h0m-155-2h0m-69-61h0m219-9h0m-340 22h0m294 30h0m41-22h0m-173 16h0m76 26h0m-116-39h0m24 18h0m230 4h0m21 1h0m-282-56h0m236 70h0m-230-71h0m-95 24h0m293 37h0m-329-79h0m271 2h0m78-25h0m-335 77h0m258 73h0m-269-133h0m293-7h0m-22 41h0m-89-55h0m-132 78h0m201 43h0m134-68h0m-91 83h0m-211-43h0m286-89h0m-298 82h0m-16 40h0m59-10h0m71 35h0m91-56h0m41-20h0m24-57h0m-240 7h0m-44 35h0m295-5h0m-125 5h0m9 1h0m41 87h0m128-79h0m-333 64h0m54-59h0m124-6h0m-152-44h0m73 113h0m76-10h0m-52-15h0m-108-72h0m6 17h0m80 40h0m-94-39h0m243 30h0m-280 7h0m-19-80h0m242 75h0m-51 0h0m194 28h0m-400-56h0m97-10h0m-24 26h0m138 65h0m121-153h0m10 122h0m-233-82h0m-91 58h0m252-26h0m-160 16h0m81-5h0m-98 26h0m257-10h0m-41-31h0m-28-56h0m-219 90h0m126-44h0m-10 51h0m-58-71h0m259 74h0m-88-20h0m-76 5h0m88-60h0m-36 40h0m-210 23h0m-28-52h0m189-4h0m-92-28h0m59 65h0m108-18h0m41-43h0m40 20h0m-366 34h0m336-22h0m-176 16h0m121 11h0m-2-27h0m58 46h0m-332-11h0m387-54h0m-406 16h0m20 79h0m113-37h0m95 16h0m-218 8h0m191-11h0m-87-42h0m131-28h0m86-4h0m21 33h0m-58-17h0m-264 29h0m26-56h0m47 119h0m74-82h0m230 7h0m-229 33h0m-52 17h0m272-17h0m-257-22h0m-93 34h0m271-9h0m-146-35h0m154 47h0m-57 3h0m-88-14h0m43-99h0m-2 11h0m-127 60h0m5 12h0m-13-7h0m-34 5h0m24 30h0m314 42h0m-360-90h0m278 53h0m-155-113h0m179 63h0m-336 23h0m250-15h0m-34-33h0m164 49h0m-109-60h0m-277 48h0m235-5h0m77-7h0m-122 8h0m43 24h0m-141 29h0m175-4h0m93-32h0m-364 18h0m120-16h0m-45 21h0m179-97h0m104 101h0m-271-98h0m43 83h0m-105-50h0m373 49h0m-239 1h0m-107-26h0m42 69h0m291-96h0m1 12h0m-304-7h0m146 64h0m-129-72h0m38 60h0m271-26h0m-229-23h0m233-24h0m-206 27h0m-144-21h0m169 59h0m10 23h0m-220-65h0m139 39h0m137-2h0m106-7h0m-120 46h0m-172-54h0m12-25h0m-80 27h0m336-36h0m31 33h0m-210-40h0m-11 72h0m-20 3h0m-26-178h0m133 172h0m115 6h0m-356 3h0m43-43h0m-75-13h0m93-26h0m75 28h0m133 82h0m3-104h0m-291-32h0m344 94h0m58-52h0m-335 26h0m219-35h0m-243 81h0m69-83h0m4 54h0m-109-17h0m314-28h0m-132-37h0m-19 79h0m229-64h0m-359 18h0m32 7h0m83 105h0m96-104h0m-177 58h0m78-67h0m-117 43h0m-5-24h0m165 42h0m-77-49h0m80 31h0m30-63h0m105 80h0m-51-60h0m-115 30h0m89 3h0m129 33h0m-103-34h0m91 85h0m-278-78h0m53-33h0m127 45h0m-246 1h0m337-30h0m-1-49h0m-271 29h0m-65 26h0m240-10h0m-264-69h0m103 104h0m113-34h0m-65 55h0m235-16h0m-305-51h0m-70-15h0m28 27h0m109 28h0m-13-16h0m105 6h0m-187-6h0m311-2h0m-290 28h0m1-14h0m56-12h0m190 44h0m-133-86h0m23 47h0m58-6h0m-80-19h0m89-18h0m-181 2h0m-99 53h0m71-22h0m55-20h0m-107 7h0m94-11h0m-115-10h0m266 34h0m87 2h0m-88-34h0m-74 66h0m127-16h0m-96 30h0m143-68h0m-212-40h0m-77 131h0m179-31h0m-26-55h0m148 66h0m-10-12h0m-116-42h0m-112 3h0m-97 9h0m39-7h0m3 17h0m285 7h0m-109-37h0m-278 36h0m404 46h0m-382-17h0m264-19h0m-219-84h0m151 103h0m-151-85h0m73 42h0m267-31h0m-351-9h0m152 64h0m136-47h0m-192 20h0m82-9h0m117-26h0m-199 81h0m72 9h0m82-114h0m-269 164h0m87-170h0m10 30h0m109 126h0m-35-117h0m-9-9h0m22 26h0m25 43h0m-168-13h0m-29-82h0m113 105h0m215-41h0m11-3h0m-204-7h0m-102-2h0m160-1h0m-139 15h0m-36 3h0m-44-8h0m107 31h0m62 27h0m225-21h0m-215-30h0m-194-6h0m106 25h0m4-41h0m-33 48h0m-55-63h0m160 8h0m-37 68h0m-15 15h0m278-25h0m-227-68h0m-152-7h0m256 16h0m-267 81h0m343-87h0m-138-52h0m-31 103h0m-86 50h0m212-56h0m13 5h0m-21-13h0m-60 18h0m-224 41h0m317-96h0m-75 45h0m53-26h0m-67 29h0m-139 8h0m-38-6h0m-28 45h0m344-69h0m-184-19h0m-114 37h0m210-21h0m-219-9h0m108 17h0m-44-38h0m-110 39h0m285 57h0m43-54h0m-283-15h0m103-6h0m-111 23h0m-61 3h0m75-45h0m133 117h0m125-125h0m-18 15h0m-225 13h0m-33 48h0m1 5h0m132-33h0m-205 44h0m191-55h0m55 25h0m58 35h0m-130 7h0m206-121h0m-212 20h0m115 45h0m45-33h0m-243 28h0m250-29h0m-29 133h0m-108-115h0m-186 112h0m270-225h0m-12 241h0m-226-28h0m-82 7h0m360 6h0m-321-106h0m-114 19h0m183 78h0m-7-232h0m100 78h0m168 109h0m-48-189h0m-137 115h0m178-10h0" stroke="#1414ff" stroke-width="8.4" stroke-linecap="square" fill="none"/><rect x="199.40" y="154.60" width="66.50" height="65.60" stroke="#111" stroke-width="1.0" fill="none"/><path d="M199.10 157.60h-1.6 M199.10 160.44h-0.9 M199.10 163.28h-0.9 M199.10 166.11h-0.9 M199.10 168.95h-1.6 M199.10 171.79h-0.9 M199.10 174.63h-0.9 M199.10 177.47h-0.9 M199.10 180.30h-1.6 M199.10 183.14h-0.9 M199.10 185.98h-0.9 M199.10 188.82h-0.9 M199.10 191.66h-1.6 M199.10 194.50h-0.9 M199.10 197.33h-0.9 M199.10 200.17h-0.9 M199.10 203.01h-1.6 M199.10 205.85h-0.9 M199.10 208.69h-0.9 M199.10 211.52h-0.9 M199.10 214.36h-1.6 M199.10 217.20h-0.9" stroke="#555" stroke-width="0.5"/><path d="M202.40 220.50v1.6 M205.28 220.50v0.9 M208.16 220.50v0.9 M211.04 220.50v0.9 M213.92 220.50v1.6 M216.80 220.50v0.9 M219.69 220.50v0.9 M222.57 220.50v0.9 M225.45 220.50v1.6 M228.33 220.50v0.9 M231.21 220.50v0.9 M234.09 220.50v0.9 M236.97 220.50v1.6 M239.85 220.50v0.9 M242.73 220.50v0.9 M245.61 220.50v0.9 M248.50 220.50v1.6 M251.38 220.50v0.9 M254.26 220.50v0.9 M257.14 220.50v0.9 M260.02 220.50v1.6 M262.90 220.50v0.9" stroke="#555" stroke-width="0.5"/><rect x="294.80" y="155.00" width="65.60" height="65.60" stroke="#111" stroke-width="1.0" fill="none"/><path d="M294.50 158.00h-1.6 M294.50 160.84h-0.9 M294.50 163.68h-0.9 M294.50 166.51h-0.9 M294.50 169.35h-1.6 M294.50 172.19h-0.9 M294.50 175.03h-0.9 M294.50 177.87h-0.9 M294.50 180.70h-1.6 M294.50 183.54h-0.9 M294.50 186.38h-0.9 M294.50 189.22h-0.9 M294.50 192.06h-1.6 M294.50 194.90h-0.9 M294.50 197.73h-0.9 M294.50 200.57h-0.9 M294.50 203.41h-1.6 M294.50 206.25h-0.9 M294.50 209.09h-0.9 M294.50 211.92h-0.9 M294.50 214.76h-1.6 M294.50 217.60h-0.9" stroke="#555" stroke-width="0.5"/><path d="M297.80 220.90v1.6 M300.64 220.90v0.9 M303.48 220.90v0.9 M306.31 220.90v0.9 M309.15 220.90v1.6 M311.99 220.90v0.9 M314.83 220.90v0.9 M317.67 220.90v0.9 M320.50 220.90v1.6 M323.34 220.90v0.9 M326.18 220.90v0.9 M329.02 220.90v0.9 M331.86 220.90v1.6 M334.70 220.90v0.9 M337.53 220.90v0.9 M340.37 220.90v0.9 M343.21 220.90v1.6 M346.05 220.90v0.9 M348.89 220.90v0.9 M351.72 220.90v0.9 M354.56 220.90v1.6 M357.40 220.90v0.9" stroke="#555" stroke-width="0.5"/><rect x="219.90" y="191.20" width="42.70" height="26.40" stroke="#777" stroke-width="0.8" fill="none"/><rect x="314.30" y="191.40" width="43.30" height="26.50" stroke="#777" stroke-width="0.8" fill="none"/><text x="240.90" y="166.60" font-size="6.6" text-anchor="start" fill="#222" textLength="17.5" lengthAdjust="spacingAndGlyphs" stroke="#222" stroke-width="0.1">71.3%</text><text x="336.50" y="167.40" font-size="6.6" text-anchor="start" fill="#222" textLength="17.5" lengthAdjust="spacingAndGlyphs" stroke="#222" stroke-width="0.1">64.5%</text><text x="193.10" y="164.05" font-size="6.7" text-anchor="middle" fill="#111" stroke="#111" stroke-width="0.22">10<tspan font-size="4.02" dy="-1.88" stroke-width="0.1">5</tspan></text><text x="193.10" y="180.15" font-size="6.7" text-anchor="middle" fill="#111" stroke="#111" stroke-width="0.22">10<tspan font-size="4.02" dy="-1.88" stroke-width="0.1">4</tspan></text><text x="193.10" y="197.05" font-size="6.7" text-anchor="middle" fill="#111" stroke="#111" stroke-width="0.22">10<tspan font-size="4.02" dy="-1.88" stroke-width="0.1">3</tspan></text><text x="193.10" y="212.65" font-size="6.7" text-anchor="middle" fill="#111" stroke="#111" stroke-width="0.22">0</text><text x="210.20" y="229.60" font-size="6.7" text-anchor="middle" fill="#111" stroke="#111" stroke-width="0.22">0</text><text x="224.70" y="229.60" font-size="6.7" text-anchor="middle" fill="#111" stroke="#111" stroke-width="0.22">10<tspan font-size="4.02" dy="-1.88" stroke-width="0.1">3</tspan></text><text x="243.20" y="229.60" font-size="6.7" text-anchor="middle" fill="#111" stroke="#111" stroke-width="0.22">10<tspan font-size="4.02" dy="-1.88" stroke-width="0.1">4</tspan></text><text x="261.20" y="229.60" font-size="6.7" text-anchor="middle" fill="#111" stroke="#111" stroke-width="0.22">10<tspan font-size="4.02" dy="-1.88" stroke-width="0.1">5</tspan></text><text x="288.50" y="164.65" font-size="6.7" text-anchor="middle" fill="#111" stroke="#111" stroke-width="0.22">10<tspan font-size="4.02" dy="-1.88" stroke-width="0.1">5</tspan></text><text x="288.50" y="179.75" font-size="6.7" text-anchor="middle" fill="#111" stroke="#111" stroke-width="0.22">10<tspan font-size="4.02" dy="-1.88" stroke-width="0.1">4</tspan></text><text x="288.50" y="196.65" font-size="6.7" text-anchor="middle" fill="#111" stroke="#111" stroke-width="0.22">10<tspan font-size="4.02" dy="-1.88" stroke-width="0.1">3</tspan></text><text x="288.50" y="212.75" font-size="6.7" text-anchor="middle" fill="#111" stroke="#111" stroke-width="0.22">0</text><text x="305.60" y="229.60" font-size="6.7" text-anchor="middle" fill="#111" stroke="#111" stroke-width="0.22">0</text><text x="320.40" y="229.60" font-size="6.7" text-anchor="middle" fill="#111" stroke="#111" stroke-width="0.22">10<tspan font-size="4.02" dy="-1.88" stroke-width="0.1">3</tspan></text><text x="338.70" y="229.60" font-size="6.7" text-anchor="middle" fill="#111" stroke="#111" stroke-width="0.22">10<tspan font-size="4.02" dy="-1.88" stroke-width="0.1">4</tspan></text><text x="356.00" y="229.60" font-size="6.7" text-anchor="middle" fill="#111" stroke="#111" stroke-width="0.22">10<tspan font-size="4.02" dy="-1.88" stroke-width="0.1">5</tspan></text><text x="185.60" y="187.90" font-size="10.2" text-anchor="middle" fill="#3a3a3a" textLength="18.3" lengthAdjust="spacingAndGlyphs" transform="rotate(-90 185.60 187.90)" >CD27</text><text x="280.20" y="185.90" font-size="10.2" text-anchor="middle" fill="#3a3a3a" textLength="18.4" lengthAdjust="spacingAndGlyphs" transform="rotate(-90 280.20 185.90)" >CD27</text><text x="222.80" y="242.00" font-size="10.2" text-anchor="start" fill="#3a3a3a" textLength="18.6" lengthAdjust="spacingAndGlyphs" >CD57</text><text x="322.10" y="242.20" font-size="10.2" text-anchor="start" fill="#3a3a3a" textLength="18.5" lengthAdjust="spacingAndGlyphs" >CD57</text><line x1="409.50" y1="35.20" x2="409.50" y2="174.90" stroke="#000" stroke-width="1.3" /><line x1="408.90" y1="174.30" x2="513.50" y2="174.30" stroke="#000" stroke-width="1.3" /><line x1="404.80" y1="174.30" x2="409.50" y2="174.30" stroke="#000" stroke-width="1.2" /><text x="402.40" y="177.60" font-size="9.4" text-anchor="end" fill="#111" >0</text><line x1="404.80" y1="146.48" x2="409.50" y2="146.48" stroke="#000" stroke-width="1.2" /><text x="402.40" y="149.78" font-size="9.4" text-anchor="end" fill="#111" >20</text><line x1="404.80" y1="118.66" x2="409.50" y2="118.66" stroke="#000" stroke-width="1.2" /><text x="402.40" y="121.96" font-size="9.4" text-anchor="end" fill="#111" >40</text><line x1="404.80" y1="90.84" x2="409.50" y2="90.84" stroke="#000" stroke-width="1.2" /><text x="402.40" y="94.14" font-size="9.4" text-anchor="end" fill="#111" >60</text><line x1="404.80" y1="63.02" x2="409.50" y2="63.02" stroke="#000" stroke-width="1.2" /><text x="402.40" y="66.32" font-size="9.4" text-anchor="end" fill="#111" >80</text><line x1="404.80" y1="35.20" x2="409.50" y2="35.20" stroke="#000" stroke-width="1.2" /><text x="402.40" y="38.50" font-size="9.4" text-anchor="end" fill="#111" >100</text><line x1="429.90" y1="174.30" x2="429.90" y2="179.80" stroke="#000" stroke-width="1.2" /><line x1="460.70" y1="174.30" x2="460.70" y2="179.80" stroke="#000" stroke-width="1.2" /><line x1="491.50" y1="174.30" x2="491.50" y2="179.80" stroke="#000" stroke-width="1.2" /><line x1="430.10" y1="101.60" x2="430.10" y2="129.30" stroke="#444" stroke-width="1.0" /><line x1="430.10" y1="163.00" x2="430.10" y2="172.20" stroke="#444" stroke-width="1.0" /><line x1="425.10" y1="101.60" x2="435.10" y2="101.60" stroke="#444" stroke-width="1.0" /><line x1="425.10" y1="172.20" x2="435.10" y2="172.20" stroke="#444" stroke-width="1.0" /><rect x="419.70" y="129.30" width="20.80" height="33.70" fill="#c8102e"/><line x1="419.70" y1="142.20" x2="440.50" y2="142.20" stroke="#111" stroke-width="1.2" /><line x1="460.80" y1="49.40" x2="460.80" y2="58.10" stroke="#444" stroke-width="1.0" /><line x1="460.80" y1="74.30" x2="460.80" y2="76.50" stroke="#444" stroke-width="1.0" /><line x1="455.80" y1="49.40" x2="465.80" y2="49.40" stroke="#444" stroke-width="1.0" /><line x1="455.80" y1="76.50" x2="465.80" y2="76.50" stroke="#444" stroke-width="1.0" /><rect x="450.70" y="58.10" width="20.20" height="16.20" fill="#14508c"/><line x1="450.70" y1="63.30" x2="470.90" y2="63.30" stroke="#111" stroke-width="1.2" /><line x1="491.50" y1="41.50" x2="491.50" y2="66.00" stroke="#444" stroke-width="1.0" /><line x1="491.50" y1="90.00" x2="491.50" y2="104.80" stroke="#444" stroke-width="1.0" /><line x1="486.50" y1="41.50" x2="496.50" y2="41.50" stroke="#444" stroke-width="1.0" /><line x1="486.50" y1="104.80" x2="496.50" y2="104.80" stroke="#444" stroke-width="1.0" /><rect x="481.40" y="66.00" width="20.20" height="24.00" fill="#3cb549"/><line x1="481.40" y1="79.90" x2="501.60" y2="79.90" stroke="#111" stroke-width="1.2" /><path d="M428.6 43.2 V40.0 H461.4 V43.2" fill="none" stroke="#2a2a2a" stroke-width="1.15"/><path d="M428.6 33.1 V30.3 H492.2 V33.1" fill="none" stroke="#2a2a2a" stroke-width="1.15"/><path d="M437.60,34.95 438.19,36.59 439.93,36.64 438.55,37.71 439.04,39.38 437.60,38.40 436.16,39.38 436.65,37.71 435.27,36.64 437.01,36.59ZM443.20,34.95 443.79,36.59 445.53,36.64 444.15,37.71 444.64,39.38 443.20,38.40 441.76,39.38 442.25,37.71 440.87,36.64 442.61,36.59ZM448.80,34.95 449.39,36.59 451.13,36.64 449.75,37.71 450.24,39.38 448.80,38.40 447.36,39.38 447.85,37.71 446.47,36.64 448.21,36.59ZM454.40,34.95 454.99,36.59 456.73,36.64 455.35,37.71 455.84,39.38 454.40,38.40 452.96,39.38 453.45,37.71 452.07,36.64 453.81,36.59ZM454.40,24.65 454.99,26.29 456.73,26.34 455.35,27.41 455.84,29.08 454.40,28.10 452.96,29.08 453.45,27.41 452.07,26.34 453.81,26.29ZM460.00,24.65 460.59,26.29 462.33,26.34 460.95,27.41 461.44,29.08 460.00,28.10 458.56,29.08 459.05,27.41 457.67,26.34 459.41,26.29ZM465.60,24.65 466.19,26.29 467.93,26.34 466.55,27.41 467.04,29.08 465.60,28.10 464.16,29.08 464.65,27.41 463.27,26.34 465.01,26.29ZM471.20,24.65 471.79,26.29 473.53,26.34 472.15,27.41 472.64,29.08 471.20,28.10 469.76,29.08 470.25,27.41 468.87,26.34 470.61,26.29Z" fill="#1a1a1a"/><text x="383.90" y="105.80" font-size="9.8" text-anchor="middle" fill="#333" textLength="66" lengthAdjust="spacingAndGlyphs" transform="rotate(-90 383.90 105.80)" >CD4%CD57+/CD27-</text><text x="431.50" y="186.50" font-size="9.8" text-anchor="end" fill="#222" textLength="30.5" lengthAdjust="spacingAndGlyphs" transform="rotate(-45 431.50 186.50)" >All CD4s</text><text x="462.50" y="189.30" font-size="9.8" text-anchor="end" fill="#222" textLength="36.5" lengthAdjust="spacingAndGlyphs" transform="rotate(-45 462.50 189.30)" >IFN<tspan font-size="5.5" dy="-3">+</tspan><tspan dy="3">/TNF</tspan><tspan font-size="5.5" dy="-3">+</tspan></text><text x="492.60" y="188.40" font-size="9.8" text-anchor="end" fill="#222" textLength="59" lengthAdjust="spacingAndGlyphs" transform="rotate(-45 492.60 188.40)" >CD107a<tspan font-size="5.5" dy="-3">+</tspan><tspan dy="3">/GranB</tspan><tspan font-size="5.5" dy="-3">+</tspan></text><text x="61.40" y="274.80" font-size="10.3" text-anchor="start" fill="#111" textLength="55" lengthAdjust="spacingAndGlyphs" >DYS peptide</text><text x="60.60" y="286.30" font-size="8.6" text-anchor="start" fill="#111" textLength="55.2" lengthAdjust="spacingAndGlyphs" >(CMV-specific)</text><path transform="scale(0.1)" d="M591 3752h0m14-94h0m38 39h0m-104-45h0m69 28h0m-69-30h0m111 38h0m-43-15h0m-88 16h0m1-49h0m48 76h0m2-79h0m8 44h0m20 16h0m-4-58h0m8 58h0m-55-7h0m68-77h0m8 77h0m-104 13h0m58-4h0m12-4h0m37 3h0m-31-5h0m-28-1h0m53-45h0m5 22h0m-130-67h0m88 78h0m42 40h0m32-64h0m-26 87h0m-20-73h0m-54 66h0m-27-60h0m55-6h0m9 13h0m-16 1h0m-39 47h0m24 23h0m-25 0h0m53-60h0m-24 13h0m-3-4h0m-18-7h0m54 0h0m-22-4h0m-18-5h0m52-63h0m-5 79h0m-14-25h0m-69-8h0m134 53h0m-86-10h0m46 17h0m1-96h0m-43 79h0m-91-15h0m102-42h0m-99-3h0m112-12h0m-111 105h0m109-14h0m17-84h0m-39 28h0m38-23h0m0 29h0m-34 19h0m-75-24h0m96 21h0m-12-4h0m-15-30h0m27-51h0m5 65h0m22 16h0m-38-7h0m-10-25h0m-9 30h0m55-41h0m-19 79h0m-16-139h0m-11 153h0m2-124h0m-25 30h0m15 56h0m34 32h0m-59-102h0m91 48h0m-10 27h0m-49-63h0m38 75h0m-34-74h0m38 53h0m-40-42h0m-29 25h0m50 3h0m-1-53h0m-21 90h0m-52-35h0m121-29h0m-21-97h0m-36 126h0m72-106h0m-130 88h0m-2-14h0m62 27h0m-44 50h0m27-86h0m49 100h0m-13-94h0m-30 10h0m-12 21h0m30 15h0m-27-92h0m-2 84h0m54-4h0m-18 24h0m-20-139h0m-7 29h0m4 107h0m38-2h0m-34-80h0m37 40h0m-2 20h0m-30 47h0m-1-50h0m-73-34h0m90 88h0m-60-76h0m-7 10h0m14-47h0m57 63h0m2 33h0m1-15h0m-69 8h0m46-25h0m-37 7h0m29-46h0m12 13h0m-47-2h0m37-12h0m18 25h0m-30 14h0m61-13h0m-67-48h0m31 47h0m35-3h0m-19-20h0m18 64h0m-65-35h0m36-31h0m-3 32h0m70-27h0m-139 0h0m49 17h0m65 3h0m-62-19h0m6-61h0m70 33h0m-90 96h0m64-64h0m-61 26h0m45 1h0m9-27h0m-14 17h0m17-4h0m53-46h0m-148 62h0m31 4h0m48-1h0m-74-57h0m39-62h0m-59 150h0m25-28h0m-4 17h0m45-73h0m12 57h0m16-6h0m-71-12h0m-7-69h0m22 51h0m16 26h0m-9-25h0m-16 68h0m17-58h0m-35-32h0m66 36h0m-7 33h0m9 2h0m1 12h0m37-18h0m-64-42h0m16-6h0m41 54h0m8 21h0m-24-24h0m-104-41h0m76 62h0m32-45h0m-56-5h0m397-32h0m-116-35h0m75 26h0m-66 37h0m-29 52h0m-15-39h0m86 48h0m-5-117h0m-36-7h0m-16 38h0m-87 7h0m86 39h0m-20-48h0m27 87h0m85-80h0m23 30h0m-49-21h0m26 21h0m-71-3h0m-67-24h0m-8 25h0m-17 0h0m192-28h0m-163 12h0m95 4h0m6-12h0m-56 26h0m-81-7h0m26-2h0m37-38h0m-59 115h0m113-41h0m-60-27h0m102-47h0m-5 32h0m-25 53h0m8-78h0m-56 45h0m-30-6h0m24 61h0m-111-51h0m235 23h0m-130-59h0m65 30h0m-103 25h0m64-21h0m104-20h0m-134 6h0m82 14h0m-42-99h0m61 80h0m-95 18h0m-13 44h0m-4-12h0m18-59h0m75 5h0m120 23h0m-162-12h0m83-33h0m-184 1h0m236 80h0m-134-119h0m3 40h0m-16 22h0m-37-42h0m-13 61h0m82 25h0m-20-27h0m-9 7h0m34-22h0m105 91h0m-78-61h0m48 14h0m-90-53h0m-93 41h0m49-33h0m129-30h0m-194 34h0m129 55h0m-10-64h0m-38 97h0m-18-25h0m-2-106h0m88-4h0m-69 85h0m-20-44h0m-52 11h0m189 45h0m-143-46h0m108 19h0m-25-31h0m-26 32h0m70-4h0m-166-41h0m0 64h0m7 2h0m54-32h0m41-7h0m-80 14h0m65-24h0m-20 22h0m-13-27h0m2-12h0m4-25h0m48 32h0m-90 35h0m42-56h0m-7 15h0m-19 32h0m26 47h0m-72-98h0m60 61h0m-24-5h0m136-58h0m-78 28h0m-61 27h0m145-49h0m-104 6h0m99 9h0m-157-14h0m83 19h0m56 52h0m-73-66h0m71 73h0m-10-69h0m3 7h0m-151 11h0m127 24h0m-134-14h0m89 12h0m-25 40h0m82-2h0m46 11h0m-22-57h0m-77-42h0m69 10h0m-64 32h0m108-33h0m-171 62h0m35-61h0m-14 13h0m2 8h0m57 27h0m-52-3h0m50-13h0m-5-30h0m-24 58h0m84 4h0m-78-30h0m-39-1h0m47 21h0m-39-81h0m101 20h0m44 38h0m-169-22h0m104 57h0m-152-12h0m55-44h0m70 59h0m-85-102h0m34 59h0m116 83h0m-21-39h0m-63-26h0m9 61h0m6-42h0m-27-48h0m44 50h0m-5-3h0m15-68h0m-11 7h0m34-12h0m-119 72h0m35-99h0m62 43h0m119 26h0m-102 25h0m-133-18h0m240 48h0m-137-15h0m-40-38h0m57 6h0m-98 36h0m12-28h0m136-57h0m-92 72h0m12-37h0m-29-8h0m1 17h0m40-10h0m-140-15h0m116 20h0m-40 15h0m-20-1h0m52-9h0m45 7h0m-63-42h0m-15 100h0m121-109h0m-81 53h0m-18-29h0m-30 42h0m63 16h0m-68-49h0m-6-30h0m45 108h0m14-1h0m23-34h0m-74-63h0m-30 59h0m221 7h0m-123-24h0m-91-44h0m13 61h0m107-35h0m39 34h0m54-30h0m-205 30h0m40-41h0m113 0h0m-67 11h0m52 23h0m-56-15h0m-22 48h0m-43-10h0m146-92h0m-150 101h0m145-103h0m-74 15h0m10 58h0m-64-10h0m13-7h0m47-23h0m-16-41h0m-22 42h0m16-10h0m76 12h0m-41 35h0m-19-77h0m13 74h0m-98-28h0m96-15h0m43 10h0m102-12h0m-221 14h0m92 76h0m-46-23h0m58-77h0m-90 58h0m35 27h0m80-32h0m-44-19h0m52-23h0m-192 44h0m206-19h0m-42 25h0m47-26h0m-116 13h0m41-28h0m-27 16h0m70 46h0m-99-52h0m155 18h0m-125-38h0m33 37h0m9-35h0m-53-21h0m-43 47h0m174 47h0m-133-47h0m-70-14h0m91-3h0m14 44h0m0-67h0m-50 39h0m67-53h0m-97 113h0m73-44h0m-133-84h0m210 101h0m-61-19h0m-26-10h0m-22 15h0m-15-22h0m103 6h0m-81 53h0m-2-72h0m49 34h0m-65-40h0m-34-5h0m50 37h0m-111-24h0m125 7h0m57-45h0m-43 37h0m-56 57h0m66 23h0m-32-65h0m-74 71h0m49-52h0m-40 14h0m-29-69h0m229 102h0m-195-105h0m28 44h0m76-35h0m-111 63h0m74-16h0m-23-24h0m-44 10h0m139-82h0m-13 145h0m-88-73h0m-17 12h0m-44 10h0m212-5h0m-107-38h0m-26 84h0m-6-26h0m-34-5h0m46 2h0m11-66h0m24-60h0m-91 32h0m102 143h0m-78-93h0m125-10h0m-52-70h0m6 113h0m-8-59h0m-38 37h0m-24 33h0m117-7h0m-76-65h0m-29 9h0m117 36h0m-80 13h0m78-55h0m-103 20h0m-1-26h0m46 15h0m59 28h0m-110-9h0m-4 45h0m93-11h0m-6 7h0m22-50h0m-153 66h0m90-24h0m9-10h0m-162-13h0m-96-21h0m5 40h0m107-16h0m-2-6h0m-93 29h0m34-25h0m34-4h0m25 20h0m-74-17h0m84-2h0m-4 0h0m-25 2h0m-66 9h0m62 1h0m-3 20h0m-88-8h0m85-15h0m-68-2h0m39 11h0m-7-12h0m5 23h0m-51-6h0m29-31h0m44-6h0m42-29h0m-75 59h0m-38-22h0m72 0h0m-55 10h0m58-17h0m-18 26h0m18-9h0m-75 59h0m98-72h0m24-7h0m-7 17h0m-35 4h0m-4 33h0m-35-6h0m19 0h0m-17-44h0m20 8h0m6 16h0m-74 4h0m411-53h0m-138-15h0m317 129h0m-148-422h0m-101 415h0m-65-261h0m-128-278h0m445 57h0m-141-66h0m-529 352h0m310-11h0m-227-46h0m37-229h0m515-231h0m-634 132h0m603 558h0m-365-562h0m494-129h0m-758 80h0m680 94h0m-386 510h0m150-630h0" stroke="#6a70ff" stroke-width="6.0" stroke-linecap="square" fill="none"/><path transform="scale(0.1)" d="M860 3437h0m-7 98h0m-24-217h0m48 96h0m-24 114h0m21 67h0m-67 15h0m15-107h0m23 10h0m28 94h0m-61-205h0m2-83h0m-24 183h0m39 23h0m4-145h0m-52 201h0m41-224h0m14 141h0m3-25h0m-3 90h0m2 47h0m14-6h0m-59-93h0m75 53h0m-28-91h0m-5 86h0m34 51h0m-57-229h0m29 128h0m10-26h0m20-75h0m-10 155h0m-9-231h0m-22 123h0m-1-120h0m49 50h0m-70 57h0m56 167h0m-27-192h0m-10 119h0m73 52h0m-66-63h0m-25-2h0m71 17h0m-44 70h0m42-156h0m-40-85h0m-5 155h0m24-160h0m13 199h0m-16-11h0m35-42h0m-70-47h0m43 64h0m-70 39h0m10-19h0m25-48h0m7-3h0m-12 110h0m-9-96h0m29 96h0m49-248h0m-76 85h0m76 13h0m-76 35h0m40 117h0m-15-26h0m14 5h0m1-124h0m2 144h0m-34 3h0m54-8h0m-37-164h0m-32 84h0m33 38h0m-29 27h0m31-2h0m-25-163h0m25 115h0m-9-99h0m-2-30h0m-4-18h0m7 200h0m-24-156h0m46 174h0m-21 0h0m5-11h0m32 12h0m-14-274h0m-8 64h0m-47 201h0m-18-18h0m48 26h0m-16-218h0m17 37h0m3 179h0m8-27h0m-59-4h0m75-221h0m-4 226h0m-34-146h0m37 88h0m9 88h0m-58-137h0m12 70h0m4 64h0m10-191h0m-46 52h0m42-80h0m19-31h0m-34 241h0m20-117h0m-34 118h0m66 4h0m-78-168h0m-6 26h0m48 149h0m-19-150h0m-15 42h0m35 103h0m-13-6h0m4-2h0m31-40h0m-36-50h0m53-108h0m-7 123h0m-51-67h0m18 140h0m40-165h0m0 106h0m-84 70h0m91 3h0m-37-30h0m7 5h0m2-149h0m20 20h0m-6-25h0m17 131h0m-5-114h0m-68 117h0m28-125h0m-23-69h0m2 213h0m52-4h0m-64-161h0m47 84h0m-43-89h0m46 30h0m45 139h0m-61-37h0m-3-65h0m-25-100h0m73-24h0m-50 248h0m-9-20h0m1 7h0m18-90h0m-18-111h0m39-48h0m-18 104h0m74 163h0m-51-119h0m-43-93h0m22 34h0m-44 16h0m42-113h0m41 274h0m-4-89h0m-59-192h0m-54 283h0m88-289h0m-41 193h0m51-81h0m12 102h0m-33-1h0m19 11h0m26-202h0m-39-19h0m5 286h0m11-164h0m-10 147h0m-50 16h0m1-168h0m21 150h0m-10-87h0m63-112h0m-23 196h0m-26-150h0m16 18h0m-28 63h0m33-202h0m-16-98h0m79 47h0m-112-20h0m-14 39h0m105-10h0m-11-80h0m-40-41h0m78-16h0m-102 34h0m58 8h0m-79-44h0m2 182h0m-19-12h0" stroke="#7078ff" stroke-width="6.0" stroke-linecap="square" fill="none"/><ellipse cx="84.5" cy="355" rx="4.2" ry="7.5" fill="url(#g5)" opacity="1.0"/><ellipse cx="59.1" cy="368.0" rx="7.0" ry="6.6" fill="url(#g6)" opacity="1.0"/><ellipse cx="86.2" cy="368.2" rx="9.6" ry="6.4" fill="url(#g7)" opacity="1.0"/><path d="M132.7 313.6 V291.3 H46 V378 H132.7 V366 M132.7 332.5 V347.3" fill="none" stroke="#111" stroke-width="1"/><path d="M45.70 294.00h-1.6 M45.70 297.52h-0.9 M45.70 301.04h-0.9 M45.70 304.57h-0.9 M45.70 308.09h-1.6 M45.70 311.61h-0.9 M45.70 315.13h-0.9 M45.70 318.65h-0.9 M45.70 322.17h-1.6 M45.70 325.70h-0.9 M45.70 329.22h-0.9 M45.70 332.74h-0.9 M45.70 336.26h-1.6 M45.70 339.78h-0.9 M45.70 343.30h-0.9 M45.70 346.83h-0.9 M45.70 350.35h-1.6 M45.70 353.87h-0.9 M45.70 357.39h-0.9 M45.70 360.91h-0.9 M45.70 364.43h-1.6 M45.70 367.96h-0.9 M45.70 371.48h-0.9 M45.70 375.00h-0.9" stroke="#555" stroke-width="0.5"/><path d="M49.00 378.30v1.6 M52.52 378.30v0.9 M56.04 378.30v0.9 M59.57 378.30v0.9 M63.09 378.30v1.6 M66.61 378.30v0.9 M70.13 378.30v0.9 M73.65 378.30v0.9 M77.17 378.30v1.6 M80.70 378.30v0.9 M84.22 378.30v0.9 M87.74 378.30v0.9 M91.26 378.30v1.6 M94.78 378.30v0.9 M98.30 378.30v0.9 M101.83 378.30v0.9 M105.35 378.30v1.6 M108.87 378.30v0.9 M112.39 378.30v0.9 M115.91 378.30v0.9 M119.43 378.30v1.6 M122.96 378.30v0.9 M126.48 378.30v0.9 M130.00 378.30v0.9" stroke="#555" stroke-width="0.5"/><rect x="72.30" y="309.00" width="24.80" height="68.40" stroke="#111" stroke-width="0.9" fill="none"/><line x1="72.30" y1="358.60" x2="97.10" y2="358.60" stroke="#111" stroke-width="0.9" /><text x="106.40" y="303.00" font-size="7.4" text-anchor="start" fill="#222" textLength="20" lengthAdjust="spacingAndGlyphs" stroke="#222" stroke-width="0.1">0.69%</text><text x="106.30" y="370.80" font-size="7.4" text-anchor="start" fill="#222" textLength="20.4" lengthAdjust="spacingAndGlyphs" stroke="#222" stroke-width="0.1">29.0%</text><text x="113.80" y="325.60" font-size="7.4" text-anchor="start" fill="#222" textLength="36.4" lengthAdjust="spacingAndGlyphs" >Tetramer +</text><text x="113.80" y="360.40" font-size="7.4" text-anchor="start" fill="#222" textLength="35" lengthAdjust="spacingAndGlyphs" >Tetramer -</text><line x1="101.70" y1="329.80" x2="158.50" y2="329.80" stroke="#555" stroke-width="1.0" /><path d="M163.00 329.80 L158.00 327.40 L158.00 332.20 Z" fill="#111"/><line x1="130.20" y1="368.20" x2="158.50" y2="368.20" stroke="#555" stroke-width="1.0" /><path d="M163.00 368.20 L158.00 365.80 L158.00 370.60 Z" fill="#111"/><text x="40.50" y="306.30" font-size="6.4" text-anchor="middle" fill="#111" stroke="#111" stroke-width="0.22">10<tspan font-size="3.84" dy="-1.79" stroke-width="0.1">5</tspan></text><text x="40.50" y="325.70" font-size="6.4" text-anchor="middle" fill="#111" stroke="#111" stroke-width="0.22">10<tspan font-size="3.84" dy="-1.79" stroke-width="0.1">4</tspan></text><text x="40.50" y="347.50" font-size="6.4" text-anchor="middle" fill="#111" stroke="#111" stroke-width="0.22">10<tspan font-size="3.84" dy="-1.79" stroke-width="0.1">3</tspan></text><text x="40.50" y="372.20" font-size="6.4" text-anchor="middle" fill="#111" stroke="#111" stroke-width="0.22">0</text><text x="56.70" y="388.40" font-size="6.4" text-anchor="middle" fill="#111" stroke="#111" stroke-width="0.22">0</text><text x="75.00" y="388.40" font-size="6.4" text-anchor="middle" fill="#111" stroke="#111" stroke-width="0.22">10<tspan font-size="3.84" dy="-1.79" stroke-width="0.1">3</tspan></text><text x="98.50" y="388.40" font-size="6.4" text-anchor="middle" fill="#111" stroke="#111" stroke-width="0.22">10<tspan font-size="3.84" dy="-1.79" stroke-width="0.1">4</tspan></text><text x="124.00" y="388.40" font-size="6.4" text-anchor="middle" fill="#111" stroke="#111" stroke-width="0.22">10<tspan font-size="3.84" dy="-1.79" stroke-width="0.1">5</tspan></text><text x="26.40" y="334.20" font-size="8.6" text-anchor="middle" fill="#222" textLength="51" lengthAdjust="spacingAndGlyphs" transform="rotate(-90 26.40 334.20)" >HLA-DRB1*0701</text><text x="78.50" y="398.30" font-size="10.2" text-anchor="start" fill="#3a3a3a" textLength="13.7" lengthAdjust="spacingAndGlyphs" >CD4</text><line x1="165.20" y1="388.70" x2="165.20" y2="288.00" stroke="#666" stroke-width="1.0" /><path d="M165.20 283.50 L163.00 288.50 L167.40 288.50 Z" fill="#111"/><path transform="scale(0.1)" d="M1966 3278h0m-23 56h0m4-36h0m207-60h0m-73 43h0m9-43h0m9 47h0m-110 4h0m-51 51h0m89-90h0m-19 2h0m-95-34h0m72 0h0m91 9h0m-183 26h0m211 7h0m-75 31h0m-61-64h0m-100 70h0m110-27h0m25 11h0m-51 4h0m151-121h0m-105 70h0m-26 30h0m26-24h0m-37 34h0m88-49h0m-81 52h0m-21-5h0m107 29h0m-79 6h0m-101-52h0m163 22h0m13-42h0m5 79h0m-24-142h0m-92 90h0m72 16h0m4 77h0m20-77h0m-54 8h0m134-77h0m-153-24h0m27 99h0m6 21h0m-65 59h0m80-126h0m-55 49h0m12 74h0" stroke="#1818ff" stroke-width="12.0" stroke-linecap="square" fill="none"/><path transform="scale(0.1)" d="M1950 3085h0m-5 45h0m10 5h0" stroke="#1818ff" stroke-width="13.0" stroke-linecap="square" fill="none"/><path transform="scale(0.1)" d="M2286 3298h0m31-37h0m85 17h0m-170-4h0m21-29h0m106 0h0m-42-33h0m-98 50h0m42-5h0m93-67h0m18 117h0m-53-55h0m-14 11h0m-39-1h0m-9-19h0m101 13h0m-81 18h0m67-33h0m15 54h0m-5 47h0m-175-130h0m88 63h0m43-10h0m103-18h0m-100 43h0m10-16h0m18 24h0m0-32h0m-129 13h0m-7-21h0m116-6h0m10 25h0m-91-47h0m85 28h0m-30-1h0m16 13h0m-52 46h0m-31-82h0m115-6h0m-131 9h0m49 37h0m94-93h0m-38 107h0m-4-89h0m40 30h0m-142 26h0m145-12h0m-69-48h0m16 49h0m14 15h0m56 11h0m-148 15h0m-26-30h0m164 62h0m-16-110h0m61 80h0m3-9h0m-60 0h0m-7 7h0m-56-38h0m113 62h0m-129-62h0m71 37h0m-11-56h0m28 16h0m-43 3h0m44 26h0m-111 7h0m29-14h0m-23-9h0m54-28h0m-42 16h0m105 6h0m-95-3h0m-14 84h0m-41-40h0m56-40h0m-12 27h0m36 24h0m24-31h0m21 8h0m65 28h0m-201-56h0m91 1h0m-117 83h0m182-128h0m-101 54h0m76-1h0m14 38h0m-40 47h0m66-54h0m-22-55h0m-32 1h0m7 33h0m-16-38h0m-77 13h0m45-13h0m-73 0h0m205 43h0m-205 30h0m130-8h0m-28-70h0m-2 71h0m-20-42h0m46-15h0m-4 101h0m-49-67h0m79 32h0m-52-49h0m-3 42h0m43 43h0m6-57h0m-130-76h0m80 28h0m41 76h0m-50-77h0m-59 32h0m62 4h0m5 4h0m21 13h0m-27 20h0m-32-1h0m79-45h0m-94 9h0m117-41h0m-60 64h0m28-65h0m0 63h0m-107-83h0m98 73h0m-53-45h0m-102 49h0m60-44h0m85 19h0m15-28h0m-114 22h0m162 44h0m-62-29h0m-91 23h0m108-54h0m-144 4h0m168 18h0m-67-33h0m83 21h0m-13-3h0m-12 24h0m16 20h0m-101-60h0m-36 42h0m128 5h0m-90-20h0m124-24h0m-104 65h0m-84-12h0m150-18h0m-152-22h0m172-30h0m-104 23h0m-52-23h0m35 31h0m76 31h0m-19-39h0m19 21h0m82-4h0m-164 5h0m117-51h0m35 24h0m-103 19h0m25-25h0m-20 70h0m-32-33h0m116-58h0m-102 81h0m6-25h0m-21 29h0m30-37h0m-59 33h0m134-40h0m-169-9h0m210 70h0m-220-45h0m135-10h0m-61-5h0m6 88h0m72-71h0m-73 51h0m80-29h0m-78-12h0m25-54h0m-1 32h0m47 44h0m-100-46h0m116 82h0m-135-31h0m35-31h0m127-15h0m-132-34h0m79 19h0m20-1h0m-95 23h0m-1-31h0m-8 51h0m155 19h0m-48-49h0m-85 23h0m50-50h0m-7 23h0m-9-2h0m-93-12h0m-19 16h0m73-18h0m55-12h0m-69-21h0m62 89h0m-21-21h0m22 3h0m20 48h0m36-16h0m-45-21h0m60-36h0m-36-34h0m26 31h0m-80 30h0m48 62h0m67-66h0m-156-65h0m-23 60h0m104-68h0m-9 21h0m36 118h0m-14-88h0m-59 32h0m76-1h0m-136 80h0m93-93h0m39 35h0m-15-27h0m-12 71h0m27-80h0m-108 6h0m50-20h0m-115-5h0m119-13h0m-22-19h0m-17 86h0m-44-73h0m10-38h0m-73 40h0m34 40h0m46 2h0m56-3h0m-21 6h0m54 20h0m-43-60h0m58 38h0m-196 17h0m215-51h0m-35 86h0m-104-46h0m126 23h0m-34-52h0m75 25h0m-34-13h0m-18 15h0m1-26h0m-57 19h0m3-37h0m47 13h0m-75-7h0m75 34h0m24 2h0m-166-3h0m175-16h0m-101-10h0m112-5h0m-110-7h0m17 89h0m-22-92h0m-48 70h0m160-14h0m-153-21h0m10 16h0m156-30h0m-41-80h0m-92 113h0m135-62h0m-58 10h0m-33 55h0m50-24h0m-101 4h0m81-13h0m-50-48h0m17 135h0m50-69h0m-97 65h0m28-100h0m17 32h0m3-37h0m-68 25h0m64 22h0m-102 5h0m177-19h0m-226 7h0m166 18h0m27-30h0m39-31h0m-116 31h0m135 8h0m-132 27h0m31-7h0m81 71h0m3-55h0m-154-69h0m162 28h0m-102 21h0m34-16h0m24-41h0m-53 71h0m53 10h0m-75-27h0m-48 60h0m57-136h0m-28 78h0m117 51h0m-7-84h0m38-39h0m-18 21h0m-118 78h0m57-36h0m43-26h0" stroke="#1818ff" stroke-width="12.0" stroke-linecap="square" fill="none"/><path transform="scale(0.1)" d="M2306 3236h0m45 35h0m-56-33h0m9 50h0m-24-19h0m4-7h0m28-4h0m-35 31h0m26-46h0m5 16h0m14-31h0m-11 32h0m5 32h0m-45-18h0m58 7h0m-44 6h0m83-26h0m-3-22h0m-52 31h0m-18-40h0m-3 52h0m-5-21h0m-15 23h0m33-7h0m22-13h0" stroke="#ff4a00" stroke-width="10.0" stroke-linecap="square" fill="none"/><path transform="scale(0.1)" d="M2302 3274h0m31-9h0m-27-20h0m39 35h0m-70-41h0m45 25h0m9 6h0m-34 7h0" stroke="#ff9a00" stroke-width="10.0" stroke-linecap="square" fill="none"/><path transform="scale(0.1)" d="M2032 4039h0m-148-19h0m43-31h0m4-32h0m23-53h0m4 85h0m15-37h0m-19-38h0m-29 58h0m52-68h0m-118 96h0m162-146h0m-64 23h0m-36 87h0m-25 38h0m92 85h0m-7-34h0m-80-119h0m94 58h0m-56-23h0m-6 34h0m-21-15h0m37 63h0m-41-21h0m85-129h0m-67 41h0m45 29h0m-17 43h0m-78-44h0m25 8h0m75 26h0m-93-8h0m110 25h0m-30-70h0m25 39h0m-75 22h0m-2 66h0m-6-31h0m-22 29h0m92-109h0m-23 10h0m-12 38h0m-14-66h0m88-32h0m14 9h0m-89 11h0m-5 36h0m-64-178h0m145 51h0m-75-6h0m15 99h0m-10 122h0m6-80h0m49-24h0m5 87h0m-22-6h0m29-86h0m-80 161h0m-46-75h0m11-116h0m90 86h0m-50 42h0m50-105h0m-41 11h0m-1-84h0m21 67h0m-9 95h0m7-54h0m-40 94h0m31-127h0m-55 198h0m24-187h0m53-92h0m-3 186h0m-156 44h0m128-210h0m38 149h0m-36-70h0m-46-123h0m40 101h0m-33-32h0m33 52h0m35 109h0m-89-126h0m6 31h0m108 78h0m-48-32h0m-30 36h0m102-178h0m-64 42h0m-1 181h0m53-189h0m-140 109h0m71-69h0m-20 25h0m39 2h0m-25-172h0m40 185h0m29-30h0m-81-49h0m-12-46h0m24 228h0m-73-216h0m59 106h0m46 0h0m-110 70h0m155 52h0m-49 50h0m-11-162h0m-13-3h0m-24 67h0m81-42h0m-56 79h0m-29-180h0m21 49h0m-10 96h0m29-73h0m-1 59h0m11-75h0m19 51h0m-8-92h0m-11-136h0m47 157h0m-91 80h0m50 24h0m-12-135h0m-84 6h0m91 35h0m-58-160h0m-40 220h0m1-58h0m40-40h0m-50 27h0m56-32h0m20-5h0m8-10h0m6 101h0m-85-140h0m77 10h0m-42 207h0m67-147h0m-17 109h0m54-103h0m-81-60h0m-52 206h0m119-40h0m9-69h0m-43-62h0m4-26h0m-20 147h0m48-36h0m-20 111h0m0-145h0m-12 40h0m-39-89h0m19 94h0m4 35h0m30-156h0m7 36h0m-17 34h0m21 38h0m-100 13h0m4-124h0m100 61h0m-16 57h0m-40 23h0m46-109h0m-20-23h0m-33 76h0m46-84h0m-32 64h0m35-85h0m-39 151h0m63-166h0m-93 286h0m63-264h0m-27 153h0m-27 74h0m-18-114h0m126 63h0m-94-29h0m64 7h0m-44-139h0m45 4h0m-116 162h0m76-128h0m44 112h0m-65-60h0m4-19h0m-15-133h0m-48 177h0m43-107h0m89 33h0m-77 31h0m89-9h0m-66-193h0m-69 109h0m59 111h0m23 9h0m-17-168h0m12 188h0m-37-62h0m84-70h0m-79 204h0m38-142h0m29 64h0m-14-51h0m-26-48h0m-9 61h0m76 5h0m-88 35h0m30-86h0m-12-10h0m-12-5h0m4 121h0m41-75h0m-35-90h0m20 84h0m10 7h0m-1 47h0m-65-72h0m69-59h0m-5 95h0m-59-165h0m30 210h0m-107-25h0m111 16h0m-74-65h0m12 1h0m35-17h0m-40 148h0m51-77h0m63-54h0m-15 21h0m-51 39h0m76-107h0m-75 73h0m-1 45h0m19-16h0m-10-26h0m10-45h0m-59 42h0m90-57h0m-28 144h0m-56-113h0m-33 109h0m51-180h0m23 74h0m-36 129h0m13-75h0m54-50h0m-97 43h0m121-46h0m59 124h0m-152-139h0m98 26h0m5-35h0m-78 52h0m113 60h0m-43-53h0m-31 6h0m8 129h0m-1-137h0m45 23h0m-94 19h0m17 35h0m28-237h0m-19 99h0m14 39h0m36 120h0m-108-93h0m86-76h0m-60-1h0m17-19h0m35 98h0m25 67h0m-53-81h0m4-49h0m29 28h0m-30-53h0m-25 53h0m-10 56h0m91 14h0m-72-20h0m17-95h0m47 102h0m-55 42h0m35 7h0m31-131h0m-40-20h0m-109 177h0m96-62h0m-20-83h0m67 182h0m-35-104h0m-52-26h0m18-56h0m-19 11h0m50 12h0m51-106h0m-47 56h0m28 77h0m-47 67h0m-31-86h0m19 114h0m21-64h0m-37-24h0m60 63h0m34-59h0m-58 8h0m-12 81h0m-17-136h0m80 23h0m-49 104h0m26 41h0m-43-255h0m21 147h0m-21 47h0m-28-84h0m-46 6h0m12 40h0m65-3h0m-19-87h0m36-72h0m-37 73h0m23 81h0m17 32h0m34 19h0m-89-274h0m35 261h0m20-111h0m-11-15h0m-19 47h0m-37-1h0m11-57h0m47 126h0m58 9h0m-66-35h0m-4-66h0m-9 65h0m39-120h0m-92 128h0m113-21h0m-9 73h0m-60-24h0m44-145h0m-90-15h0m104 175h0m-44-134h0m57 23h0m-128 40h0m49-9h0m90-81h0m-59 73h0m56 106h0m-54-61h0m31-117h0m-40-1h0m-12 25h0m-85 37h0m152 36h0m-30-106h0m-7 95h0m34-25h0m-2 5h0m-19 10h0m18 90h0m33-70h0m-73-129h0m-86 114h0m83-113h0m-61 97h0m115 56h0m-86-70h0m82 6h0m20-104h0m-47 237h0m-25-14h0m24-244h0m-65 191h0m34-13h0m-37 32h0m144-126h0m-79 157h0m-12-94h0m-23-67h0m-17 31h0m79 69h0m-8-135h0m-22 197h0m-56-107h0m1-43h0m39 12h0m-53 162h0m54-126h0m56-129h0m-57 136h0m-79 39h0m112-95h0m-41 142h0m-2-101h0m18-71h0m-3 133h0m53-91h0m42-41h0m-89 78h0m-23 55h0m43-127h0m-56 132h0m30-45h0m37 24h0m-15-38h0m-32 7h0m69-29h0m3-42h0m-33 17h0m-35 78h0m-7-113h0m29-30h0m-10 183h0m444 52h0m-16-11h0m-22 18h0m-7 51h0m-70-104h0m62 3h0m23-8h0m-67 80h0m-132-90h0m209 14h0m27 11h0m-75-34h0m27 60h0m-2 68h0m28-6h0m-185-56h0m91-12h0m122-32h0m-84-3h0m-76 33h0m179 58h0m-288-84h0m27-1h0m142 53h0m-128-22h0m201 15h0m-107-24h0m91-67h0m-60 81h0m-46-66h0m36 79h0m88-16h0m46 19h0m-128-99h0m97 33h0m-93-13h0m35 116h0m-62-145h0m34 39h0m-55 24h0m-29 57h0m121-108h0m-104 35h0m-10 95h0m58 2h0m-65-1h0m35-110h0m80 35h0m0-86h0m-158 91h0m86 18h0m-38-39h0m80 26h0m-59 60h0m38-35h0m-28-25h0m60 30h0m-70 7h0m-37-58h0m166 5h0m-148 24h0m12-55h0m-22 12h0m61 52h0m-52-91h0m24 42h0m43 51h0m69 52h0m-58-98h0m-227-46h0m83 62h0m122-9h0m114 4h0m-146 16h0m160 47h0m-76 22h0m-131-120h0m95 15h0m-137-4h0m81 62h0m129-19h0m-32-5h0m-113-30h0m70-17h0m64-7h0m-107 100h0m116-107h0m-78 76h0m121 21h0m-110 2h0m7-33h0m-67-20h0m-2 47h0m62-25h0m36 25h0m18-68h0m-66 60h0m99-10h0m-119 36h0m19-90h0m-30 61h0m17-11h0m39 12h0m42 3h0m-143-30h0m167-62h0m-98 29h0m-89 2h0m-53 19h0m181 62h0m-129-31h0m81-79h0m3 53h0m48 7h0m-35-2h0m-3 59h0m111-66h0m-234 51h0m83-48h0m99 15h0m-91-10h0m-29-4h0m88 34h0m-158-56h0m250 97h0m-96-106h0m-5 47h0m-1 89h0m74-18h0m-62-134h0m-128 16h0m6 53h0m195 29h0m18 30h0m-53-64h0m-47 40h0m-155-11h0m153-17h0m-142 7h0m208-75h0m-184 87h0m156-12h0m-24-85h0m-152 33h0m76 27h0m112 13h0m-58-109h0m-32 137h0m41-56h0m92 8h0m-19 61h0m-64-54h0m-72 29h0m72-46h0m6 23h0m-91-48h0m-84 58h0m206-62h0m-64 39h0m-14 36h0m117 37h0m5-5h0m-99-58h0m111-9h0m-192-18h0m159-16h0m-91 103h0m-97-70h0m145-13h0m-201-19h0m149-24h0m-65 72h0m156 58h0m-124-134h0m-23 70h0m159-6h0m-144-57h0m53 90h0m50-84h0m-120 15h0m104-21h0m-81 11h0m40 58h0m-21-19h0m-33 23h0m-78 3h0m96-70h0m-15 25h0m79 88h0m-1-26h0m82 59h0m-49-126h0m-166-26h0m214 64h0m3 52h0m-166-91h0m-26-33h0m122 15h0m23 13h0m-44-18h0m20 81h0m86 7h0m-42-55h0m-93 64h0m-89-29h0m83 27h0m68-5h0m-151-47h0m92 76h0m-38-65h0m97-12h0m-197 15h0m19 9h0m76 6h0m107-3h0m-31-1h0m45 33h0m30-11h0m-172 18h0m70-76h0m13 90h0m-45-31h0m144-37h0m-160 11h0m58-23h0m42 12h0m43-3h0m-235 75h0m64-40h0m173-68h0m-124 15h0m-65-14h0m111 54h0m-74-25h0m-47 55h0m137-28h0m-49-28h0m1-5h0m75 21h0m-262-10h0m182-38h0m-27 31h0m114-24h0m-118 34h0m54 44h0m-15 2h0m30-57h0m-139 45h0m98-30h0m26-10h0m87 17h0m-158-29h0m57 46h0m2-24h0m-61-72h0m50 77h0m-121-15h0m99 33h0m57 44h0m-101-71h0m118 97h0m-13-174h0m-56 98h0m-149-48h0m281-9h0m-80 65h0m-23 30h0m-57-96h0m194 42h0m-209-21h0m129 88h0m-67-53h0m-7-42h0m106-68h0m-95 113h0m-21 16h0m40 16h0m53-12h0m21 12h0m-175-83h0m113 17h0m-5 67h0m-61-74h0m-20-11h0m60-6h0m85 33h0m-121 13h0m67-38h0m19 11h0m-8 6h0m-55-26h0m111 16h0m6 13h0m-171 0h0m56-23h0m-82 80h0m178-35h0m-232 19h0m150-52h0m-34 3h0m43 39h0m-17-42h0m145 26h0m-72 5h0m37 22h0m-166 28h0m90-47h0m111 18h0m-134-46h0m75-50h0m-129 86h0m69-66h0m-23 31h0m5 27h0m39 49h0m-34-73h0m39-5h0m-31 77h0m-58-55h0m27 33h0m-1-33h0m50 14h0m7-36h0m20-72h0m23 80h0m-101 42h0m4 2h0m35 6h0m2-71h0m71-12h0m-15-8h0m-2-20h0m-65 40h0m21 28h0m11-41h0m-105 90h0m138 32h0m-33-15h0m-68-14h0m9-70h0m-46 23h0m72 11h0m15-73h0m70 62h0m-179-29h0m109-29h0m25 86h0m-24-102h0m22 72h0m-130-104h0m70 142h0m81 65h0m-177-136h0m150 17h0m-9-17h0m39 97h0m28-40h0m-126 26h0m-6 52h0m-103-139h0m226 33h0m-29 30h0m65-81h0m0 37h0m-146 54h0m-57-115h0m156 84h0m-83-30h0m43 18h0m-118-16h0m82 15h0m98 51h0m-169 0h0m-19-105h0m124 32h0m-90 16h0m6 82h0m66-22h0m-159 9h0m139-33h0m-5-50h0m129 14h0m-52 57h0m4-14h0m-4-80h0m1 68h0m-48-7h0m13-65h0m-85 48h0m44 25h0m-70 48h0m47-123h0m51 17h0m25 85h0m-91-42h0m51 27h0m-35-42h0m13-5h0m33 35h0m-12-61h0m94 12h0m-247 73h0m133-26h0m119-19h0m-224-37h0m130 78h0m-1-47h0m125-67h0m-208 54h0m25 3h0m120-5h0m-54 69h0m45-35h0m-92-37h0m-147-37h0m77 120h0m147-83h0m18-17h0m-136 20h0m51 24h0m-72 2h0m140 18h0m-3-54h0m-3 8h0m66 51h0m-90-45h0m-127 76h0m19-20h0m97-71h0m20 19h0m-58-22h0m-59 36h0m179-33h0m-77 7h0m-99 38h0m-34 6h0m161-9h0m-151 56h0m3-36h0m110-50h0m100 3h0m-161 86h0m56-71h0m-143 45h0m98-66h0m174 44h0m-86 67h0m-95-140h0m120 81h0m36 3h0m-57 29h0m-80-41h0m-38-13h0m46-9h0m-21 17h0m-35 18h0m214-54h0m-21-20h0m-100 13h0m67 34h0m-106-114h0m-99 47h0m-2 28h0m175 83h0m-217 16h0m115-99h0m45 74h0m-46 28h0m-16-85h0m-19 28h0m32-2h0m91 6h0m41-64h0m-143 20h0m94 21h0m-247-47h0m177 21h0m-93 46h0m58-20h0m-1 66h0m159-31h0m-86-26h0m65 37h0m-119-45h0m96-153h0m-74 226h0m104-88h0m-175-13h0m143 13h0m31-41h0m-160 100h0m23-91h0m37 20h0m-8-14h0m64 34h0m-60 42h0m70 30h0m-63-88h0m-117 18h0m5 14h0m174-16h0m40 21h0m-121-37h0m-48 85h0m163-77h0m-82 32h0m-74-2h0m120-84h0m-84 148h0m-37-131h0m182 70h0m39-21h0m-84-13h0m22 41h0m-49-16h0m4-13h0m18-67h0m25 98h0m-48 52h0m44-67h0m73 34h0m-224-11h0m-205-235h0m277 287h0m-378-110h0m157-105h0m8 100h0m355-71h0m-249 16h0m-303-103h0m193 8h0m-83 251h0m-132-1h0m225 21h0m155-275h0m213 194h0m-223-225h0m-359 96h0m395-48h0m163 195h0m-344-217h0m-50 40h0m321 97h0m99 156h0m-441-261h0m-26 194h0m409-114h0m-240-42h0m271-7h0m-513 172h0m32-155h0m178 63h0m-40-119h0m-40 68h0m264-80h0m54 278h0m-403-323h0m-23 115h0m504-26h0m-422 1h0m223-50h0m-124 158h0m-235-181h0m87 144h0m271-141h0m120 283h0m-463-210h0m529 158h0m-532-57h0m231 92h0m-1-98h0m-47-141h0m332 77h0m-448 89h0m-49-127h0m502-57h0m-363 12h0m128 251h0m-237-77h0m429-85h0m-392 176h0m109-249h0m-212 22h0m513 216h0m-47-277h0m-79 59h0m-396-31h0m265 253h0m-176-142h0m139-48h0m284 200h0m-523-193h0m14-75h0m436 111h0m-102-151h0m130 37h0m-127 65h0m-233-30h0m61 103h0m327-123h0m-154 9h0m14 232h0m-42-176h0m238-94h0m-288 16h0m69 10h0m-176 165h0m-4-98h0m300 23h0m-318 92h0m269-92h0m-293 137h0m295-268h0m-416 230h0m413 13h0m-208-159h0m6 82h0m251 20h0m-122 104h0m131-5h0m19-247h0m45 208h0m-457-91h0m8-96h0m72-1h0m152 159h0m163 104h0m123-168h0m-438-147h0m67 202h0m-207-45h0m308 24h0m-4 61h0m221-95h0m-87 67h0m136-77h0m-167 80h0m-118-129h0m-252 70h0m180-108h0m338 42h0m-344 219h0m-65-292h0m-74 258h0m375-272h0m-328 9h0m205 285h0m-329-26h0m412-89h0m-274 22h0m162 92h0m-198-261h0m165-9h0m-63 158h0m128 80h0m116-12h0m-385-171h0m346 155h0m-108-224h0m2 179h0m0 97h0m-272-134h0m359 37h0m152-173h0m-237 93h0m-306-111h0m147 215h0m165-216h0m-7 206h0m254-133h0m-211 184h0m-90-152h0m60 81h0m-157-172h0m33 69h0m-68-58h0m80 127h0m164 19h0m-173 17h0m348 90h0m-87-27h0m-87-51h0m151 22h0m37-220h0m-480-14h0m284 160h0m-168 53h0m310-68h0m-393 143h0m-108-183h0m99-106h0m317 123h0m-143 50h0m-190-171h0m461 182h0m-70-101h0m-285 7h0m-32 226h0m142-294h0m23 67h0m1-9h0m-84 0h0m224 148h0m-426-169h0m395 120h0m100-58h0m20-19h0m-433 119h0m130-65h0m45-70h0m67 85h0m207 136h0m-265-100h0m59-56h0m-121 98h0m-111-162h0m93 213h0m-1-81h0m308 100h0m-320-220h0m-198 135h0m437-196h0m95 259h0m-147-57h0m-216-46h0m147-108h0m-185 57h0m30-41h0m388-16h0m21 139h0m-452-163h0m-34 46h0m-77 39h0m287 69h0m213-137h0m6 78h0m-331-151h0m62 113h0m-31-59h0m8-8h0m160 213h0m27-159h0m0 110h0m-131 84h0m172-14h0m-232-279h0m-98 256h0m108-158h0m17 175h0m76-264h0m-204 159h0m-143 132h0m486 17h0m64-181h0m-52-110h0m-447 118h0m76 71h0m324 98h0m-174-108h0m258-208h0m-511 48h0m273-5h0m86-43h0m12 258h0m-259-149h0m243 124h0m-79-22h0m73-114h0m-345 214h0m557-276h0m-494 101h0m103-20h0m300-31h0m-474 124h0m544 47h0m-285 28h0m-45-127h0m102 72h0m-49-233h0m-182 289h0m105-102h0m74 24h0m-79 5h0m10 72h0m146-152h0m3 12h0m-44 63h0m60 24h0m-132-79h0m126-46h0m-133 29h0m81 75h0m-111-31h0m89 41h0m-6 33h0m9-77h0m-97-9h0m15 29h0m105 61h0m-158-62h0m152-52h0m65-1h0m-17 91h0m17-21h0m-161 7h0m107-64h0m-91 96h0m-63-113h0m132 51h0m-84-10h0m-52 4h0m75 76h0m96-92h0m3 38h0m-133-113h0m79 91h0m-122 64h0m149-4h0m10-72h0m-60-10h0m92 64h0m-15-34h0m-18 7h0m-105-45h0m63-4h0m58 77h0m-134-24h0m133 25h0m-11 21h0m-102-10h0m151-63h0m-158 74h0m59-116h0m-66 46h0m141 27h0m-85 5h0m-23-2h0m37-26h0m67-2h0m-151 61h0m-15-104h0m145 92h0m36 35h0m-26 8h0m-169-67h0m103-17h0m-74 32h0m171-25h0m-204-8h0m51-18h0m54 68h0m-58-80h0m-13-44h0m159 98h0m1-88h0m-59 55h0m-42-28h0m-74-33h0m134 55h0m-129 53h0m128-117h0m-50 31h0m-54 103h0m103 5h0m57-59h0m-1 7h0m5 4h0m-211-10h0m183-12h0m-40 73h0m-98-152h0m114 47h0m-78 0h0m72 55h0m-2 0h0m53 13h0m-175-1h0m32-40h0m-16 17h0m13-55h0m11 145h0m27-77h0m-24-42h0m-13 65h0m-52 15h0m164-32h0m-14 12h0m-135 1h0m178 23h0m-25-30h0m-16-74h0m-69 50h0m89-24h0m-117 74h0m-15-137h0m130 188h0m-160-40h0m130-168h0m30 61h0m-162 21h0" stroke="#7078ff" stroke-width="6.0" stroke-linecap="square" fill="none"/><ellipse cx="194.3" cy="404" rx="5.0" ry="8" fill="url(#g8)" opacity="1.0"/><ellipse cx="194.6" cy="392.2" rx="8.4" ry="8.6" fill="url(#g9)" opacity="1.0"/><ellipse cx="231.6" cy="407.3" rx="12.5" ry="7.0" fill="url(#g10)" opacity="1.0"/><rect x="179.40" y="274.80" width="65.40" height="63.90" stroke="#111" stroke-width="1.0" fill="none"/><path d="M179.10 277.80h-1.6 M179.10 280.56h-0.9 M179.10 283.31h-0.9 M179.10 286.07h-0.9 M179.10 288.83h-1.6 M179.10 291.59h-0.9 M179.10 294.34h-0.9 M179.10 297.10h-0.9 M179.10 299.86h-1.6 M179.10 302.61h-0.9 M179.10 305.37h-0.9 M179.10 308.13h-0.9 M179.10 310.89h-1.6 M179.10 313.64h-0.9 M179.10 316.40h-0.9 M179.10 319.16h-0.9 M179.10 321.91h-1.6 M179.10 324.67h-0.9 M179.10 327.43h-0.9 M179.10 330.19h-0.9 M179.10 332.94h-1.6 M179.10 335.70h-0.9" stroke="#555" stroke-width="0.5"/><path d="M182.40 339.00v1.6 M185.23 339.00v0.9 M188.06 339.00v0.9 M190.89 339.00v0.9 M193.71 339.00v1.6 M196.54 339.00v0.9 M199.37 339.00v0.9 M202.20 339.00v0.9 M205.03 339.00v1.6 M207.86 339.00v0.9 M210.69 339.00v0.9 M213.51 339.00v0.9 M216.34 339.00v1.6 M219.17 339.00v0.9 M222.00 339.00v0.9 M224.83 339.00v0.9 M227.66 339.00v1.6 M230.49 339.00v0.9 M233.31 339.00v0.9 M236.14 339.00v0.9 M238.97 339.00v1.6 M241.80 339.00v0.9" stroke="#555" stroke-width="0.5"/><rect x="180.30" y="355.10" width="64.40" height="63.90" stroke="#111" stroke-width="1.0" fill="none"/><path d="M180.00 358.10h-1.6 M180.00 360.86h-0.9 M180.00 363.61h-0.9 M180.00 366.37h-0.9 M180.00 369.13h-1.6 M180.00 371.89h-0.9 M180.00 374.64h-0.9 M180.00 377.40h-0.9 M180.00 380.16h-1.6 M180.00 382.91h-0.9 M180.00 385.67h-0.9 M180.00 388.43h-0.9 M180.00 391.19h-1.6 M180.00 393.94h-0.9 M180.00 396.70h-0.9 M180.00 399.46h-0.9 M180.00 402.21h-1.6 M180.00 404.97h-0.9 M180.00 407.73h-0.9 M180.00 410.49h-0.9 M180.00 413.24h-1.6 M180.00 416.00h-0.9" stroke="#555" stroke-width="0.5"/><path d="M183.30 419.30v1.6 M186.08 419.30v0.9 M188.86 419.30v0.9 M191.64 419.30v0.9 M194.42 419.30v1.6 M197.20 419.30v0.9 M199.99 419.30v0.9 M202.77 419.30v0.9 M205.55 419.30v1.6 M208.33 419.30v0.9 M211.11 419.30v0.9 M213.89 419.30v0.9 M216.67 419.30v1.6 M219.45 419.30v0.9 M222.23 419.30v0.9 M225.01 419.30v0.9 M227.80 419.30v1.6 M230.58 419.30v0.9 M233.36 419.30v0.9 M236.14 419.30v0.9 M238.92 419.30v1.6 M241.70 419.30v0.9" stroke="#555" stroke-width="0.5"/><rect x="211.20" y="314.60" width="33.10" height="23.80" stroke="#333" stroke-width="0.8" fill="none"/><rect x="211.00" y="394.30" width="33.40" height="24.40" stroke="#333" stroke-width="0.8" fill="none"/><text x="218.50" y="286.30" font-size="7.4" text-anchor="start" fill="#222" textLength="20.7" lengthAdjust="spacingAndGlyphs" stroke="#222" stroke-width="0.1">92.0%</text><text x="218.90" y="366.60" font-size="7.4" text-anchor="start" fill="#222" textLength="20.2" lengthAdjust="spacingAndGlyphs" stroke="#222" stroke-width="0.1">34.2%</text><text x="172.80" y="283.60" font-size="6.4" text-anchor="middle" fill="#111" stroke="#111" stroke-width="0.22">10<tspan font-size="3.84" dy="-1.79" stroke-width="0.1">5</tspan></text><text x="172.80" y="298.10" font-size="6.4" text-anchor="middle" fill="#111" stroke="#111" stroke-width="0.22">10<tspan font-size="3.84" dy="-1.79" stroke-width="0.1">4</tspan></text><text x="172.80" y="315.40" font-size="6.4" text-anchor="middle" fill="#111" stroke="#111" stroke-width="0.22">10<tspan font-size="3.84" dy="-1.79" stroke-width="0.1">3</tspan></text><text x="172.80" y="331.30" font-size="6.4" text-anchor="middle" fill="#111" stroke="#111" stroke-width="0.22">0</text><text x="183.00" y="347.50" font-size="6.4" text-anchor="middle" fill="#111" stroke="#111" stroke-width="0.22">-10<tspan font-size="3.84" dy="-1.79" stroke-width="0.1">3</tspan></text><text x="195.40" y="347.50" font-size="6.4" text-anchor="middle" fill="#111" stroke="#111" stroke-width="0.22">0</text><text x="204.50" y="347.50" font-size="6.4" text-anchor="middle" fill="#111" stroke="#111" stroke-width="0.22">10<tspan font-size="3.84" dy="-1.79" stroke-width="0.1">3</tspan></text><text x="223.30" y="347.50" font-size="6.4" text-anchor="middle" fill="#111" stroke="#111" stroke-width="0.22">10<tspan font-size="3.84" dy="-1.79" stroke-width="0.1">4</tspan></text><text x="240.30" y="347.50" font-size="6.4" text-anchor="middle" fill="#111" stroke="#111" stroke-width="0.22">10<tspan font-size="3.84" dy="-1.79" stroke-width="0.1">5</tspan></text><text x="172.80" y="363.20" font-size="6.4" text-anchor="middle" fill="#111" stroke="#111" stroke-width="0.22">10<tspan font-size="3.84" dy="-1.79" stroke-width="0.1">5</tspan></text><text x="172.80" y="378.50" font-size="6.4" text-anchor="middle" fill="#111" stroke="#111" stroke-width="0.22">10<tspan font-size="3.84" dy="-1.79" stroke-width="0.1">4</tspan></text><text x="172.80" y="395.30" font-size="6.4" text-anchor="middle" fill="#111" stroke="#111" stroke-width="0.22">10<tspan font-size="3.84" dy="-1.79" stroke-width="0.1">3</tspan></text><text x="172.80" y="411.70" font-size="6.4" text-anchor="middle" fill="#111" stroke="#111" stroke-width="0.22">0</text><text x="183.00" y="427.10" font-size="6.4" text-anchor="middle" fill="#111" stroke="#111" stroke-width="0.22">-10<tspan font-size="3.84" dy="-1.79" stroke-width="0.1">3</tspan></text><text x="195.40" y="427.10" font-size="6.4" text-anchor="middle" fill="#111" stroke="#111" stroke-width="0.22">0</text><text x="204.50" y="427.10" font-size="6.4" text-anchor="middle" fill="#111" stroke="#111" stroke-width="0.22">10<tspan font-size="3.84" dy="-1.79" stroke-width="0.1">3</tspan></text><text x="223.30" y="427.10" font-size="6.4" text-anchor="middle" fill="#111" stroke="#111" stroke-width="0.22">10<tspan font-size="3.84" dy="-1.79" stroke-width="0.1">4</tspan></text><text x="240.30" y="427.10" font-size="6.4" text-anchor="middle" fill="#111" stroke="#111" stroke-width="0.22">10<tspan font-size="3.84" dy="-1.79" stroke-width="0.1">5</tspan></text><text x="168.30" y="405.10" font-size="10.2" text-anchor="middle" fill="#3a3a3a" textLength="18.9" lengthAdjust="spacingAndGlyphs" transform="rotate(-90 168.30 405.10)" >CD27</text><text x="202.10" y="438.00" font-size="10.2" text-anchor="start" fill="#3a3a3a" textLength="18.1" lengthAdjust="spacingAndGlyphs" >CD57</text><text x="308.30" y="286.30" font-size="10.3" text-anchor="start" fill="#111" textLength="57" lengthAdjust="spacingAndGlyphs" >CLIP peptide</text><path transform="scale(0.1)" d="M3173 3712h0m-66-14h0m44-39h0m11 24h0m17-7h0m-74-32h0m46 85h0m-62-25h0m-41-14h0m56-35h0m30-19h0m-40 84h0m-13-15h0m-16 22h0m-32-77h0m41 15h0m-14 15h0m52 42h0m8-129h0m-46 103h0m-23 30h0m90-75h0m-36-7h0m-31 2h0m53 80h0m-2-2h0m17-55h0m-37-24h0m70 26h0m-81 12h0m-35 39h0m45 3h0m4-116h0m29 108h0m-2 0h0m-42-48h0m52-17h0m-117 10h0m27 47h0m152 13h0m-117-4h0m-38-44h0m-28 57h0m95-33h0m2-17h0m44-39h0m-74-10h0m13 70h0m-7 20h0m-76 11h0m81-62h0m84-12h0m-48-3h0m-37-14h0m-45 46h0m25-21h0m8 18h0m8 45h0m35-92h0m-9 100h0m18-20h0m-29-55h0m55-13h0m-19 50h0m-30 16h0m-92-22h0m122 25h0m-8-33h0m-121-9h0m86 27h0m2-42h0m19 36h0m-49-19h0m22 15h0m-45 17h0m46-61h0m15 45h0m52-11h0m-14 0h0m-152 58h0m93-45h0m-87-57h0m114 60h0m13-24h0m-26 39h0m-19-18h0m-33-31h0m37 2h0m-24 81h0m49-35h0m-75-41h0m-52 2h0m94 15h0m50-63h0m8-12h0m-57 61h0m-51-33h0m92 69h0m-25-10h0m70 17h0m-111-53h0m20 9h0m-28-8h0m-15-25h0m50-10h0m43 107h0m-69-95h0m82 33h0m-52 10h0m23 16h0m27 0h0m-33-31h0m34-38h0m-83 86h0m54-41h0m18 48h0m63-73h0m-123 35h0m65-18h0m-76-2h0m49 3h0m-75-46h0m74-1h0m35 103h0m-76-71h0m38 33h0m-52-55h0m9 63h0m46-25h0m-18 23h0m15-7h0m-33 37h0m4-52h0m-19 40h0m117-6h0m-95-27h0m15-8h0m-11 20h0m48 7h0m-29 12h0m25-37h0m-3 19h0m-24 46h0m31-5h0m-122-31h0m67-21h0m76 60h0m-67-125h0m76 93h0m-2-52h0m-44-3h0m-25 34h0m-39 63h0m-15-11h0m82-59h0m-1-29h0m-30 4h0m-15 7h0m47-11h0m-14 92h0m-65-34h0m61-30h0m-30 5h0m49 29h0m-21-2h0m-58-39h0m56-17h0m-14-13h0m24 36h0m-22 8h0m76-9h0m3-11h0m22 18h0m-129-4h0m32 52h0m20-44h0m25-41h0m-4 35h0m-3-22h0m45 36h0m-94 2h0m55-57h0m-37 18h0m-67 71h0m77-36h0m-1 43h0m-32-52h0m20-68h0m41 52h0m-89 10h0m68-4h0m-35-64h0m72-2h0m-72 77h0m94-26h0m-52 42h0m-87-46h0m72 37h0m-52-71h0m28 45h0m255-76h0m114 29h0m13 58h0m-61 12h0m38-65h0m-32 67h0m37 34h0m-184-28h0m136-69h0m9 44h0m-30-44h0m21 24h0m57 19h0m-65 26h0m76-32h0m-15 27h0m-70-50h0m-15 59h0m67-18h0m-5 58h0m-37-57h0m-39-25h0m29 64h0m92-89h0m-73 59h0m-56-8h0m-4 32h0m-57-3h0m109-36h0m25 33h0m-23-26h0m-24 33h0m49-63h0m-28 42h0m28 20h0m-149-40h0m51 6h0m41 45h0m76-74h0m-127 10h0m84-25h0m-39-2h0m24 25h0m2 7h0m23 6h0m-17-1h0m15-4h0m-75 74h0m89-55h0m-42-38h0m-38-44h0m23-16h0m76 90h0m-139-24h0m81-10h0m-26 63h0m25-4h0m77-31h0m-120-30h0m16 50h0m28 19h0m-11-96h0m40 98h0m143-47h0m-206-35h0m162-41h0m-160 59h0m-8-7h0m88 63h0m-23-136h0m-75 125h0m-11 15h0m29 9h0m23-26h0m6 43h0m18-73h0m13 22h0m-13-59h0m41 32h0m37 24h0m-113-11h0m97-13h0m-128-25h0m48 28h0m27 17h0m-74 27h0m81 38h0m-15-58h0m-110-9h0m121-33h0m-57-2h0m-30 28h0m86 16h0m57 19h0m-149-17h0m66 33h0m82-29h0m90 5h0m-185-77h0m-75 9h0m130 88h0m-17-90h0m-76 62h0m25-77h0m43 57h0m21-22h0m8 86h0m-50-33h0m99 3h0m-92-26h0m1-41h0m-36-10h0m146 93h0m-108-25h0m-45-34h0m28 75h0m-25-16h0m72-50h0m10 27h0m-76-39h0m42-17h0m6 54h0m-12 7h0m9 16h0m-80-47h0m71-15h0m-27 22h0m-40 7h0m37-72h0m34 64h0m-46 44h0m7-83h0m18-8h0m51 10h0m-130 66h0m55 15h0m99-36h0m-27-42h0m-40-50h0m46 78h0m-98-14h0m104 4h0m-82 36h0m58-31h0m55-26h0m-59-50h0m-76 85h0m-1 59h0m126-38h0m-141-53h0m43 7h0m-68 37h0m138-55h0m-18 83h0m15-8h0m-111-65h0m-1 51h0m45-49h0m-19-50h0m55 95h0m44-60h0m6 48h0m58 44h0m-237-158h0m175 141h0m-181-71h0m232 118h0m18-29h0m-30-74h0m-88-1h0m69 15h0m-75-46h0m-16 89h0m42-91h0m15 69h0m-48-23h0m7 21h0m87-22h0m-58 48h0m33-14h0m-57-44h0m-18-6h0m-61 28h0m34 22h0m43-20h0m-42-22h0m62 68h0m-28-80h0m42 61h0m-38-36h0m72-65h0m-121 85h0m96 4h0m55-39h0m-117-33h0m-61 2h0m-46 15h0m165 102h0m-93-12h0m39-42h0m18 23h0m-41-9h0m113-62h0m2 69h0m-38-55h0m-48 27h0m12-50h0m-40 75h0m24 30h0m44-67h0m-88 3h0m58-4h0m-64-20h0m83 51h0m-62-4h0m138-33h0m-78-12h0m-72 72h0m55-78h0m-13 64h0m-18 29h0m27-81h0m-22 8h0m21 15h0m-65-7h0m77-41h0m29 45h0m13 4h0m-92-50h0m40 27h0m-12 64h0m124-8h0m-124-77h0m57 52h0m-1-10h0m-43-42h0m23 92h0m-51-100h0m41 115h0m-50-15h0m18-35h0m87-63h0m-94 74h0m41-52h0m32 47h0m-8 12h0m-65-9h0m2-45h0m12 9h0m51-11h0m4 43h0m34-69h0m42 103h0m-170-5h0m43-54h0m-30-9h0m30-15h0m-17-15h0m-22 70h0m21-134h0m98 143h0m-7-63h0m-28 59h0m-69 5h0m-24-12h0m109 58h0m-172-16h0m75-18h0m24 23h0m91-103h0m-127 30h0m124-18h0m-39 11h0m-58-20h0m-79 48h0m66-8h0m39-39h0m-33 73h0m21-30h0m-27 37h0m-3-40h0m93-38h0m8-25h0m-26 131h0m30-96h0m-127 19h0m-1-29h0m14 102h0m17-78h0m34-34h0m2 12h0m35 72h0m-25-64h0m2 96h0m-70-56h0m53-47h0m20 28h0m12-14h0m-21-45h0m13 139h0m28-48h0m-23 4h0m-8-14h0m60-31h0m-119-6h0m104-13h0m-120 47h0m115-2h0m-86-23h0m144 48h0m-118-14h0m-69 0h0m-20-37h0m108 58h0m-3-77h0m37 44h0m2 1h0m-43-16h0m70 28h0m-142-10h0m64-26h0m-70-1h0m50 30h0m-14 29h0m44-2h0m-4-13h0m-32-14h0m48 18h0m-24-12h0m33-39h0m-18 16h0m61 19h0m-70 6h0m-8 42h0m33-62h0m-11-52h0m-3 32h0m-75 12h0m-13 14h0m55-16h0m46 26h0m-41-15h0m-69-8h0m100 34h0m-38-42h0m20 26h0m-74-17h0m96-18h0m-85-41h0m120 23h0m-181 36h0m-93-8h0m-9 8h0m95 3h0m-52-5h0m-40 17h0m78-17h0m22-23h0m-23 14h0m11 28h0m-85-29h0m98 1h0m23-25h0m-54 76h0m5-49h0m-35 7h0m9-2h0m46 6h0m-85 0h0m44-7h0m14 12h0m16-18h0m-37 15h0m-18-16h0m1-24h0m-12 43h0m-15 7h0m97-54h0m-41 35h0m46-15h0m-103 16h0m121 1h0m-61 2h0m-50-8h0m26 10h0m3 7h0m-7-21h0m19 32h0m35-13h0m34-10h0m0-9h0m-58 29h0m18 7h0m7 4h0m-92-53h0m-52-9h0m-2-384h0m110-203h0m27 444h0m-114-336h0m32 248h0m475-226h0m-204-184h0m-17 257h0m-82-181h0m-140 163h0m511 398h0m62-633h0m-134 432h0m-329-335h0m202 120h0m-429 185h0m504-332h0" stroke="#6a70ff" stroke-width="6.0" stroke-linecap="square" fill="none"/><path transform="scale(0.1)" d="M3043 3603h0m21-28h0m41-85h0m31 98h0m-15-56h0m26-114h0m-60 165h0m-30-354h0m14 212h0m12 119h0m2-58h0m63 15h0m-31-225h0m-9 169h0m-60 50h0m34 64h0m32-41h0m-44 75h0m23-53h0m11-384h0m-38 367h0m56 69h0m-15-269h0m-32-141h0m-16 380h0m46 32h0m-33-33h0m41-394h0m-27 37h0m-13-18h0m25 241h0m10 166h0m46-388h0m-47-45h0m43 227h0m-49 131h0m38-95h0m-51 102h0m-37-86h0m52 137h0m-2-180h0m-18 135h0m-10 5h0m29-111h0m-34 70h0m55 1h0m9 63h0m-27-259h0m5 43h0m-12 217h0m-25-3h0m16 21h0m39-112h0m-29-44h0m4-240h0m-21 324h0m28 18h0m-3 59h0m-45-428h0m47 436h0m-4-8h0m19-305h0m-35-71h0m-20 100h0m57 273h0m-10-111h0m2-61h0m-43 168h0m-52-7h0m116 16h0m5-267h0m-51-49h0m-33 319h0m12-83h0m85-208h0m-76 125h0m20 147h0m-3 21h0m21-5h0m-99-81h0m59 89h0m-5-249h0m73 97h0m-61 98h0m-5-84h0m12-269h0m29 18h0m-14 294h0m-25 23h0m16-112h0m4 132h0m27-136h0m-36 168h0m-21 11h0m-33-10h0m69-152h0m5 19h0m-23 145h0m3-445h0m13 206h0m11-138h0m-33 384h0m30-138h0m-20-68h0m-39 206h0m50-17h0m-24-390h0m-54 348h0m65-159h0m19 219h0m-15-218h0m-42 118h0m47-256h0m37 346h0m7 10h0m-54-253h0m-53 9h0m82 237h0m-30-231h0m-38 107h0m38 51h0m-5-47h0m-5 13h0m-39 111h0m36-365h0m36 332h0m10-59h0m-23 45h0m8 48h0m21-69h0m-26-27h0m39 57h0m-62-333h0m-12 326h0m84 14h0m-43-17h0m57-50h0m-75 29h0m-43-146h0m57 7h0m-7 130h0m8 52h0m-4-124h0m-18 127h0m32-345h0m-41-13h0m56 188h0m-26 190h0m-27-255h0m24 232h0m-50-163h0m35-175h0m52 367h0m-21-209h0m-19 131h0m-45-93h0m66 171h0m-52-59h0m2 34h0m68-430h0m-75 105h0m47 189h0m7-249h0m-55-45h0m59 43h0m-14 187h0m1-29h0m-32 22h0m-25 132h0m57 98h0m6-43h0m-31-179h0m-42 224h0m60-387h0m-14 323h0m54 10h0m-41-83h0m0 128h0m14-151h0m-55 154h0m80-92h0m-61 97h0m57-28h0m-43-144h0m15 156h0m53-252h0m-58-90h0m47 354h0m-94-41h0m48-249h0m-33-55h0m-30 257h0m29-352h0m23 53h0m13 150h0m12 41h0m-20-73h0m-12 34h0m28 45h0m48-4h0m-72 76h0m-50 39h0m49 81h0m22-137h0m-51-175h0m9 20h0m29 270h0m21-322h0m-57 208h0m18 137h0m25-235h0m-7 70h0m12 73h0m-5 22h0m-1-313h0m8 291h0m-16-51h0m-29 40h0m10-209h0m29 21h0m-33-127h0m20 389h0m20 29h0m-65-61h0m65-190h0m-8 209h0m-31 14h0m-19-346h0m17 194h0m27-258h0m45 436h0m-72-337h0m19 208h0m52-84h0m-61 169h0m-13 37h0m-4-38h0m4 45h0m15-446h0m46 220h0m-42-267h0m-38-25h0m17 47h0m-17 36h0m56-12h0m-53-123h0m6 28h0m75 29h0m-87 27h0m44 53h0m279 56h0m-26 51h0m74-26h0m-57-63h0m-5 66h0m24 80h0m21-123h0m-27 183h0m-11-114h0m-34 205h0m8 45h0m59-64h0m-71 128h0m6-368h0m43 284h0m-14-166h0m-30 113h0m64-237h0m-58 220h0m51 114h0m-3-144h0m-5-213h0m-6 395h0m-50-31h0m8-52h0m32 78h0m19-292h0m-13-16h0m-56-49h0m42 312h0m64-253h0m-23-5h0m-2-19h0m-39 46h0m32-9h0m10 214h0m-32-223h0m-15 73h0m-35 121h0m47 46h0m16 1h0m-9-8h0m40-166h0m-29 149h0m15 20h0m-53 68h0m57-88h0m-71-196h0m9 121h0m-21-10h0m94-34h0m-19 163h0m-7-40h0m15-227h0m-71 274h0m30-271h0m5 291h0m17-118h0m1 118h0m-63-359h0m62 187h0m-18-25h0m-2 10h0m27 145h0m-1-278h0m32 224h0m-36-149h0m-25 214h0m-26-195h0m7-79h0m58 263h0m-5-320h0m-4-6h0m19 302h0m-34 12h0m-19 68h0m68-240h0m-107-106h0m5 323h0m-29-247h0m28-31h0m25-70h0m3 342h0m1-39h0m46-281h0m-53 265h0m49-7h0m-82 30h0m48-210h0m-14 188h0" stroke="#7078ff" stroke-width="6.0" stroke-linecap="square" fill="none"/><ellipse cx="309.5" cy="355" rx="3.6" ry="8.0" fill="url(#g11)" opacity="1.0"/><ellipse cx="309.9" cy="368.0" rx="7.0" ry="6.6" fill="url(#g12)" opacity="1.0"/><ellipse cx="338.0" cy="368.2" rx="9.4" ry="6.4" fill="url(#g13)" opacity="1.0"/><path d="M383.3 313.1 V292.1 H297 V377.6 H383.3 V365.6 M383.3 330.3 V348.4" fill="none" stroke="#111" stroke-width="1"/><path d="M296.70 295.00h-1.6 M296.70 298.48h-0.9 M296.70 301.96h-0.9 M296.70 305.43h-0.9 M296.70 308.91h-1.6 M296.70 312.39h-0.9 M296.70 315.87h-0.9 M296.70 319.35h-0.9 M296.70 322.83h-1.6 M296.70 326.30h-0.9 M296.70 329.78h-0.9 M296.70 333.26h-0.9 M296.70 336.74h-1.6 M296.70 340.22h-0.9 M296.70 343.70h-0.9 M296.70 347.17h-0.9 M296.70 350.65h-1.6 M296.70 354.13h-0.9 M296.70 357.61h-0.9 M296.70 361.09h-0.9 M296.70 364.57h-1.6 M296.70 368.04h-0.9 M296.70 371.52h-0.9 M296.70 375.00h-0.9" stroke="#555" stroke-width="0.5"/><path d="M300.00 377.90v1.6 M303.52 377.90v0.9 M307.04 377.90v0.9 M310.57 377.90v0.9 M314.09 377.90v1.6 M317.61 377.90v0.9 M321.13 377.90v0.9 M324.65 377.90v0.9 M328.17 377.90v1.6 M331.70 377.90v0.9 M335.22 377.90v0.9 M338.74 377.90v0.9 M342.26 377.90v1.6 M345.78 377.90v0.9 M349.30 377.90v0.9 M352.83 377.90v0.9 M356.35 377.90v1.6 M359.87 377.90v0.9 M363.39 377.90v0.9 M366.91 377.90v0.9 M370.43 377.90v1.6 M373.96 377.90v0.9 M377.48 377.90v0.9 M381.00 377.90v0.9" stroke="#555" stroke-width="0.5"/><rect x="323.80" y="309.60" width="24.80" height="67.80" stroke="#111" stroke-width="0.9" fill="none"/><line x1="323.80" y1="358.60" x2="348.60" y2="358.60" stroke="#111" stroke-width="0.9" /><text x="357.30" y="303.00" font-size="7.4" text-anchor="start" fill="#222" textLength="20.4" lengthAdjust="spacingAndGlyphs" stroke="#222" stroke-width="0.1">0.12%</text><text x="357.20" y="372.00" font-size="7.4" text-anchor="start" fill="#222" textLength="20.1" lengthAdjust="spacingAndGlyphs" stroke="#222" stroke-width="0.1">28.4%</text><text x="364.20" y="325.20" font-size="7.4" text-anchor="start" fill="#222" textLength="36.3" lengthAdjust="spacingAndGlyphs" >Tetramer +</text><text x="364.20" y="360.40" font-size="7.4" text-anchor="start" fill="#222" textLength="34.3" lengthAdjust="spacingAndGlyphs" >Tetramer <tspan fill="#3a7fd0">-</tspan></text><line x1="352.10" y1="329.70" x2="408.70" y2="329.70" stroke="#555" stroke-width="1.0" /><path d="M413.20 329.70 L408.20 327.30 L408.20 332.10 Z" fill="#111"/><line x1="383.40" y1="367.60" x2="408.70" y2="367.60" stroke="#555" stroke-width="1.0" /><path d="M413.20 367.60 L408.20 365.20 L408.20 370.00 Z" fill="#111"/><text x="291.60" y="306.30" font-size="6.4" text-anchor="middle" fill="#111" stroke="#111" stroke-width="0.22">10<tspan font-size="3.84" dy="-1.79" stroke-width="0.1">5</tspan></text><text x="291.60" y="327.80" font-size="6.4" text-anchor="middle" fill="#111" stroke="#111" stroke-width="0.22">10<tspan font-size="3.84" dy="-1.79" stroke-width="0.1">4</tspan></text><text x="291.60" y="348.60" font-size="6.4" text-anchor="middle" fill="#111" stroke="#111" stroke-width="0.22">10<tspan font-size="3.84" dy="-1.79" stroke-width="0.1">3</tspan></text><text x="291.60" y="372.20" font-size="6.4" text-anchor="middle" fill="#111" stroke="#111" stroke-width="0.22">0</text><text x="309.00" y="388.40" font-size="6.4" text-anchor="middle" fill="#111" stroke="#111" stroke-width="0.22">0</text><text x="325.30" y="388.40" font-size="6.4" text-anchor="middle" fill="#111" stroke="#111" stroke-width="0.22">10<tspan font-size="3.84" dy="-1.79" stroke-width="0.1">3</tspan></text><text x="350.70" y="388.40" font-size="6.4" text-anchor="middle" fill="#111" stroke="#111" stroke-width="0.22">10<tspan font-size="3.84" dy="-1.79" stroke-width="0.1">4</tspan></text><text x="374.30" y="388.40" font-size="6.4" text-anchor="middle" fill="#111" stroke="#111" stroke-width="0.22">10<tspan font-size="3.84" dy="-1.79" stroke-width="0.1">5</tspan></text><text x="281.10" y="331.40" font-size="8.6" text-anchor="middle" fill="#222" textLength="51" lengthAdjust="spacingAndGlyphs" transform="rotate(-90 281.10 331.40)" >HLA-DRB1*0701</text><text x="329.80" y="396.40" font-size="10.2" text-anchor="start" fill="#3a3a3a" textLength="14.1" lengthAdjust="spacingAndGlyphs" >CD4</text><line x1="415.40" y1="386.40" x2="415.40" y2="288.00" stroke="#666" stroke-width="1.0" /><path d="M415.40 283.50 L413.20 288.50 L417.60 288.50 Z" fill="#111"/><path transform="scale(0.1)" d="M4431 3109h0m50-33h0m-66 123h0m113-113h0m-128 3h0m57 82h0m70-96h0m-87-43h0m34 70h0m29 14h0m-54 21h0m-18 64h0m70-40h0m30-54h0m-47-36h0m-20-14h0m-85 45h0m95-24h0m-121 16h0m174 24h0m-132-7h0m32-10h0m-12-57h0m130 12h0m-15 96h0m-77 16h0m37-96h0m82 77h0m-84-14h0m-69 35h0m41-47h0m85-47h0m-36 47h0m-100-11h0m39-39h0m14 55h0m10 3h0m42-38h0m-36 66h0m-39-89h0m96 51h0m-44 19h0m-39 4h0m13-19h0m-59-53h0m66 3h0m-41 42h0m38 19h0m33-5h0m59-35h0m-87 56h0m-39-62h0m16-40h0m101 88h0m-131-9h0m82-52h0m38 34h0m-122 40h0m61-45h0m39 43h0m-68-49h0m32 34h0m26-97h0m-55 132h0m-8-62h0m44-17h0m-32 54h0m-82-19h0m-11 18h0m116-60h0" stroke="#2020ff" stroke-width="10.4" stroke-linecap="square" fill="none"/><path transform="scale(0.1)" d="M4485 2842h0m20 23h0m-75 320h0m25 25h0m-95 50h0m150-50h0m60 70h0m-130 5h0m40-45h0m100-180h0m20 50h0m-120 200h0" stroke="#2020ff" stroke-width="11.0" stroke-linecap="square" fill="none"/><path transform="scale(0.1)" d="M4817 3255h0m-12 25h0m8 27h0m117-83h0m-87 42h0m-50-52h0m46 5h0m-60 26h0m26 55h0m-17-26h0m-16 49h0m47-34h0m59-26h0m-59-52h0m63 47h0m-73 50h0m5-30h0m25-12h0m-18 32h0m-5-24h0m-20-12h0m10 49h0m17-92h0m-9 95h0m-11-30h0m23 0h0m20-15h0m-58-17h0m32 72h0m7-28h0m23-68h0m-68 53h0m36 0h0m19-48h0m35 22h0m10 45h0m-39-43h0m-72-7h0m-11-22h0m98 70h0m23-19h0m-67-31h0m45 71h0m29-27h0m-91-14h0" stroke="#2020ff" stroke-width="10.4" stroke-linecap="square" fill="none"/><path transform="scale(0.1)" d="M4695 3240h0m55-55h0m15 75h0m-25 50h0m35 75h0" stroke="#2020ff" stroke-width="11.0" stroke-linecap="square" fill="none"/><path transform="scale(0.1)" d="M4835 3302h0" stroke="#ff2000" stroke-width="12.0" stroke-linecap="square" fill="none"/><path transform="scale(0.1)" d="M4449 3903h0m-7 2h0m-16-63h0m31 171h0m11-187h0m49 140h0m-164-57h0m84-72h0m45 161h0m-107-52h0m155-95h0m-81 96h0m16-6h0m31-71h0m-150-21h0m135 52h0m40 32h0m-118-105h0m46 79h0m-32 6h0m95 34h0m-33-35h0m-52 38h0m20-154h0m75 76h0m63 52h0m-218-93h0m49 70h0m90 2h0m35-34h0m-2 67h0m-152-38h0m135 21h0m-25 50h0m-10-48h0m66-66h0m-216 32h0m164 32h0m-62-40h0m26 61h0m-97-64h0m191 79h0m-64-78h0m-81 59h0m-59 48h0m86-64h0m36-22h0m-78-11h0m146-29h0m11 116h0m-67-89h0m-49-11h0m106 110h0m-67-133h0m-126 51h0m91 41h0m6-100h0m100 107h0m-100 85h0m-34-127h0m57 25h0m89-34h0m-53-105h0m-107 173h0m127-30h0m-166 24h0m117 8h0m-33-18h0m92-38h0m32-10h0m-113 53h0m-39-43h0m-28 1h0m167-85h0m-35 102h0m-59 63h0m-25 15h0m-57-150h0m-2 54h0m102 44h0m-81-72h0m167 21h0m-161 9h0m-5-26h0m-35-33h0m150 170h0m-114-131h0m74 5h0m-17 13h0m-25-71h0m-47 83h0m143-68h0m-22 63h0m-29-19h0m-26 44h0m95 15h0m-110-135h0m45 62h0m-24 51h0m-4-64h0m12 52h0m28 11h0m6-39h0m-20 84h0m30-90h0m17-7h0m-167 102h0m107-42h0m-10 38h0m-12-157h0m-35 165h0m-33-90h0m92-133h0m236 157h0m-251-95h0m-3 126h0m5-97h0m25 46h0m39-34h0m27-48h0m-55 90h0m38-58h0m-32 157h0m8-19h0m-56-102h0m68 40h0m-97-26h0m84-40h0m-98 2h0m0 23h0m62 54h0m-113-32h0m31-69h0m258 99h0m-134-24h0m-129-4h0m0 0h0m-11 25h0m97-20h0m155-26h0m-50 44h0m-40-56h0m-37-21h0m31 47h0m13 8h0m148-92h0m-242 99h0m113-81h0m-75 52h0m94 19h0m-192-21h0m-40-28h0m14 20h0m53 45h0m105-45h0m7 125h0m-77-40h0m140-68h0m-78 58h0m-169-46h0m135-51h0m159 93h0m-196-79h0m156 20h0m-72 103h0m-84-102h0m24-15h0m44-10h0m176 73h0m-184-96h0m69 47h0m-169 41h0m100-24h0m-78 54h0m8-178h0m23 162h0m108-88h0m-9 79h0m-140-94h0m43 111h0m-66-60h0m161 26h0m41 6h0m-105 48h0m-3-134h0m-78 64h0m-42 102h0m75-68h0m-101-178h0m91 101h0m100 37h0m7-29h0m-28 18h0m61-60h0m-159 12h0m116 103h0m10 17h0m3-52h0m-130 18h0m48 111h0m-46-49h0m77 33h0m-41-166h0m4 0h0m67 34h0m-81 75h0m-49 23h0m252-34h0m-86-48h0m-81 100h0m-76-16h0m40-111h0m-53 46h0m-31 22h0m88 22h0m90-46h0m-130 7h0m39 22h0m-54 59h0m107-158h0m-28 117h0m7-40h0m-44 1h0m-31 52h0m-40-99h0m331 19h0m17 28h0m-145 6h0m-156-29h0m-41-36h0m156 117h0m-137-91h0m195 47h0m-62-79h0m-43 44h0m-3-14h0m80 27h0m-86 16h0m81 28h0m-48-33h0m-97-1h0m136-7h0m-131-4h0m29-29h0m20 29h0m47-17h0m-40-49h0m95 28h0m75 7h0m-190-30h0m9 100h0m22-27h0m132-27h0m-99-9h0m-81 93h0m104-136h0m-22 57h0m-2 6h0m-23-68h0m-7 14h0m-129 55h0m86-55h0m27-62h0m75 100h0m-100 84h0m-32 41h0m123-122h0m-75 67h0m127-40h0m-153-22h0m38-46h0m83 26h0m-91 15h0m-28 22h0m40-14h0m20 17h0m159-63h0m-182 19h0m108-43h0m-101 158h0m-131-122h0m139 59h0m2-22h0m-117-39h0m52-12h0m24 9h0m-90 11h0m237-14h0m-193 71h0m37 12h0m-50 17h0m180-51h0m-182-47h0m108 56h0m-103-18h0m53-23h0m52 10h0m38 36h0m-1-4h0m-2-48h0m-61-10h0m-11-1h0m-48-5h0m-11 21h0m-51 41h0m46 38h0m64-30h0m40-74h0m60 107h0m-28-28h0m-124 19h0m134-26h0m-124-39h0m44 62h0m75 14h0m-5-162h0m109 98h0m-191 43h0m49-96h0m-22-19h0m53 112h0m69-84h0m-216 128h0m75 20h0m-95-193h0m133 140h0m46-26h0m-40-53h0m-11 17h0m-33 41h0m-54-75h0m2 95h0m197-67h0m-201 97h0m159-56h0m-128-65h0m-46 144h0m129-141h0m-15-23h0m-114 23h0m106-37h0m52 81h0m-156-32h0m106-1h0m99-37h0m-97 59h0m41-10h0m-39 79h0m-126-139h0m24-31h0m171 123h0m-178-34h0m69 30h0m-15-17h0m67 25h0m57 13h0m50-75h0m-188 92h0m33-52h0m182 34h0m-61-86h0m-111 49h0m77 24h0m33-78h0m-122-8h0m148 38h0m-164 96h0m87-6h0m-6 69h0m157-121h0m-315-15h0m160 5h0m42 14h0m-144 25h0m-61-140h0m136 100h0m-86-9h0m77 82h0m-128-106h0m47-45h0m47 22h0m18 111h0m-102-23h0m187 13h0m-39-111h0m-1 59h0m-109-64h0m71 47h0m-52-29h0m7 21h0m86 27h0m-123 89h0m30-100h0m40 38h0m5-93h0m45 64h0m-138 26h0m90-90h0m26 49h0m45 12h0m-179-29h0m98 8h0m110-1h0m-215 20h0m94-34h0m8 105h0m22-29h0m-87-63h0m132 139h0m-63-144h0m90-11h0m31 74h0m-172-78h0m-15 73h0m26-113h0m125 128h0m-66-48h0m-66 48h0m5-93h0m17 81h0m31-33h0m-36 19h0m36-12h0m205 2h0m-174 21h0m-19-10h0m-123-27h0m206-45h0m-178 16h0m0 51h0m137-37h0m-95 46h0m59-18h0m-120 78h0m143-28h0m-71-99h0m183-88h0m-185 244h0m72-56h0m-165-86h0m202 0h0m-59 121h0m-54-99h0m12 127h0m212-114h0m-107 14h0m-63 29h0m-67-6h0m9-81h0m35 8h0m109 16h0m-35 37h0m-41-19h0m-69-3h0m101-71h0m-46 229h0m51-158h0m-174 26h0m158-101h0m-20 114h0m-66-28h0m-35-76h0m37 140h0m52-103h0m5-40h0m-111 46h0m97-44h0m-15 8h0m43 62h0m-82 69h0m9-9h0m-3-141h0m154 82h0m-153-59h0m126 27h0m-26 37h0m-4 28h0m4-44h0m-178 166h0m82-236h0m72 78h0m-34 30h0m-6-68h0m54 125h0m-84-122h0m61 122h0m-12-81h0m-54-7h0m114 55h0m94-51h0m-181-44h0m101-37h0m64 75h0m-115-73h0m78 188h0m57 16h0m-122-97h0m-99-64h0m94 15h0m-41 126h0m47-73h0m-79 58h0m-27 97h0m30-159h0m11 196h0m2-183h0m86 114h0m-66 35h0m-43-65h0m60 43h0m-62-83h0m-70 5h0m264-33h0m-69 23h0m-72 43h0m-123-64h0m173 58h0m-80-108h0m65 92h0m-98 131h0m-53-113h0m113-37h0m-100 136h0m-2-108h0m-19-30h0m13 106h0m157-110h0m-90 171h0m128-89h0m-180 58h0m96 3h0m-34-45h0m-30-108h0m-24 5h0m116 129h0m31-38h0m-21-65h0m67 51h0m-47-32h0m-51-46h0m-59 68h0m130-43h0m-149-98h0m111 113h0m-45-14h0m-22 158h0m-23-124h0m-1 12h0m45 65h0m86-6h0m-38-127h0m87 120h0m-263-93h0m81 13h0m166-31h0m-208 66h0m150 17h0m-75-69h0m-16-4h0m88 40h0m-93-32h0m64-31h0m-42-35h0m67 117h0m-27-43h0m-37-29h0m-22 23h0m-26 48h0m43 6h0m22-43h0m46 55h0m-89-33h0m97-71h0m-76 73h0m22-20h0m75 107h0m-79-110h0m-28 84h0m154-30h0m-60-36h0m37 47h0m-111 22h0m32-41h0m-24-16h0m20 2h0m60-83h0m-182-2h0m197 105h0m-212 34h0m106-116h0m-6-49h0m30 98h0m20 76h0m-68-89h0m-62-11h0m146 67h0m-83-66h0m-55 63h0m66-36h0m26-48h0m-55 22h0m54 41h0m-1-28h0m-43-53h0m39 52h0m-38 78h0m49-117h0m-45 36h0m-24 133h0m23-85h0m28-161h0m-33 101h0m3-15h0m32 38h0m-5-44h0m27-47h0m-105 49h0m113 95h0m14-78h0m29-82h0m-156 79h0m43 100h0m-26-118h0m104 97h0m-98-86h0m66 41h0m-7-76h0m-38 10h0m-85 55h0m314-28h0m-215 9h0m103-23h0m-90 48h0m60-15h0m-116-95h0m59 48h0m68 70h0m-79-36h0m59-52h0m-137 13h0m91 13h0m-93-19h0m40-8h0m49 164h0m92-85h0m-80-26h0m-53 96h0m-42-66h0m43 38h0m85 25h0m44-83h0m-20 33h0m-46 54h0m-40 56h0m115-148h0m24-41h0m-38 122h0m-126-109h0m219 8h0m-226 50h0m47 17h0m116-14h0m-56 24h0m-123-60h0m20-8h0m63 29h0m14-61h0m34 53h0m-81 33h0m28-26h0m90-47h0m5 54h0m-88 62h0m-21-119h0m-15-64h0m29 150h0m53 67h0m-116-159h0m240 106h0m-222-129h0m143 79h0m-190 50h0m13 11h0m19 17h0m-59-152h0m169 53h0m-156 67h0m4-90h0m0 107h0m152-13h0m-123-38h0m25-60h0m-25-73h0m123 40h0m-16 33h0m-73 70h0m34 14h0m67-39h0m-93-45h0m113 95h0m-77-186h0m-51 160h0m41-40h0m-43 4h0m86 29h0m-71-70h0m109 30h0m-152-29h0m35 84h0m153-45h0m-85-50h0m-101 58h0m105 47h0m-4-5h0m-51 1h0m138-125h0m-39 20h0m-4 85h0m-53-21h0m-126-3h0m91 83h0m-32-132h0m37 188h0m30-67h0m-15-79h0m-130-96h0m105 30h0m111 51h0m-139 126h0m-54-113h0m164 43h0m-123-61h0m104-48h0m53 90h0m-129-37h0m44 101h0m-9-180h0m32 6h0m-17 34h0m42 110h0m-82 3h0m-6-83h0m25 1h0m-70-15h0m-26 79h0m68-69h0m-43 112h0m5-194h0m20 60h0m157 97h0m28-14h0m-145 13h0m50-1h0m-26 78h0m-127-50h0m7 71h0m11-172h0m92 61h0m-17-113h0m92 97h0m22 29h0m-109 2h0m61-8h0m-80-22h0m-4-43h0m109-15h0m-108 60h0m-60-5h0m98 39h0m26-8h0m0-123h0m-2 84h0m-103 84h0m83-71h0m-116-3h0m66 0h0m78-23h0m-93-20h0m34-11h0m-18 86h0m15 17h0m-19-95h0m134-10h0m-27 91h0m-76-132h0m5 178h0m-93-148h0m133 22h0m-40 63h0m-75 111h0m109-14h0m33-86h0m-78-58h0m92-126h0m-1 205h0m84-25h0m-143-70h0m43 72h0m-118 100h0m86-184h0m16 99h0m76 1h0m-196-99h0m145 79h0m-94-28h0m-16-67h0m58 92h0m113-58h0m-139 31h0m42 59h0m-150-3h0m164-52h0m-169-131h0m176 9h0m-20 137h0m8 4h0m8 22h0m4-79h0m14 38h0m-124 70h0m115-126h0m4 111h0m-15-75h0m15 73h0m1-15h0m59-30h0m-89-58h0m-84 27h0m-18 34h0m25 113h0m84-70h0m-80-124h0m48 31h0m-27 66h0m23 41h0m-64-78h0m89-50h0m34-165h0m-9 344h0m-32-68h0m-125-153h0m145 173h0m-56-89h0m15 77h0m88 20h0m-74 34h0m-24-144h0m64-11h0m-86 87h0m79-25h0m36-21h0m-127 84h0m49-97h0m-14-3h0m16-64h0m-67 33h0m69 54h0m-67-106h0m49 101h0m31-48h0m44 30h0m-16 47h0m-65-96h0m32 4h0m-37 43h0m67 16h0m53 92h0m6-95h0m-117 62h0m158-15h0m-99-27h0m-71-5h0m-6-58h0m-61 96h0m-29-9h0m122-18h0m-23-41h0m115-18h0m-61 57h0m-49-6h0m-92 56h0m85-44h0m162-23h0m-132-55h0m-73 162h0m153-60h0m-7-35h0m-120 75h0m85-32h0m-26-38h0m-23-88h0m15 15h0m-22-14h0m65-87h0m-4 262h0m-140-191h0m122 91h0m53-44h0m-121 93h0m-64 25h0m30-74h0m40 19h0m62 34h0m85-63h0m-124-48h0m89-36h0m-128 35h0m-21 120h0m87-83h0m75-64h0m-76 130h0m47-109h0m15 160h0m-54-196h0m76 138h0m-126-26h0m38-17h0m-77-116h0m22 97h0m7 141h0m434-20h0m-25-97h0m15-7h0m-44 12h0m82 55h0m-69 41h0m60-10h0m-15-76h0m-51-12h0m90 38h0m-86-2h0m-117 12h0m92-23h0m111 20h0m-18-5h0m17-55h0m-56 64h0m62-52h0m-65 110h0m-26-70h0m-19-12h0m38-13h0m-16-8h0m102-37h0m-38 40h0m-131-32h0m173 71h0m-89-19h0m60-73h0m22 42h0m-74 102h0m15-108h0m-55 55h0m-44-136h0m42 142h0m-17-7h0m1-76h0m138 1h0m-155 27h0m-73 56h0m83-164h0m18 115h0m105 5h0m-108 1h0m-33 21h0m155-58h0m-50 36h0m-83 7h0m93 74h0m-137-124h0m80-8h0m69 149h0m-78-130h0m131-13h0m-46-29h0m34 45h0m-114-78h0m24 94h0m11 58h0m86-52h0m5 22h0m-65-9h0m-155-43h0m192-6h0m-51 66h0m-81-20h0m71-7h0m-32 58h0m49 1h0m33-77h0m-101 1h0m120 12h0m-47 63h0m-55-89h0m112 44h0m-103 28h0m67-3h0m-48-2h0m-145-100h0m182 28h0m-95 12h0m-152 38h0m91 80h0m26-133h0m-61 48h0m202 42h0m-38-48h0m-46 81h0m58-93h0m-27-5h0m32 41h0m-167-38h0m-73-26h0m258 60h0m43-58h0m-133 34h0m73-62h0m-46 145h0m91-114h0m-190 72h0m137-4h0m-84-63h0m15 32h0m-57-89h0m-50 45h0m227 57h0m-184-26h0m110 74h0m-22-68h0m-1 26h0m50-20h0m-200 63h0m163-33h0m-19-66h0m91 39h0m-69 50h0m53-23h0m39-58h0m-145-34h0m45 30h0m50-107h0m-80 86h0m103 142h0m-8-53h0m-99 63h0m42-107h0m37 27h0m55-7h0m-121 49h0m61-75h0m-55-43h0m-107 29h0m184 95h0m31-87h0m-380 123h0m266-85h0m27-35h0m-83 18h0m177 10h0m-165-41h0m152 136h0m-122-133h0m-30 127h0m35-98h0m62 55h0m49-133h0m8 75h0m12 45h0m-146-4h0m135 70h0m-109-115h0m56 21h0m-23-22h0m-70-23h0m11-17h0m119 11h0m-70 14h0m82 126h0m-170-108h0m136-62h0m-94 36h0m-34 18h0m79 31h0m47 22h0m8-12h0m-20-88h0m-13-16h0m50 84h0m-119 39h0m-31-36h0m1 7h0m106-1h0m42-61h0m-95 20h0m3-10h0m78 83h0m-121-37h0m49 76h0m78-116h0m-19-12h0m35 26h0m-194 73h0m199-55h0m-107-15h0m129 39h0m-141-57h0m93-6h0m-62 40h0m34-37h0m10 15h0m49-54h0m-52 86h0m-93-64h0m106 114h0m-137-103h0m184 19h0m-129-10h0m12 60h0m134-12h0m-154 36h0m-40-119h0m85 15h0m-69 38h0m96-28h0m-7 115h0m-1-52h0m38 25h0m-199-23h0m162-34h0m4-44h0m-62-18h0m81 10h0m-101 32h0m127-19h0m-28 5h0m6 89h0m-168-11h0m144-53h0m-14 121h0m-84-66h0m19-70h0m125-34h0m-95 79h0m-4-43h0m48 42h0m3 35h0m-58-22h0m-26-8h0m3 0h0m62-49h0m33 8h0m-170 82h0m127-46h0m-37-22h0m-36-16h0m85 18h0m-89-1h0m124 3h0m-111 107h0m51-112h0m60 23h0m27-32h0m27-3h0m-79 21h0m88 21h0m-213-4h0m-69 94h0m173-114h0m47-30h0m-51 40h0m48 14h0m-41-39h0m-25-20h0m-85 61h0m76-22h0m84 39h0m23-78h0m-86 31h0m-95 54h0m-53-70h0m184 71h0m-186-59h0m118 35h0m22-9h0m76-56h0m28 99h0m-1-61h0m-78 107h0m-49-155h0m121 42h0m-101 94h0m-41-169h0m45 156h0m63-61h0m73-53h0m-149 24h0m76-29h0m25 77h0m-83 1h0m64-64h0m19-35h0m44 73h0m-227-21h0m112 81h0m100-42h0m-96-102h0m34 108h0m80-11h0m-142 21h0m3-44h0m-13-14h0m-22 22h0m162 25h0m-34-6h0m-144-34h0m48 3h0m117 95h0m-47-102h0m-125 30h0m76 96h0m80-132h0m-121 58h0m-58-3h0m212 3h0m-75-38h0m-50 44h0m74-44h0m-36-34h0m-170-56h0m78 91h0m86-61h0m-6 126h0m74-78h0m-123 53h0m82 14h0m-43-69h0m-9 34h0m68 3h0m-5-12h0m9-66h0m-169 62h0m125 74h0m79-60h0m-123 33h0m83-11h0m-22-10h0m44-56h0m-102-1h0m-34 69h0m109-30h0m-40 6h0m-98-83h0m53 49h0m5 1h0m33 27h0m-41-48h0m104 111h0m-41-86h0m-50-39h0m-76 80h0m50-59h0m41 96h0m55-28h0m-24-4h0m29-48h0m-9 8h0m-7-47h0m31 60h0m-56-13h0m60 110h0m-67-88h0m71 2h0m44-28h0m-124-12h0m-1 67h0m0-4h0m-34 27h0m40-62h0m111-39h0m-81 55h0m18-20h0m-20-50h0m-52 69h0m-34-68h0m162 29h0m-53 8h0m31-56h0m-58 105h0m52 40h0m-42-64h0m-202-78h0m222 84h0m32-20h0m-79-18h0m-113 33h0m214-60h0m-78 121h0m24 9h0m40-120h0m-126-22h0m114-12h0m36 87h0m-206-32h0m-1-88h0m90 169h0m-5-51h0m-45 5h0m-12-10h0m92-13h0m-156-37h0m195 34h0m-137-40h0m144 86h0m-156-15h0m-31-34h0m61 78h0m152-57h0m-139 6h0m36-65h0m-45 45h0m42-31h0m43 48h0m-26 61h0m-71-151h0m81 95h0m-9-33h0m64-10h0m-68 50h0m-31 12h0m1-17h0m126-139h0m-167 145h0m137 3h0m-95-96h0m75 91h0m35-31h0m-89-62h0m-19 114h0m75-55h0m-73 28h0m101 4h0m-243 23h0m10-43h0m249-12h0m-11-13h0m-119-8h0m143-10h0m-277 22h0m149 4h0m16 112h0m-117-72h0m67 2h0m138-1h0m-183-1h0m27-63h0m160 139h0m-158-158h0m90 11h0m-21 98h0m-142-24h0m137 30h0m-103-20h0m72-85h0m-13 10h0m138 15h0m-154 3h0m-15 40h0m176 61h0m-138-21h0m44-82h0m27-77h0m-58 19h0m-17 99h0m18 8h0m-49-102h0m100 100h0m12 84h0m-165-115h0m220 47h0m-28-30h0m-11 34h0m-16-48h0m-78 7h0m145 7h0m-55 36h0m21-32h0m-92 2h0m-1-86h0m7 153h0m9-77h0m83 18h0m-122-140h0m27 133h0m38-41h0m-42-10h0m-44 75h0m134-98h0m-67-27h0m-26 79h0m41 5h0m-51-6h0m41 56h0m-107 58h0m-103-241h0m219 115h0m-39-62h0m14 90h0m93-49h0m-213 14h0m65 32h0m-2-15h0m31-6h0m28 101h0m-21-95h0m65 28h0m-16-83h0m-67 40h0m130-15h0m-93-33h0m13 96h0m-115-69h0m-27-24h0m19 22h0m-321 135h0m-26-199h0m193-92h0m191 234h0m72 24h0m-49-274h0m-180-42h0m-243 267h0m390-71h0m33 98h0m-81-46h0m-281 7h0m-34-129h0m306 80h0m-246 106h0m216-290h0m-210 206h0m376 117h0m-67-291h0m-343 311h0m197-83h0m23-273h0m-153 254h0m-86 24h0m123-96h0m32-28h0m285-16h0m-26 26h0m-152-152h0m35 68h0m-175 159h0m178 21h0m233 66h0m-226-319h0m90 120h0m-380-35h0m323-92h0m-335 86h0m54 207h0m-2-256h0m477 7h0m-253 20h0m-109 268h0m254-105h0m-440-133h0m37 61h0m360-153h0m52 229h0m-288-136h0m294 47h0m-312-89h0m-164 253h0m501-253h0m-237 95h0m284-153h0m-523 243h0m514-22h0m-262-124h0m-170 227h0m172-19h0m110 12h0m-15-19h0m-317 6h0m472-61h0m-138-189h0m86 180h0m-383 2h0m-58-206h0m298-24h0m187 140h0m-53 34h0m97-177h0m-380 340h0m-21-129h0m8 126h0m116-12h0m-68-8h0m71-272h0m226 74h0m-54 152h0m-287-96h0m137-12h0m-288-143h0m398 275h0m-54-194h0m169-74h0m-394 28h0m60-22h0m330 209h0m37 62h0m-492-123h0m82 40h0m-12 23h0m358-135h0m-334 122h0m223 126h0m84-164h0m7-26h0m-248-87h0m142 54h0m161-26h0m-459 68h0m382-8h0m-293-47h0m-107 201h0m502-188h0m-185-136h0m-229 34h0m193-5h0m-314 80h0m393 22h0m-411 122h0m573-132h0m-61-57h0m-509-54h0m30 269h0m158-205h0m156-30h0m-112 222h0m-8-228h0m-209 98h0m248-64h0m83 231h0m209-101h0m-518 128h0m198-223h0m54 166h0m11 42h0m93-260h0m-228 105h0m8 157h0m-24-214h0m375 23h0m-202 11h0m-246 119h0m-77 44h0m504-120h0m-105-162h0m150 228h0m-372 48h0m-7-133h0m269 200h0m-25-245h0m-382 171h0m39-238h0m448-24h0m-87 185h0m105 122h0m-463-270h0m186 93h0m-127 172h0m139-27h0m-101-159h0m401 98h0m-489-62h0m398-96h0m-255 199h0m-20-69h0m-45-130h0m397 44h0m-581-3h0m362-7h0m151 111h0m-229 80h0m285-219h0m-20 113h0m-120 98h0m84-90h0m48-22h0m-108 116h0m-15-273h0m-298 120h0m-34-155h0m187 307h0m158-39h0m7-149h0m-8 18h0m-411-1h0m460 214h0m-12-254h0m-10 105h0m-240 71h0m-92-95h0m-36-86h0m458-39h0m-327 123h0m-119-132h0m-76-20h0m506 18h0m-290 204h0m234-240h0m38 23h0m-432 296h0m288-252h0m-97 50h0m-29-14h0m60 200h0m-265-263h0m94 155h0m206-153h0m-21-3h0m-299 24h0m-5 125h0m223-40h0m-169-44h0m310 57h0m-36-32h0m-225 25h0m6 17h0m293 77h0m42-158h0m-203 46h0m279 152h0m-102-182h0m-63 190h0m-358-215h0m139-84h0m-132 360h0m329-63h0m114-286h0m-462 20h0m414 18h0m-433 113h0m215 86h0m201-36h0m-350 69h0m251 57h0m-215-135h0m250-166h0m-8 53h0m-126 116h0m84-54h0m164 197h0m-433 14h0m162-292h0m321 294h0m-376-1h0m122-212h0m101 64h0m-185-33h0m159-182h0m86 64h0m-121 59h0m11 142h0m273 84h0m-231 11h0m-153-362h0m190 67h0m-367 175h0m446 1h0m-298-61h0m310 12h0m104 168h0m-192-177h0m-339-42h0m346-80h0m-105 149h0m39 45h0m-8 75h0m-66-101h0m119 108h0m-144-168h0m-11 6h0m-1 50h0m174 57h0m-11 4h0m-145-89h0m49 82h0m-70-10h0m31-81h0m36 7h0m6 28h0m95 65h0m-87 53h0m-88-43h0m133-96h0m-6 34h0m-142-127h0m207 70h0m-51 107h0m-31-147h0m80 86h0m-13-23h0m-172 20h0m180 16h0m-107-15h0m128 6h0m0 117h0m-218-82h0m158 30h0m40-93h0m-134-30h0m44 152h0m-25-37h0m-10-129h0m74 47h0m-122 53h0m108-108h0m70-31h0m-98 200h0m51-53h0m17-69h0m-119 81h0m123 10h0m-74-2h0m-99-18h0m49-39h0m-3 10h0m33 83h0m37-88h0m81-1h0m-28-19h0m-131 12h0m37-9h0m-81 63h0m86-89h0m35 8h0m36-104h0m-88 126h0m15-27h0m38-38h0m-108-68h0m-1 124h0m18-34h0m110-14h0m-91 97h0m177-133h0m-103 111h0m31 2h0m21 21h0m11 44h0m-159-113h0m72-7h0m70 22h0m-5-7h0m-89-26h0m-52 12h0m72 5h0m-28-100h0m20 187h0m98-70h0m-179 28h0m8-2h0m131 27h0m24-8h0m37-37h0m-174 22h0m20 73h0m-52-80h0m184-58h0m-60 134h0m-93-54h0m185 67h0m-82-113h0m-67 148h0m94-286h0m62 201h0m-108 42h0m-43-112h0m68 61h0m-77-72h0m50-2h0m59-64h0m-58 86h0m-57 47h0m95-32h0m42 24h0m-40 6h0m-100-102h0m92 88h0m37 39h0m-60-25h0m-54-32h0m90-23h0m58-26h0m-84 36h0m21 80h0m32-72h0m18-61h0m0 115h0m-46-52h0m-50-25h0m13 44h0m-25-18h0m13 29h0m24 41h0m92-132h0m-86 74h0m-107 77h0m66 21h0m99-115h0m-183-20h0m49-27h0m76-30h0m-37 48h0m119-90h0m-107 97h0m-97 59h0m34 58h0m-40-79h0m78 52h0m57-55h0m-60-37h0m-18 140h0m-30-85h0m50 18h0m-12-41h0" stroke="#7078ff" stroke-width="6.0" stroke-linecap="square" fill="none"/><ellipse cx="446" cy="401" rx="10" ry="9" fill="url(#g14)" opacity="1.0"/><ellipse cx="447.5" cy="389.0" rx="12.5" ry="7.6" fill="url(#g15)" opacity="1.0"/><ellipse cx="487.2" cy="405.6" rx="10.5" ry="7.2" fill="url(#g16)" opacity="1.0"/><rect x="432.10" y="275.40" width="63.90" height="63.40" stroke="#111" stroke-width="1.0" fill="none"/><path d="M431.80 278.40h-1.6 M431.80 281.13h-0.9 M431.80 283.87h-0.9 M431.80 286.60h-0.9 M431.80 289.33h-1.6 M431.80 292.07h-0.9 M431.80 294.80h-0.9 M431.80 297.53h-0.9 M431.80 300.27h-1.6 M431.80 303.00h-0.9 M431.80 305.73h-0.9 M431.80 308.47h-0.9 M431.80 311.20h-1.6 M431.80 313.93h-0.9 M431.80 316.67h-0.9 M431.80 319.40h-0.9 M431.80 322.13h-1.6 M431.80 324.87h-0.9 M431.80 327.60h-0.9 M431.80 330.33h-0.9 M431.80 333.07h-1.6 M431.80 335.80h-0.9" stroke="#555" stroke-width="0.5"/><path d="M435.10 339.10v1.6 M437.86 339.10v0.9 M440.61 339.10v0.9 M443.37 339.10v0.9 M446.13 339.10v1.6 M448.89 339.10v0.9 M451.64 339.10v0.9 M454.40 339.10v0.9 M457.16 339.10v1.6 M459.91 339.10v0.9 M462.67 339.10v0.9 M465.43 339.10v0.9 M468.19 339.10v1.6 M470.94 339.10v0.9 M473.70 339.10v0.9 M476.46 339.10v0.9 M479.21 339.10v1.6 M481.97 339.10v0.9 M484.73 339.10v0.9 M487.49 339.10v0.9 M490.24 339.10v1.6 M493.00 339.10v0.9" stroke="#555" stroke-width="0.5"/><rect x="432.50" y="353.50" width="64.30" height="64.30" stroke="#111" stroke-width="1.0" fill="none"/><path d="M432.20 356.50h-1.6 M432.20 359.28h-0.9 M432.20 362.05h-0.9 M432.20 364.83h-0.9 M432.20 367.60h-1.6 M432.20 370.38h-0.9 M432.20 373.16h-0.9 M432.20 375.93h-0.9 M432.20 378.71h-1.6 M432.20 381.49h-0.9 M432.20 384.26h-0.9 M432.20 387.04h-0.9 M432.20 389.81h-1.6 M432.20 392.59h-0.9 M432.20 395.37h-0.9 M432.20 398.14h-0.9 M432.20 400.92h-1.6 M432.20 403.70h-0.9 M432.20 406.47h-0.9 M432.20 409.25h-0.9 M432.20 412.02h-1.6 M432.20 414.80h-0.9" stroke="#555" stroke-width="0.5"/><path d="M435.50 418.10v1.6 M438.28 418.10v0.9 M441.05 418.10v0.9 M443.83 418.10v0.9 M446.60 418.10v1.6 M449.38 418.10v0.9 M452.16 418.10v0.9 M454.93 418.10v0.9 M457.71 418.10v1.6 M460.49 418.10v0.9 M463.26 418.10v0.9 M466.04 418.10v0.9 M468.81 418.10v1.6 M471.59 418.10v0.9 M474.37 418.10v0.9 M477.14 418.10v0.9 M479.92 418.10v1.6 M482.70 418.10v0.9 M485.47 418.10v0.9 M488.25 418.10v0.9 M491.02 418.10v1.6 M493.80 418.10v0.9" stroke="#555" stroke-width="0.5"/><rect x="462.70" y="315.40" width="32.80" height="23.20" stroke="#333" stroke-width="0.8" fill="none"/><rect x="463.40" y="392.50" width="32.90" height="25.10" stroke="#333" stroke-width="0.8" fill="none"/><text x="470.00" y="287.20" font-size="7.4" text-anchor="start" fill="#222" textLength="20.8" lengthAdjust="spacingAndGlyphs" stroke="#222" stroke-width="0.1">36.6%</text><text x="470.00" y="365.50" font-size="7.4" text-anchor="start" fill="#222" textLength="20.7" lengthAdjust="spacingAndGlyphs" stroke="#222" stroke-width="0.1">35.0%</text><text x="424.80" y="284.60" font-size="6.4" text-anchor="middle" fill="#111" stroke="#111" stroke-width="0.22">10<tspan font-size="3.84" dy="-1.79" stroke-width="0.1">5</tspan></text><text x="424.80" y="300.00" font-size="6.4" text-anchor="middle" fill="#111" stroke="#111" stroke-width="0.22">10<tspan font-size="3.84" dy="-1.79" stroke-width="0.1">4</tspan></text><text x="424.80" y="316.70" font-size="6.4" text-anchor="middle" fill="#111" stroke="#111" stroke-width="0.22">10<tspan font-size="3.84" dy="-1.79" stroke-width="0.1">3</tspan></text><text x="424.80" y="332.70" font-size="6.4" text-anchor="middle" fill="#111" stroke="#111" stroke-width="0.22">0</text><text x="436.80" y="349.10" font-size="6.4" text-anchor="middle" fill="#111" stroke="#111" stroke-width="0.22">-10<tspan font-size="3.84" dy="-1.79" stroke-width="0.1">3</tspan></text><text x="447.40" y="349.10" font-size="6.4" text-anchor="middle" fill="#111" stroke="#111" stroke-width="0.22">0</text><text x="457.30" y="349.10" font-size="6.4" text-anchor="middle" fill="#111" stroke="#111" stroke-width="0.22">10<tspan font-size="3.84" dy="-1.79" stroke-width="0.1">3</tspan></text><text x="475.30" y="349.10" font-size="6.4" text-anchor="middle" fill="#111" stroke="#111" stroke-width="0.22">10<tspan font-size="3.84" dy="-1.79" stroke-width="0.1">4</tspan></text><text x="493.00" y="349.10" font-size="6.4" text-anchor="middle" fill="#111" stroke="#111" stroke-width="0.22">10<tspan font-size="3.84" dy="-1.79" stroke-width="0.1">5</tspan></text><text x="424.80" y="361.70" font-size="6.4" text-anchor="middle" fill="#111" stroke="#111" stroke-width="0.22">10<tspan font-size="3.84" dy="-1.79" stroke-width="0.1">5</tspan></text><text x="424.80" y="376.90" font-size="6.4" text-anchor="middle" fill="#111" stroke="#111" stroke-width="0.22">10<tspan font-size="3.84" dy="-1.79" stroke-width="0.1">4</tspan></text><text x="424.80" y="393.50" font-size="6.4" text-anchor="middle" fill="#111" stroke="#111" stroke-width="0.22">10<tspan font-size="3.84" dy="-1.79" stroke-width="0.1">3</tspan></text><text x="424.80" y="409.80" font-size="6.4" text-anchor="middle" fill="#111" stroke="#111" stroke-width="0.22">0</text><text x="436.80" y="425.50" font-size="6.4" text-anchor="middle" fill="#111" stroke="#111" stroke-width="0.22">-10<tspan font-size="3.84" dy="-1.79" stroke-width="0.1">3</tspan></text><text x="447.40" y="425.50" font-size="6.4" text-anchor="middle" fill="#111" stroke="#111" stroke-width="0.22">0</text><text x="457.30" y="425.50" font-size="6.4" text-anchor="middle" fill="#111" stroke="#111" stroke-width="0.22">10<tspan font-size="3.84" dy="-1.79" stroke-width="0.1">3</tspan></text><text x="475.30" y="425.50" font-size="6.4" text-anchor="middle" fill="#111" stroke="#111" stroke-width="0.22">10<tspan font-size="3.84" dy="-1.79" stroke-width="0.1">4</tspan></text><text x="493.00" y="425.50" font-size="6.4" text-anchor="middle" fill="#111" stroke="#111" stroke-width="0.22">10<tspan font-size="3.84" dy="-1.79" stroke-width="0.1">5</tspan></text><text x="419.40" y="402.40" font-size="10.2" text-anchor="middle" fill="#3a3a3a" textLength="18.9" lengthAdjust="spacingAndGlyphs" transform="rotate(-90 419.40 402.40)" >CD27</text><text x="456.10" y="435.80" font-size="10.2" text-anchor="start" fill="#3a3a3a" textLength="18.5" lengthAdjust="spacingAndGlyphs" >CD57</text></svg></body></html>
